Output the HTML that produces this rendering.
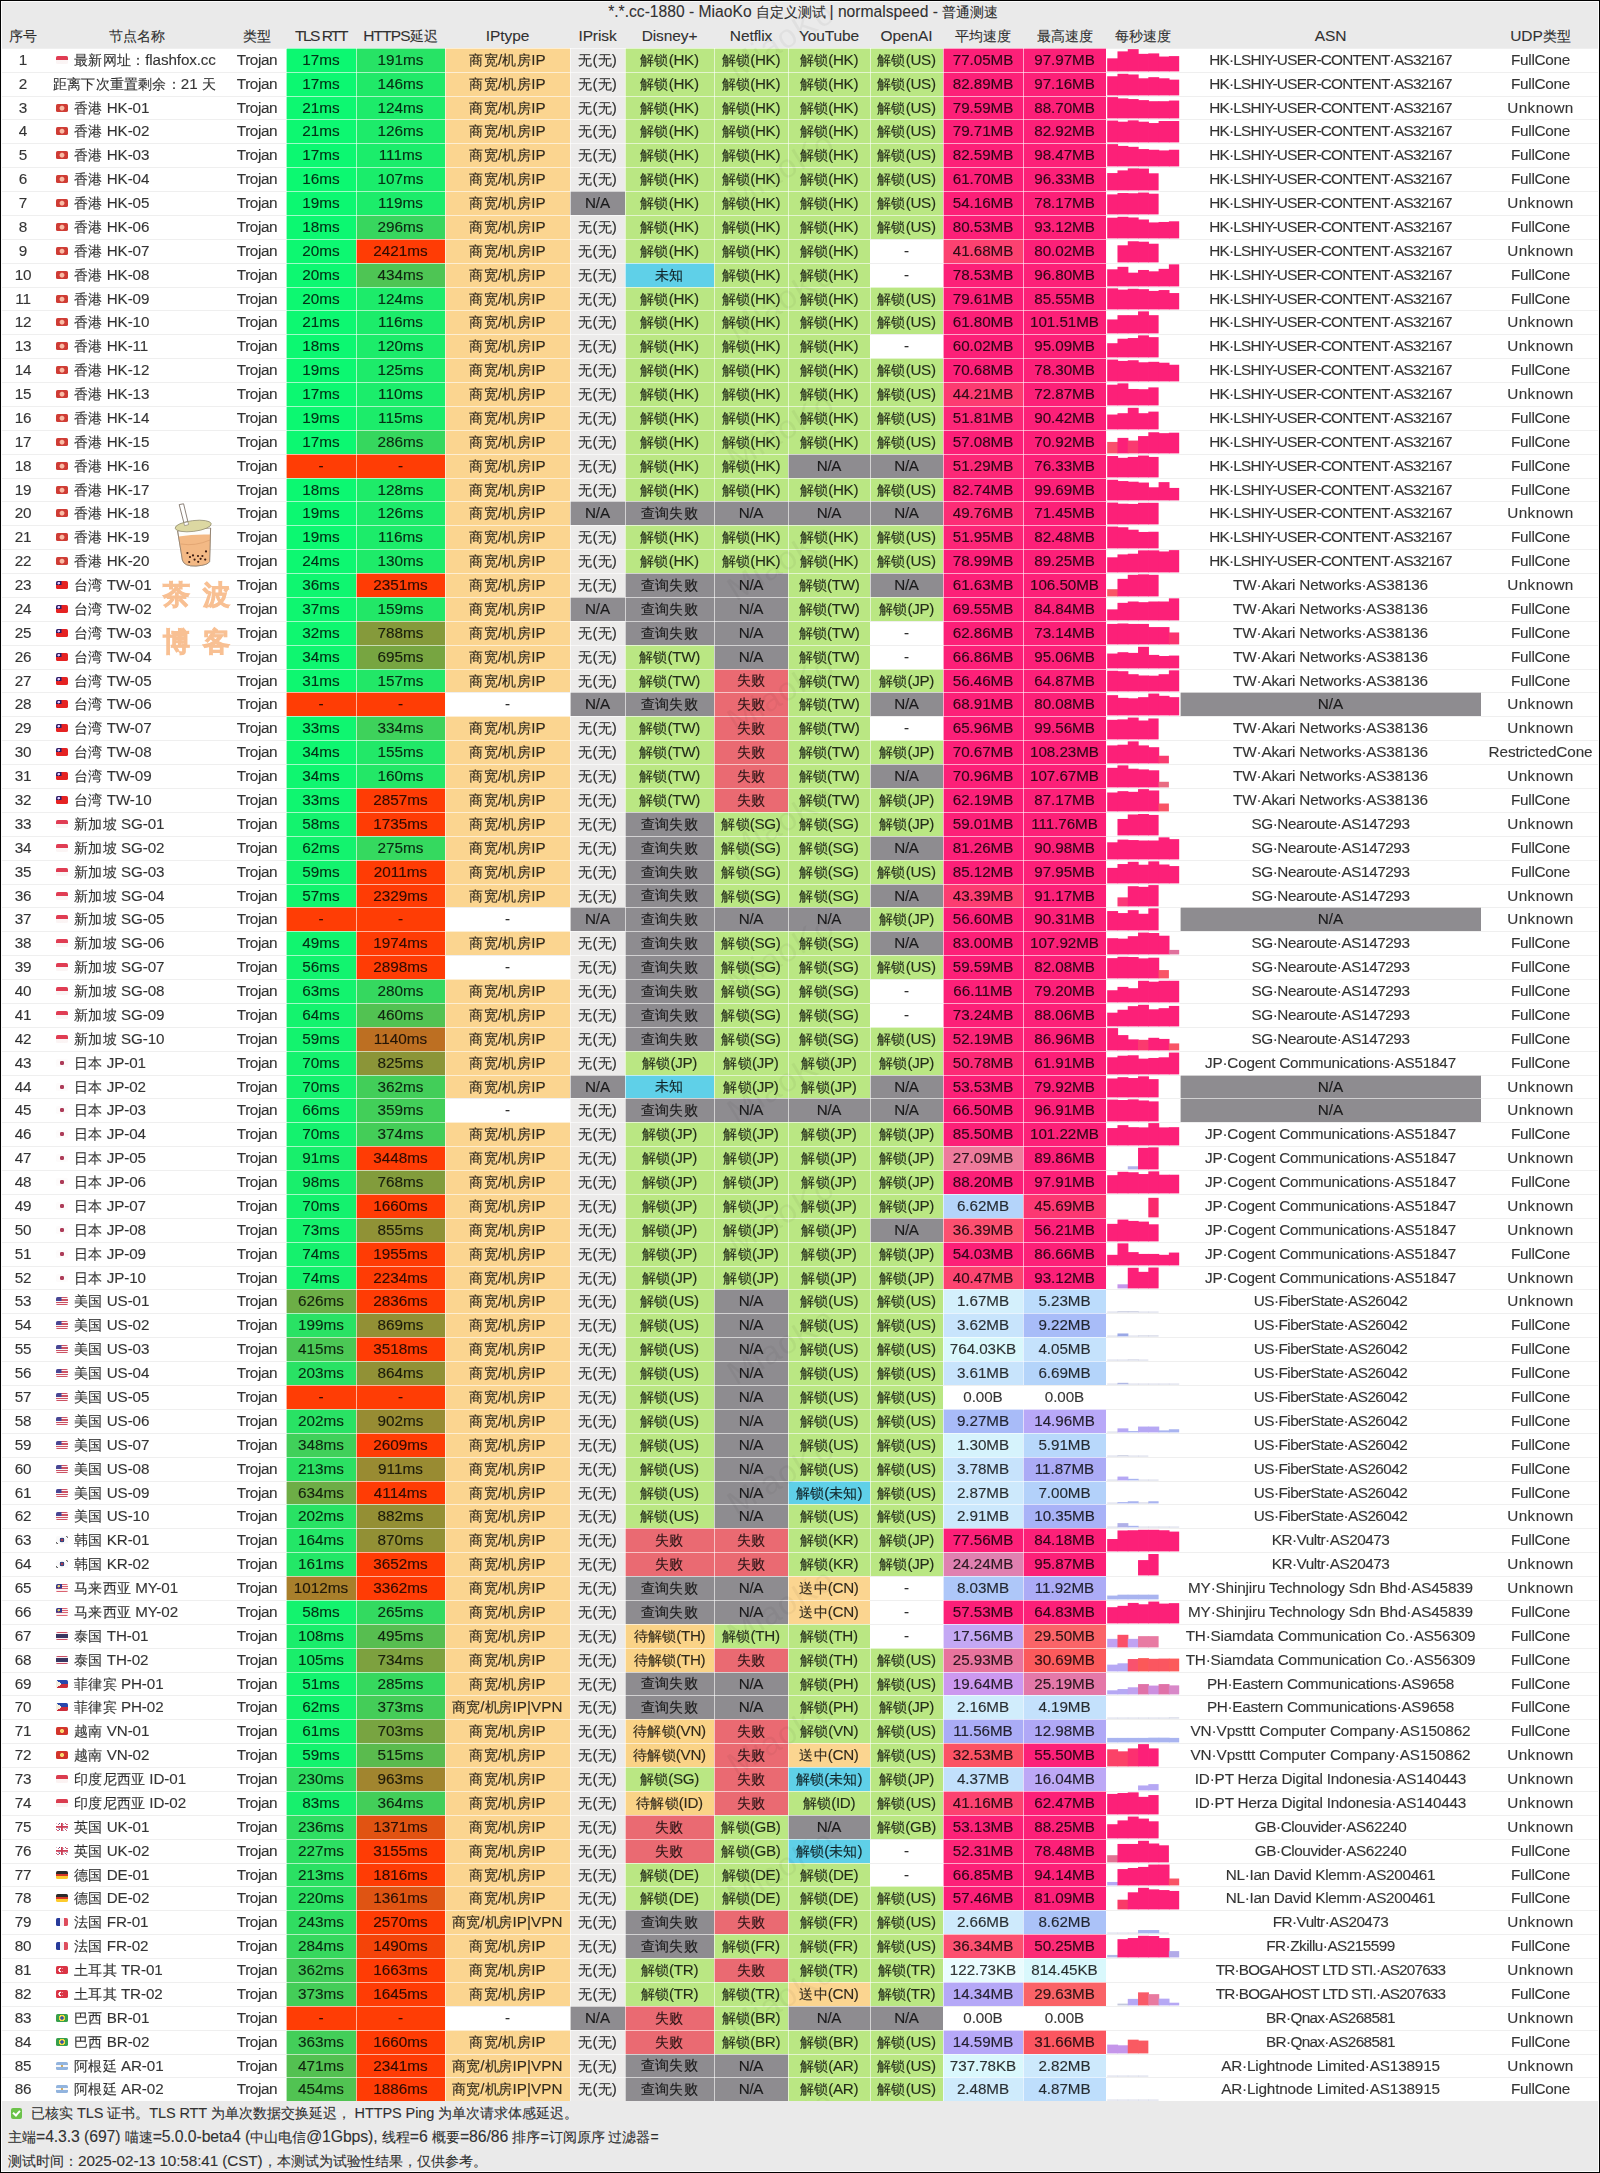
<!DOCTYPE html>
<html><head><meta charset="utf-8"><title>MiaoKo</title>
<style>
html,body{margin:0;padding:0;background:#fff;}
body{width:1600px;height:2173px;position:relative;overflow:hidden;font-family:"Liberation Sans",sans-serif;font-size:14.2px;color:rgba(0,0,0,.8);-webkit-text-stroke:.22px rgba(0,0,0,.5);}
.r{position:absolute;left:0;width:1600px;white-space:nowrap;}
.r.d{box-shadow:inset 0 1px 0 #efefef;}
.c{position:absolute;top:0;bottom:0;text-align:center;overflow:hidden;box-sizing:border-box;}
.c.k{box-shadow:inset 0 1px 0 rgba(255,255,255,.6),inset 1px 0 0 rgba(255,255,255,.6);}
.c span{position:relative;top:-0.5px;}
.hd{background:#eaeaea;}
.nm{text-align:left;padding-left:9px;}
.fl{display:inline-block;width:11.6px;height:8.2px;border-radius:1.6px;vertical-align:.3px;margin-right:6.6px;opacity:.94}
b{font-weight:normal;font-size:15.2px;letter-spacing:-.1px}.f0{font-size:15.3px;letter-spacing:-.2px}.f1{font-size:14.2px}.f2{font-size:15.3px;letter-spacing:-.38px}.f3,.f4{font-size:15.3px}.f5,.f6,.f7,.f8,.f9,.f10{font-size:14.2px}.f5{letter-spacing:.45px}.f5 b{font-size:15.2px;letter-spacing:.1px}.f6{letter-spacing:.3px}.f1{letter-spacing:.2px}.f7,.f8,.f9,.f10{letter-spacing:.2px}.f7 b,.f8 b,.f9 b,.f10 b{font-size:15.2px;letter-spacing:-.3px}.f11,.f12{font-size:15.2px;letter-spacing:-.05px}.f14{font-size:15.3px}.f15{font-size:15.3px}
.hd .c{font-size:14.2px}.hd .c b{font-size:15.5px;letter-spacing:-.1px}
  .tt b{font-size:15.65px !important;letter-spacing:0 !important}
.ft{font-size:14px}.ft b{font-weight:normal;font-size:15.3px}.ft0 b{font-size:14.5px}.ft1 b{font-size:15.8px}
.wrap{position:absolute;left:0;top:0;width:1600px;height:2173px;opacity:.999;overflow:hidden}
.frame{position:absolute;left:0;top:0;width:1598px;height:2171px;border:1px solid #000;box-shadow:inset 0 0 0 1px #fbfbfb;pointer-events:none}
.b{position:absolute;bottom:.4px;width:10.3px;}
.ft{position:absolute;left:8px;}
.wm{-webkit-text-stroke:0;position:absolute;color:rgba(0,0,0,.04);font-size:33px;line-height:36px;transform:rotate(-31deg);letter-spacing:1px;pointer-events:none;}
</style></head><body><div class="wrap">
<div class="r hd" style="top:0px;height:24px;line-height:24px"><div class="c tt" style="left:0;width:1606px"><span><b>*.*.cc-1880 - MiaoKo</b> 自定义测试 <b>| normalspeed -</b> 普通测速</span></div></div><div class="r hd" style="top:24px;height:24px;line-height:24px"><div class="c" style="left:0px;width:46px"><span>序号</span></div><div class="c" style="left:46px;width:182px"><span>节点名称</span></div><div class="c" style="left:228px;width:58px"><span>类型</span></div><div class="c" style="left:286px;width:70px"><span><b style="letter-spacing:-1.5px">TLS RTT</b></span></div><div class="c" style="left:356px;width:89px"><span><b style="letter-spacing:-.85px">HTTPS</b>延迟</span></div><div class="c" style="left:445px;width:125px"><span><b>IPtype</b></span></div><div class="c" style="left:570px;width:55px"><span><b>IPrisk</b></span></div><div class="c" style="left:625px;width:89px"><span><b>Disney+</b></span></div><div class="c" style="left:714px;width:74px"><span><b>Netflix</b></span></div><div class="c" style="left:788px;width:82px"><span><b>YouTube</b></span></div><div class="c" style="left:870px;width:73px"><span><b>OpenAI</b></span></div><div class="c" style="left:943px;width:80px"><span>平均速度</span></div><div class="c" style="left:1023px;width:83px"><span>最高速度</span></div><div class="c" style="left:1106px;width:74px"><span>每秒速度</span></div><div class="c" style="left:1180px;width:301px"><span><b>ASN</b></span></div><div class="c" style="left:1481px;width:119px"><span><b>UDP</b>类型</span></div></div>
<div class="r d" style="top:48px;height:24px;line-height:24px"><div class="c f0" style="left:0px;width:46px;"><span>1</span></div><div class="c nm f1" style="left:46px;width:182px;padding-left:10px"><span><i class="fl" style="background:linear-gradient(#de3048 50%,#fbf4f4 50%)"></i>最新网址：<b>flashfox.cc</b></span></div><div class="c f2" style="left:228px;width:58px;"><span>Trojan</span></div><div class="c f3 k" style="left:286px;width:70px;background:#0cf871;"><span>17ms</span></div><div class="c f4 k" style="left:356px;width:89px;background:#27e365;"><span>191ms</span></div><div class="c f5 k" style="left:445px;width:125px;background:#fbd590;"><span>商宽<b>/</b>机房<b>IP</b></span></div><div class="c f6 k" style="left:570px;width:55px;background:#ecebea;"><span>无<b>(</b>无<b>)</b></span></div><div class="c f7 k" style="left:625px;width:89px;background:#bae783;"><span>解锁<b>(HK)</b></span></div><div class="c f8 k" style="left:714px;width:74px;background:#bae783;"><span>解锁<b>(HK)</b></span></div><div class="c f9 k" style="left:788px;width:82px;background:#bae783;"><span>解锁<b>(HK)</b></span></div><div class="c f10 k" style="left:870px;width:73px;background:#bae783;"><span>解锁<b>(US)</b></span></div><div class="c f11 k" style="left:943px;width:80px;background:#fc2078;"><span>77.05MB</span></div><div class="c f12 k" style="left:1023px;width:83px;background:#fc2078;"><span>97.97MB</span></div><div class="c" style="left:1106px;width:74px"><svg width="74" height="24" style="position:absolute;left:0;top:0"><rect x="1.20" y="10.35" width="10.90" height="13.05" fill="#fc2078"/><rect x="11.48" y="3.38" width="10.90" height="20.02" fill="#fc2078"/><rect x="21.76" y="1.12" width="10.90" height="22.27" fill="#fc2078"/><rect x="32.04" y="5.85" width="10.90" height="17.55" fill="#fc2078"/><rect x="42.32" y="5.40" width="10.90" height="18.00" fill="#fc2078"/><rect x="52.60" y="8.55" width="10.90" height="14.85" fill="#fc2078"/><rect x="62.88" y="8.10" width="10.30" height="15.30" fill="#fc2078"/></svg></div><div class="c f14" style="left:1180px;width:301px;letter-spacing:-0.73px;"><span>HK·LSHIY-USER-CONTENT·AS32167</span></div><div class="c f15" style="left:1481px;width:119px;letter-spacing:-0.25px;"><span>FullCone</span></div></div>
<div class="r d" style="top:72px;height:24px;line-height:24px"><div class="c f0" style="left:0px;width:46px;"><span>2</span></div><div class="c nm f1" style="left:46px;width:182px;padding-left:7px"><span>距离下次重置剩余：<b>21</b> 天</span></div><div class="c f2" style="left:228px;width:58px;"><span>Trojan</span></div><div class="c f3 k" style="left:286px;width:70px;background:#0cf871;"><span>17ms</span></div><div class="c f4 k" style="left:356px;width:89px;background:#20e968;"><span>146ms</span></div><div class="c f5 k" style="left:445px;width:125px;background:#fbd590;"><span>商宽<b>/</b>机房<b>IP</b></span></div><div class="c f6 k" style="left:570px;width:55px;background:#ecebea;"><span>无<b>(</b>无<b>)</b></span></div><div class="c f7 k" style="left:625px;width:89px;background:#bae783;"><span>解锁<b>(HK)</b></span></div><div class="c f8 k" style="left:714px;width:74px;background:#bae783;"><span>解锁<b>(HK)</b></span></div><div class="c f9 k" style="left:788px;width:82px;background:#bae783;"><span>解锁<b>(HK)</b></span></div><div class="c f10 k" style="left:870px;width:73px;background:#bae783;"><span>解锁<b>(US)</b></span></div><div class="c f11 k" style="left:943px;width:80px;background:#fc2078;"><span>82.89MB</span></div><div class="c f12 k" style="left:1023px;width:83px;background:#fc2078;"><span>97.16MB</span></div><div class="c" style="left:1106px;width:74px"><svg width="74" height="24" style="position:absolute;left:0;top:0"><rect x="1.20" y="4.27" width="10.90" height="19.12" fill="#fc2078"/><rect x="11.48" y="1.80" width="10.90" height="21.60" fill="#fc2078"/><rect x="21.76" y="2.47" width="10.90" height="20.93" fill="#fc2078"/><rect x="32.04" y="6.30" width="10.90" height="17.10" fill="#fc2078"/><rect x="42.32" y="5.17" width="10.90" height="18.23" fill="#fc2078"/><rect x="52.60" y="6.30" width="10.90" height="17.10" fill="#fc2078"/><rect x="62.88" y="7.65" width="10.30" height="15.75" fill="#fc2078"/></svg></div><div class="c f14" style="left:1180px;width:301px;letter-spacing:-0.73px;"><span>HK·LSHIY-USER-CONTENT·AS32167</span></div><div class="c f15" style="left:1481px;width:119px;letter-spacing:-0.25px;"><span>FullCone</span></div></div>
<div class="r d" style="top:96px;height:23px;line-height:23px"><div class="c f0" style="left:0px;width:46px;"><span>3</span></div><div class="c nm f1" style="left:46px;width:182px;padding-left:10px"><span><i class="fl" style="background:radial-gradient(circle at 50% 52%,#f9b8a0 0 1.9px,#cc3028 2.9px)"></i>香港 <b>HK-01</b></span></div><div class="c f2" style="left:228px;width:58px;"><span>Trojan</span></div><div class="c f3 k" style="left:286px;width:70px;background:#0df871;"><span>21ms</span></div><div class="c f4 k" style="left:356px;width:89px;background:#1deb6a;"><span>124ms</span></div><div class="c f5 k" style="left:445px;width:125px;background:#fbd590;"><span>商宽<b>/</b>机房<b>IP</b></span></div><div class="c f6 k" style="left:570px;width:55px;background:#ecebea;"><span>无<b>(</b>无<b>)</b></span></div><div class="c f7 k" style="left:625px;width:89px;background:#bae783;"><span>解锁<b>(HK)</b></span></div><div class="c f8 k" style="left:714px;width:74px;background:#bae783;"><span>解锁<b>(HK)</b></span></div><div class="c f9 k" style="left:788px;width:82px;background:#bae783;"><span>解锁<b>(HK)</b></span></div><div class="c f10 k" style="left:870px;width:73px;background:#bae783;"><span>解锁<b>(US)</b></span></div><div class="c f11 k" style="left:943px;width:80px;background:#fc2078;"><span>79.59MB</span></div><div class="c f12 k" style="left:1023px;width:83px;background:#fc2078;"><span>88.70MB</span></div><div class="c" style="left:1106px;width:74px"><svg width="74" height="23" style="position:absolute;left:0;top:0"><rect x="1.20" y="1.11" width="10.90" height="21.29" fill="#fc2078"/><rect x="11.48" y="2.40" width="10.90" height="20.00" fill="#fc2078"/><rect x="21.76" y="3.05" width="10.90" height="19.35" fill="#fc2078"/><rect x="32.04" y="4.12" width="10.90" height="18.27" fill="#fc2078"/><rect x="42.32" y="5.20" width="10.90" height="17.20" fill="#fc2078"/><rect x="52.60" y="5.20" width="10.90" height="17.20" fill="#fc2078"/><rect x="62.88" y="4.55" width="10.30" height="17.84" fill="#fc2078"/></svg></div><div class="c f14" style="left:1180px;width:301px;letter-spacing:-0.73px;"><span>HK·LSHIY-USER-CONTENT·AS32167</span></div><div class="c f15" style="left:1481px;width:119px;letter-spacing:0.37px;"><span>Unknown</span></div></div>
<div class="r d" style="top:119px;height:24px;line-height:24px"><div class="c f0" style="left:0px;width:46px;"><span>4</span></div><div class="c nm f1" style="left:46px;width:182px;padding-left:10px"><span><i class="fl" style="background:radial-gradient(circle at 50% 52%,#f9b8a0 0 1.9px,#cc3028 2.9px)"></i>香港 <b>HK-02</b></span></div><div class="c f2" style="left:228px;width:58px;"><span>Trojan</span></div><div class="c f3 k" style="left:286px;width:70px;background:#0df871;"><span>21ms</span></div><div class="c f4 k" style="left:356px;width:89px;background:#1deb6a;"><span>126ms</span></div><div class="c f5 k" style="left:445px;width:125px;background:#fbd590;"><span>商宽<b>/</b>机房<b>IP</b></span></div><div class="c f6 k" style="left:570px;width:55px;background:#ecebea;"><span>无<b>(</b>无<b>)</b></span></div><div class="c f7 k" style="left:625px;width:89px;background:#bae783;"><span>解锁<b>(HK)</b></span></div><div class="c f8 k" style="left:714px;width:74px;background:#bae783;"><span>解锁<b>(HK)</b></span></div><div class="c f9 k" style="left:788px;width:82px;background:#bae783;"><span>解锁<b>(HK)</b></span></div><div class="c f10 k" style="left:870px;width:73px;background:#bae783;"><span>解锁<b>(US)</b></span></div><div class="c f11 k" style="left:943px;width:80px;background:#fc2078;"><span>79.71MB</span></div><div class="c f12 k" style="left:1023px;width:83px;background:#fc2078;"><span>82.92MB</span></div><div class="c" style="left:1106px;width:74px"><svg width="74" height="24" style="position:absolute;left:0;top:0"><rect x="1.20" y="1.57" width="10.90" height="21.82" fill="#fc2078"/><rect x="11.48" y="2.70" width="10.90" height="20.70" fill="#fc2078"/><rect x="21.76" y="1.35" width="10.90" height="22.05" fill="#fc2078"/><rect x="32.04" y="2.70" width="10.90" height="20.70" fill="#fc2078"/><rect x="42.32" y="4.05" width="10.90" height="19.35" fill="#fc2078"/><rect x="52.60" y="2.02" width="10.90" height="21.38" fill="#fc2078"/><rect x="62.88" y="2.02" width="10.30" height="21.38" fill="#fc2078"/></svg></div><div class="c f14" style="left:1180px;width:301px;letter-spacing:-0.73px;"><span>HK·LSHIY-USER-CONTENT·AS32167</span></div><div class="c f15" style="left:1481px;width:119px;letter-spacing:-0.25px;"><span>FullCone</span></div></div>
<div class="r d" style="top:143px;height:24px;line-height:24px"><div class="c f0" style="left:0px;width:46px;"><span>5</span></div><div class="c nm f1" style="left:46px;width:182px;padding-left:10px"><span><i class="fl" style="background:radial-gradient(circle at 50% 52%,#f9b8a0 0 1.9px,#cc3028 2.9px)"></i>香港 <b>HK-03</b></span></div><div class="c f2" style="left:228px;width:58px;"><span>Trojan</span></div><div class="c f3 k" style="left:286px;width:70px;background:#0cf871;"><span>17ms</span></div><div class="c f4 k" style="left:356px;width:89px;background:#1bed6b;"><span>111ms</span></div><div class="c f5 k" style="left:445px;width:125px;background:#fbd590;"><span>商宽<b>/</b>机房<b>IP</b></span></div><div class="c f6 k" style="left:570px;width:55px;background:#ecebea;"><span>无<b>(</b>无<b>)</b></span></div><div class="c f7 k" style="left:625px;width:89px;background:#bae783;"><span>解锁<b>(HK)</b></span></div><div class="c f8 k" style="left:714px;width:74px;background:#bae783;"><span>解锁<b>(HK)</b></span></div><div class="c f9 k" style="left:788px;width:82px;background:#bae783;"><span>解锁<b>(HK)</b></span></div><div class="c f10 k" style="left:870px;width:73px;background:#bae783;"><span>解锁<b>(US)</b></span></div><div class="c f11 k" style="left:943px;width:80px;background:#fc2078;"><span>82.59MB</span></div><div class="c f12 k" style="left:1023px;width:83px;background:#fc2078;"><span>98.47MB</span></div><div class="c" style="left:1106px;width:74px"><svg width="74" height="24" style="position:absolute;left:0;top:0"><rect x="1.20" y="1.12" width="10.90" height="22.27" fill="#fc2078"/><rect x="11.48" y="2.92" width="10.90" height="20.48" fill="#fc2078"/><rect x="21.76" y="3.82" width="10.90" height="19.57" fill="#fc2078"/><rect x="32.04" y="6.07" width="10.90" height="17.32" fill="#fc2078"/><rect x="42.32" y="6.75" width="10.90" height="16.65" fill="#fc2078"/><rect x="52.60" y="7.42" width="10.90" height="15.97" fill="#fc2078"/><rect x="62.88" y="6.75" width="10.30" height="16.65" fill="#fc2078"/></svg></div><div class="c f14" style="left:1180px;width:301px;letter-spacing:-0.73px;"><span>HK·LSHIY-USER-CONTENT·AS32167</span></div><div class="c f15" style="left:1481px;width:119px;letter-spacing:-0.25px;"><span>FullCone</span></div></div>
<div class="r d" style="top:167px;height:24px;line-height:24px"><div class="c f0" style="left:0px;width:46px;"><span>6</span></div><div class="c nm f1" style="left:46px;width:182px;padding-left:10px"><span><i class="fl" style="background:radial-gradient(circle at 50% 52%,#f9b8a0 0 1.9px,#cc3028 2.9px)"></i>香港 <b>HK-04</b></span></div><div class="c f2" style="left:228px;width:58px;"><span>Trojan</span></div><div class="c f3 k" style="left:286px;width:70px;background:#0cf971;"><span>16ms</span></div><div class="c f4 k" style="left:356px;width:89px;background:#1aed6b;"><span>107ms</span></div><div class="c f5 k" style="left:445px;width:125px;background:#fbd590;"><span>商宽<b>/</b>机房<b>IP</b></span></div><div class="c f6 k" style="left:570px;width:55px;background:#ecebea;"><span>无<b>(</b>无<b>)</b></span></div><div class="c f7 k" style="left:625px;width:89px;background:#bae783;"><span>解锁<b>(HK)</b></span></div><div class="c f8 k" style="left:714px;width:74px;background:#bae783;"><span>解锁<b>(HK)</b></span></div><div class="c f9 k" style="left:788px;width:82px;background:#bae783;"><span>解锁<b>(HK)</b></span></div><div class="c f10 k" style="left:870px;width:73px;background:#bae783;"><span>解锁<b>(US)</b></span></div><div class="c f11 k" style="left:943px;width:80px;background:#fc2078;"><span>61.70MB</span></div><div class="c f12 k" style="left:1023px;width:83px;background:#fc2078;"><span>96.33MB</span></div><div class="c" style="left:1106px;width:74px"><svg width="74" height="24" style="position:absolute;left:0;top:0"><rect x="1.20" y="6.07" width="10.90" height="17.32" fill="#fc2078"/><rect x="11.48" y="3.38" width="10.90" height="20.02" fill="#fc2078"/><rect x="21.76" y="1.35" width="10.90" height="22.05" fill="#fc2078"/><rect x="32.04" y="1.57" width="10.90" height="21.82" fill="#fc2078"/><rect x="42.32" y="6.30" width="10.30" height="17.10" fill="#fc2078"/></svg></div><div class="c f14" style="left:1180px;width:301px;letter-spacing:-0.73px;"><span>HK·LSHIY-USER-CONTENT·AS32167</span></div><div class="c f15" style="left:1481px;width:119px;letter-spacing:-0.25px;"><span>FullCone</span></div></div>
<div class="r d" style="top:191px;height:24px;line-height:24px"><div class="c f0" style="left:0px;width:46px;"><span>7</span></div><div class="c nm f1" style="left:46px;width:182px;padding-left:10px"><span><i class="fl" style="background:radial-gradient(circle at 50% 52%,#f9b8a0 0 1.9px,#cc3028 2.9px)"></i>香港 <b>HK-05</b></span></div><div class="c f2" style="left:228px;width:58px;"><span>Trojan</span></div><div class="c f3 k" style="left:286px;width:70px;background:#0cf871;"><span>19ms</span></div><div class="c f4 k" style="left:356px;width:89px;background:#1cec6a;"><span>119ms</span></div><div class="c f5 k" style="left:445px;width:125px;background:#fbd590;"><span>商宽<b>/</b>机房<b>IP</b></span></div><div class="c f6 k" style="left:570px;width:55px;background:#8e8c90;"><span><b>N/A</b></span></div><div class="c f7 k" style="left:625px;width:89px;background:#bae783;"><span>解锁<b>(HK)</b></span></div><div class="c f8 k" style="left:714px;width:74px;background:#bae783;"><span>解锁<b>(HK)</b></span></div><div class="c f9 k" style="left:788px;width:82px;background:#bae783;"><span>解锁<b>(HK)</b></span></div><div class="c f10 k" style="left:870px;width:73px;background:#bae783;"><span>解锁<b>(US)</b></span></div><div class="c f11 k" style="left:943px;width:80px;background:#fc2078;"><span>54.16MB</span></div><div class="c f12 k" style="left:1023px;width:83px;background:#fc2078;"><span>78.17MB</span></div><div class="c" style="left:1106px;width:74px"><svg width="74" height="24" style="position:absolute;left:0;top:0"><rect x="1.20" y="3.38" width="10.90" height="20.02" fill="#fc2078"/><rect x="11.48" y="2.02" width="10.90" height="21.38" fill="#fc2078"/><rect x="21.76" y="2.25" width="10.90" height="21.15" fill="#fc2078"/><rect x="32.04" y="1.57" width="10.90" height="21.82" fill="#fc2078"/><rect x="42.32" y="2.70" width="10.30" height="20.70" fill="#fc2078"/></svg></div><div class="c f14" style="left:1180px;width:301px;letter-spacing:-0.73px;"><span>HK·LSHIY-USER-CONTENT·AS32167</span></div><div class="c f15" style="left:1481px;width:119px;letter-spacing:0.37px;"><span>Unknown</span></div></div>
<div class="r d" style="top:215px;height:24px;line-height:24px"><div class="c f0" style="left:0px;width:46px;"><span>8</span></div><div class="c nm f1" style="left:46px;width:182px;padding-left:10px"><span><i class="fl" style="background:radial-gradient(circle at 50% 52%,#f9b8a0 0 1.9px,#cc3028 2.9px)"></i>香港 <b>HK-06</b></span></div><div class="c f2" style="left:228px;width:58px;"><span>Trojan</span></div><div class="c f3 k" style="left:286px;width:70px;background:#0cf871;"><span>18ms</span></div><div class="c f4 k" style="left:356px;width:89px;background:#38d65e;"><span>296ms</span></div><div class="c f5 k" style="left:445px;width:125px;background:#fbd590;"><span>商宽<b>/</b>机房<b>IP</b></span></div><div class="c f6 k" style="left:570px;width:55px;background:#ecebea;"><span>无<b>(</b>无<b>)</b></span></div><div class="c f7 k" style="left:625px;width:89px;background:#bae783;"><span>解锁<b>(HK)</b></span></div><div class="c f8 k" style="left:714px;width:74px;background:#bae783;"><span>解锁<b>(HK)</b></span></div><div class="c f9 k" style="left:788px;width:82px;background:#bae783;"><span>解锁<b>(HK)</b></span></div><div class="c f10 k" style="left:870px;width:73px;background:#bae783;"><span>解锁<b>(US)</b></span></div><div class="c f11 k" style="left:943px;width:80px;background:#fc2078;"><span>80.53MB</span></div><div class="c f12 k" style="left:1023px;width:83px;background:#fc2078;"><span>93.12MB</span></div><div class="c" style="left:1106px;width:74px"><svg width="74" height="24" style="position:absolute;left:0;top:0"><rect x="1.20" y="2.70" width="10.90" height="20.70" fill="#fc2078"/><rect x="11.48" y="1.80" width="10.90" height="21.60" fill="#fc2078"/><rect x="21.76" y="2.47" width="10.90" height="20.93" fill="#fc2078"/><rect x="32.04" y="4.50" width="10.90" height="18.90" fill="#fc2078"/><rect x="42.32" y="7.42" width="10.90" height="15.97" fill="#fc2078"/><rect x="52.60" y="6.97" width="10.90" height="16.43" fill="#fc2078"/><rect x="62.88" y="6.30" width="10.30" height="17.10" fill="#fc2078"/></svg></div><div class="c f14" style="left:1180px;width:301px;letter-spacing:-0.73px;"><span>HK·LSHIY-USER-CONTENT·AS32167</span></div><div class="c f15" style="left:1481px;width:119px;letter-spacing:-0.25px;"><span>FullCone</span></div></div>
<div class="r d" style="top:239px;height:24px;line-height:24px"><div class="c f0" style="left:0px;width:46px;"><span>9</span></div><div class="c nm f1" style="left:46px;width:182px;padding-left:10px"><span><i class="fl" style="background:radial-gradient(circle at 50% 52%,#f9b8a0 0 1.9px,#cc3028 2.9px)"></i>香港 <b>HK-07</b></span></div><div class="c f2" style="left:228px;width:58px;"><span>Trojan</span></div><div class="c f3 k" style="left:286px;width:70px;background:#0df871;"><span>20ms</span></div><div class="c f4 k" style="left:356px;width:89px;background:#ff3c05;"><span>2421ms</span></div><div class="c f5 k" style="left:445px;width:125px;background:#fbd590;"><span>商宽<b>/</b>机房<b>IP</b></span></div><div class="c f6 k" style="left:570px;width:55px;background:#ecebea;"><span>无<b>(</b>无<b>)</b></span></div><div class="c f7 k" style="left:625px;width:89px;background:#bae783;"><span>解锁<b>(HK)</b></span></div><div class="c f8 k" style="left:714px;width:74px;background:#bae783;"><span>解锁<b>(HK)</b></span></div><div class="c f9 k" style="left:788px;width:82px;background:#bae783;"><span>解锁<b>(HK)</b></span></div><div class="c f10" style="left:870px;width:73px;"><span><b>-</b></span></div><div class="c f11 k" style="left:943px;width:80px;background:#fc4170;"><span>41.68MB</span></div><div class="c f12 k" style="left:1023px;width:83px;background:#fc2078;"><span>80.02MB</span></div><div class="c" style="left:1106px;width:74px"><svg width="74" height="24" style="position:absolute;left:0;top:0"><rect x="11.48" y="6.30" width="10.90" height="17.10" fill="#fc2078"/><rect x="21.76" y="2.25" width="10.90" height="21.15" fill="#fc2078"/><rect x="32.04" y="2.70" width="10.90" height="20.70" fill="#fc2078"/><rect x="42.32" y="4.72" width="10.30" height="18.68" fill="#fc2078"/></svg></div><div class="c f14" style="left:1180px;width:301px;letter-spacing:-0.73px;"><span>HK·LSHIY-USER-CONTENT·AS32167</span></div><div class="c f15" style="left:1481px;width:119px;letter-spacing:0.37px;"><span>Unknown</span></div></div>
<div class="r d" style="top:263px;height:24px;line-height:24px"><div class="c f0" style="left:0px;width:46px;"><span>10</span></div><div class="c nm f1" style="left:46px;width:182px;padding-left:10px"><span><i class="fl" style="background:radial-gradient(circle at 50% 52%,#f9b8a0 0 1.9px,#cc3028 2.9px)"></i>香港 <b>HK-08</b></span></div><div class="c f2" style="left:228px;width:58px;"><span>Trojan</span></div><div class="c f3 k" style="left:286px;width:70px;background:#0df871;"><span>20ms</span></div><div class="c f4 k" style="left:356px;width:89px;background:#4ec554;"><span>434ms</span></div><div class="c f5 k" style="left:445px;width:125px;background:#fbd590;"><span>商宽<b>/</b>机房<b>IP</b></span></div><div class="c f6 k" style="left:570px;width:55px;background:#ecebea;"><span>无<b>(</b>无<b>)</b></span></div><div class="c f7 k" style="left:625px;width:89px;background:#5fd0e8;"><span>未知</span></div><div class="c f8 k" style="left:714px;width:74px;background:#bae783;"><span>解锁<b>(HK)</b></span></div><div class="c f9 k" style="left:788px;width:82px;background:#bae783;"><span>解锁<b>(HK)</b></span></div><div class="c f10" style="left:870px;width:73px;"><span><b>-</b></span></div><div class="c f11 k" style="left:943px;width:80px;background:#fc2078;"><span>78.53MB</span></div><div class="c f12 k" style="left:1023px;width:83px;background:#fc2078;"><span>96.80MB</span></div><div class="c" style="left:1106px;width:74px"><svg width="74" height="24" style="position:absolute;left:0;top:0"><rect x="1.20" y="6.30" width="10.90" height="17.10" fill="#fc2078"/><rect x="11.48" y="3.82" width="10.90" height="19.57" fill="#fc2078"/><rect x="21.76" y="9.67" width="10.90" height="13.72" fill="#fc2078"/><rect x="32.04" y="6.97" width="10.90" height="16.43" fill="#fc2078"/><rect x="42.32" y="8.32" width="10.90" height="15.08" fill="#fc2078"/><rect x="52.60" y="5.85" width="10.90" height="17.55" fill="#fc2078"/><rect x="62.88" y="1.35" width="10.30" height="22.05" fill="#fc2078"/></svg></div><div class="c f14" style="left:1180px;width:301px;letter-spacing:-0.73px;"><span>HK·LSHIY-USER-CONTENT·AS32167</span></div><div class="c f15" style="left:1481px;width:119px;letter-spacing:-0.25px;"><span>FullCone</span></div></div>
<div class="r d" style="top:287px;height:23px;line-height:23px"><div class="c f0" style="left:0px;width:46px;"><span>11</span></div><div class="c nm f1" style="left:46px;width:182px;padding-left:10px"><span><i class="fl" style="background:radial-gradient(circle at 50% 52%,#f9b8a0 0 1.9px,#cc3028 2.9px)"></i>香港 <b>HK-09</b></span></div><div class="c f2" style="left:228px;width:58px;"><span>Trojan</span></div><div class="c f3 k" style="left:286px;width:70px;background:#0df871;"><span>20ms</span></div><div class="c f4 k" style="left:356px;width:89px;background:#1deb6a;"><span>124ms</span></div><div class="c f5 k" style="left:445px;width:125px;background:#fbd590;"><span>商宽<b>/</b>机房<b>IP</b></span></div><div class="c f6 k" style="left:570px;width:55px;background:#ecebea;"><span>无<b>(</b>无<b>)</b></span></div><div class="c f7 k" style="left:625px;width:89px;background:#bae783;"><span>解锁<b>(HK)</b></span></div><div class="c f8 k" style="left:714px;width:74px;background:#bae783;"><span>解锁<b>(HK)</b></span></div><div class="c f9 k" style="left:788px;width:82px;background:#bae783;"><span>解锁<b>(HK)</b></span></div><div class="c f10 k" style="left:870px;width:73px;background:#bae783;"><span>解锁<b>(US)</b></span></div><div class="c f11 k" style="left:943px;width:80px;background:#fc2078;"><span>79.61MB</span></div><div class="c f12 k" style="left:1023px;width:83px;background:#fc2078;"><span>85.55MB</span></div><div class="c" style="left:1106px;width:74px"><svg width="74" height="23" style="position:absolute;left:0;top:0"><rect x="1.20" y="1.33" width="10.90" height="21.07" fill="#fc2078"/><rect x="11.48" y="2.62" width="10.90" height="19.78" fill="#fc2078"/><rect x="21.76" y="1.76" width="10.90" height="20.64" fill="#fc2078"/><rect x="32.04" y="2.19" width="10.90" height="20.21" fill="#fc2078"/><rect x="42.32" y="3.91" width="10.90" height="18.49" fill="#fc2078"/><rect x="52.60" y="3.05" width="10.90" height="19.35" fill="#fc2078"/><rect x="62.88" y="6.06" width="10.30" height="16.34" fill="#fc2078"/></svg></div><div class="c f14" style="left:1180px;width:301px;letter-spacing:-0.73px;"><span>HK·LSHIY-USER-CONTENT·AS32167</span></div><div class="c f15" style="left:1481px;width:119px;letter-spacing:-0.25px;"><span>FullCone</span></div></div>
<div class="r d" style="top:310px;height:24px;line-height:24px"><div class="c f0" style="left:0px;width:46px;"><span>12</span></div><div class="c nm f1" style="left:46px;width:182px;padding-left:10px"><span><i class="fl" style="background:radial-gradient(circle at 50% 52%,#f9b8a0 0 1.9px,#cc3028 2.9px)"></i>香港 <b>HK-10</b></span></div><div class="c f2" style="left:228px;width:58px;"><span>Trojan</span></div><div class="c f3 k" style="left:286px;width:70px;background:#0df871;"><span>21ms</span></div><div class="c f4 k" style="left:356px;width:89px;background:#1cec6a;"><span>116ms</span></div><div class="c f5 k" style="left:445px;width:125px;background:#fbd590;"><span>商宽<b>/</b>机房<b>IP</b></span></div><div class="c f6 k" style="left:570px;width:55px;background:#ecebea;"><span>无<b>(</b>无<b>)</b></span></div><div class="c f7 k" style="left:625px;width:89px;background:#bae783;"><span>解锁<b>(HK)</b></span></div><div class="c f8 k" style="left:714px;width:74px;background:#bae783;"><span>解锁<b>(HK)</b></span></div><div class="c f9 k" style="left:788px;width:82px;background:#bae783;"><span>解锁<b>(HK)</b></span></div><div class="c f10 k" style="left:870px;width:73px;background:#bae783;"><span>解锁<b>(US)</b></span></div><div class="c f11 k" style="left:943px;width:80px;background:#fc2078;"><span>61.80MB</span></div><div class="c f12 k" style="left:1023px;width:83px;background:#fc2078;"><span>101.51MB</span></div><div class="c" style="left:1106px;width:74px"><svg width="74" height="24" style="position:absolute;left:0;top:0"><rect x="1.20" y="9.45" width="10.90" height="13.95" fill="#fc2078"/><rect x="11.48" y="5.17" width="10.90" height="18.23" fill="#fc2078"/><rect x="21.76" y="5.17" width="10.90" height="18.23" fill="#fc2078"/><rect x="32.04" y="1.35" width="10.90" height="22.05" fill="#fc2078"/><rect x="42.32" y="5.17" width="10.30" height="18.23" fill="#fc2078"/></svg></div><div class="c f14" style="left:1180px;width:301px;letter-spacing:-0.73px;"><span>HK·LSHIY-USER-CONTENT·AS32167</span></div><div class="c f15" style="left:1481px;width:119px;letter-spacing:0.37px;"><span>Unknown</span></div></div>
<div class="r d" style="top:334px;height:24px;line-height:24px"><div class="c f0" style="left:0px;width:46px;"><span>13</span></div><div class="c nm f1" style="left:46px;width:182px;padding-left:10px"><span><i class="fl" style="background:radial-gradient(circle at 50% 52%,#f9b8a0 0 1.9px,#cc3028 2.9px)"></i>香港 <b>HK-11</b></span></div><div class="c f2" style="left:228px;width:58px;"><span>Trojan</span></div><div class="c f3 k" style="left:286px;width:70px;background:#0cf871;"><span>18ms</span></div><div class="c f4 k" style="left:356px;width:89px;background:#1cec6a;"><span>120ms</span></div><div class="c f5 k" style="left:445px;width:125px;background:#fbd590;"><span>商宽<b>/</b>机房<b>IP</b></span></div><div class="c f6 k" style="left:570px;width:55px;background:#ecebea;"><span>无<b>(</b>无<b>)</b></span></div><div class="c f7 k" style="left:625px;width:89px;background:#bae783;"><span>解锁<b>(HK)</b></span></div><div class="c f8 k" style="left:714px;width:74px;background:#bae783;"><span>解锁<b>(HK)</b></span></div><div class="c f9 k" style="left:788px;width:82px;background:#bae783;"><span>解锁<b>(HK)</b></span></div><div class="c f10" style="left:870px;width:73px;"><span><b>-</b></span></div><div class="c f11 k" style="left:943px;width:80px;background:#fc2078;"><span>60.02MB</span></div><div class="c f12 k" style="left:1023px;width:83px;background:#fc2078;"><span>95.09MB</span></div><div class="c" style="left:1106px;width:74px"><svg width="74" height="24" style="position:absolute;left:0;top:0"><rect x="1.20" y="9.22" width="10.90" height="14.18" fill="#fc2078"/><rect x="11.48" y="4.72" width="10.90" height="18.68" fill="#fc2078"/><rect x="21.76" y="4.05" width="10.90" height="19.35" fill="#fc2078"/><rect x="32.04" y="1.35" width="10.90" height="22.05" fill="#fc2078"/><rect x="42.32" y="3.15" width="10.30" height="20.25" fill="#fc2078"/></svg></div><div class="c f14" style="left:1180px;width:301px;letter-spacing:-0.73px;"><span>HK·LSHIY-USER-CONTENT·AS32167</span></div><div class="c f15" style="left:1481px;width:119px;letter-spacing:0.37px;"><span>Unknown</span></div></div>
<div class="r d" style="top:358px;height:24px;line-height:24px"><div class="c f0" style="left:0px;width:46px;"><span>14</span></div><div class="c nm f1" style="left:46px;width:182px;padding-left:10px"><span><i class="fl" style="background:radial-gradient(circle at 50% 52%,#f9b8a0 0 1.9px,#cc3028 2.9px)"></i>香港 <b>HK-12</b></span></div><div class="c f2" style="left:228px;width:58px;"><span>Trojan</span></div><div class="c f3 k" style="left:286px;width:70px;background:#0cf871;"><span>19ms</span></div><div class="c f4 k" style="left:356px;width:89px;background:#1deb6a;"><span>125ms</span></div><div class="c f5 k" style="left:445px;width:125px;background:#fbd590;"><span>商宽<b>/</b>机房<b>IP</b></span></div><div class="c f6 k" style="left:570px;width:55px;background:#ecebea;"><span>无<b>(</b>无<b>)</b></span></div><div class="c f7 k" style="left:625px;width:89px;background:#bae783;"><span>解锁<b>(HK)</b></span></div><div class="c f8 k" style="left:714px;width:74px;background:#bae783;"><span>解锁<b>(HK)</b></span></div><div class="c f9 k" style="left:788px;width:82px;background:#bae783;"><span>解锁<b>(HK)</b></span></div><div class="c f10 k" style="left:870px;width:73px;background:#bae783;"><span>解锁<b>(US)</b></span></div><div class="c f11 k" style="left:943px;width:80px;background:#fc2078;"><span>70.68MB</span></div><div class="c f12 k" style="left:1023px;width:83px;background:#fc2078;"><span>78.30MB</span></div><div class="c" style="left:1106px;width:74px"><svg width="74" height="24" style="position:absolute;left:0;top:0"><rect x="1.20" y="1.57" width="10.90" height="21.82" fill="#fc2078"/><rect x="11.48" y="2.92" width="10.90" height="20.48" fill="#fc2078"/><rect x="21.76" y="2.25" width="10.90" height="21.15" fill="#fc2078"/><rect x="32.04" y="4.27" width="10.90" height="19.12" fill="#fc2078"/><rect x="42.32" y="3.82" width="10.90" height="19.57" fill="#fc2078"/><rect x="52.60" y="4.72" width="10.90" height="18.68" fill="#fc2078"/><rect x="62.88" y="6.75" width="10.30" height="16.65" fill="#fc2078"/></svg></div><div class="c f14" style="left:1180px;width:301px;letter-spacing:-0.73px;"><span>HK·LSHIY-USER-CONTENT·AS32167</span></div><div class="c f15" style="left:1481px;width:119px;letter-spacing:-0.25px;"><span>FullCone</span></div></div>
<div class="r d" style="top:382px;height:24px;line-height:24px"><div class="c f0" style="left:0px;width:46px;"><span>15</span></div><div class="c nm f1" style="left:46px;width:182px;padding-left:10px"><span><i class="fl" style="background:radial-gradient(circle at 50% 52%,#f9b8a0 0 1.9px,#cc3028 2.9px)"></i>香港 <b>HK-13</b></span></div><div class="c f2" style="left:228px;width:58px;"><span>Trojan</span></div><div class="c f3 k" style="left:286px;width:70px;background:#0cf871;"><span>17ms</span></div><div class="c f4 k" style="left:356px;width:89px;background:#1bed6b;"><span>110ms</span></div><div class="c f5 k" style="left:445px;width:125px;background:#fbd590;"><span>商宽<b>/</b>机房<b>IP</b></span></div><div class="c f6 k" style="left:570px;width:55px;background:#ecebea;"><span>无<b>(</b>无<b>)</b></span></div><div class="c f7 k" style="left:625px;width:89px;background:#bae783;"><span>解锁<b>(HK)</b></span></div><div class="c f8 k" style="left:714px;width:74px;background:#bae783;"><span>解锁<b>(HK)</b></span></div><div class="c f9 k" style="left:788px;width:82px;background:#bae783;"><span>解锁<b>(HK)</b></span></div><div class="c f10 k" style="left:870px;width:73px;background:#bae783;"><span>解锁<b>(US)</b></span></div><div class="c f11 k" style="left:943px;width:80px;background:#fc3b71;"><span>44.21MB</span></div><div class="c f12 k" style="left:1023px;width:83px;background:#fc2078;"><span>72.87MB</span></div><div class="c" style="left:1106px;width:74px"><svg width="74" height="24" style="position:absolute;left:0;top:0"><rect x="1.20" y="2.70" width="10.90" height="20.70" fill="#fc2078"/><rect x="11.48" y="1.35" width="10.90" height="22.05" fill="#fc2078"/><rect x="21.76" y="6.97" width="10.90" height="16.43" fill="#fc2078"/><rect x="32.04" y="7.20" width="10.90" height="16.20" fill="#fc2078"/><rect x="42.32" y="5.40" width="10.30" height="18.00" fill="#fc2078"/></svg></div><div class="c f14" style="left:1180px;width:301px;letter-spacing:-0.73px;"><span>HK·LSHIY-USER-CONTENT·AS32167</span></div><div class="c f15" style="left:1481px;width:119px;letter-spacing:0.37px;"><span>Unknown</span></div></div>
<div class="r d" style="top:406px;height:24px;line-height:24px"><div class="c f0" style="left:0px;width:46px;"><span>16</span></div><div class="c nm f1" style="left:46px;width:182px;padding-left:10px"><span><i class="fl" style="background:radial-gradient(circle at 50% 52%,#f9b8a0 0 1.9px,#cc3028 2.9px)"></i>香港 <b>HK-14</b></span></div><div class="c f2" style="left:228px;width:58px;"><span>Trojan</span></div><div class="c f3 k" style="left:286px;width:70px;background:#0cf871;"><span>19ms</span></div><div class="c f4 k" style="left:356px;width:89px;background:#1cec6a;"><span>115ms</span></div><div class="c f5 k" style="left:445px;width:125px;background:#fbd590;"><span>商宽<b>/</b>机房<b>IP</b></span></div><div class="c f6 k" style="left:570px;width:55px;background:#ecebea;"><span>无<b>(</b>无<b>)</b></span></div><div class="c f7 k" style="left:625px;width:89px;background:#bae783;"><span>解锁<b>(HK)</b></span></div><div class="c f8 k" style="left:714px;width:74px;background:#bae783;"><span>解锁<b>(HK)</b></span></div><div class="c f9 k" style="left:788px;width:82px;background:#bae783;"><span>解锁<b>(HK)</b></span></div><div class="c f10 k" style="left:870px;width:73px;background:#bae783;"><span>解锁<b>(US)</b></span></div><div class="c f11 k" style="left:943px;width:80px;background:#fc2777;"><span>51.81MB</span></div><div class="c f12 k" style="left:1023px;width:83px;background:#fc2078;"><span>90.42MB</span></div><div class="c" style="left:1106px;width:74px"><svg width="74" height="24" style="position:absolute;left:0;top:0"><rect x="1.20" y="8.55" width="10.90" height="14.85" fill="#fc2078"/><rect x="11.48" y="7.20" width="10.90" height="16.20" fill="#fc2078"/><rect x="21.76" y="1.80" width="10.90" height="21.60" fill="#fc2078"/><rect x="32.04" y="7.20" width="10.90" height="16.20" fill="#fc2078"/><rect x="42.32" y="5.62" width="10.30" height="17.78" fill="#fc2078"/></svg></div><div class="c f14" style="left:1180px;width:301px;letter-spacing:-0.73px;"><span>HK·LSHIY-USER-CONTENT·AS32167</span></div><div class="c f15" style="left:1481px;width:119px;letter-spacing:-0.25px;"><span>FullCone</span></div></div>
<div class="r d" style="top:430px;height:24px;line-height:24px"><div class="c f0" style="left:0px;width:46px;"><span>17</span></div><div class="c nm f1" style="left:46px;width:182px;padding-left:10px"><span><i class="fl" style="background:radial-gradient(circle at 50% 52%,#f9b8a0 0 1.9px,#cc3028 2.9px)"></i>香港 <b>HK-15</b></span></div><div class="c f2" style="left:228px;width:58px;"><span>Trojan</span></div><div class="c f3 k" style="left:286px;width:70px;background:#0cf871;"><span>17ms</span></div><div class="c f4 k" style="left:356px;width:89px;background:#36d75e;"><span>286ms</span></div><div class="c f5 k" style="left:445px;width:125px;background:#fbd590;"><span>商宽<b>/</b>机房<b>IP</b></span></div><div class="c f6 k" style="left:570px;width:55px;background:#ecebea;"><span>无<b>(</b>无<b>)</b></span></div><div class="c f7 k" style="left:625px;width:89px;background:#bae783;"><span>解锁<b>(HK)</b></span></div><div class="c f8 k" style="left:714px;width:74px;background:#bae783;"><span>解锁<b>(HK)</b></span></div><div class="c f9 k" style="left:788px;width:82px;background:#bae783;"><span>解锁<b>(HK)</b></span></div><div class="c f10 k" style="left:870px;width:73px;background:#bae783;"><span>解锁<b>(US)</b></span></div><div class="c f11 k" style="left:943px;width:80px;background:#fc2078;"><span>57.08MB</span></div><div class="c f12 k" style="left:1023px;width:83px;background:#fc2078;"><span>70.92MB</span></div><div class="c" style="left:1106px;width:74px"><svg width="74" height="24" style="position:absolute;left:0;top:0"><rect x="1.20" y="11.92" width="10.90" height="11.47" fill="#f9506c"/><rect x="11.48" y="7.88" width="10.90" height="15.52" fill="#fc2078"/><rect x="21.76" y="10.57" width="10.90" height="12.82" fill="#fa3a70"/><rect x="32.04" y="6.07" width="10.90" height="17.32" fill="#fc2078"/><rect x="42.32" y="2.25" width="10.90" height="21.15" fill="#fc2078"/><rect x="52.60" y="3.15" width="10.90" height="20.25" fill="#fc2078"/><rect x="62.88" y="2.70" width="10.30" height="20.70" fill="#fc2078"/></svg></div><div class="c f14" style="left:1180px;width:301px;letter-spacing:-0.73px;"><span>HK·LSHIY-USER-CONTENT·AS32167</span></div><div class="c f15" style="left:1481px;width:119px;letter-spacing:-0.25px;"><span>FullCone</span></div></div>
<div class="r d" style="top:454px;height:24px;line-height:24px"><div class="c f0" style="left:0px;width:46px;"><span>18</span></div><div class="c nm f1" style="left:46px;width:182px;padding-left:10px"><span><i class="fl" style="background:radial-gradient(circle at 50% 52%,#f9b8a0 0 1.9px,#cc3028 2.9px)"></i>香港 <b>HK-16</b></span></div><div class="c f2" style="left:228px;width:58px;"><span>Trojan</span></div><div class="c f3 k" style="left:286px;width:70px;background:#ff3d05;"><span>-</span></div><div class="c f4 k" style="left:356px;width:89px;background:#ff3d05;"><span>-</span></div><div class="c f5 k" style="left:445px;width:125px;background:#fbd590;"><span>商宽<b>/</b>机房<b>IP</b></span></div><div class="c f6 k" style="left:570px;width:55px;background:#ecebea;"><span>无<b>(</b>无<b>)</b></span></div><div class="c f7 k" style="left:625px;width:89px;background:#bae783;"><span>解锁<b>(HK)</b></span></div><div class="c f8 k" style="left:714px;width:74px;background:#bae783;"><span>解锁<b>(HK)</b></span></div><div class="c f9 k" style="left:788px;width:82px;background:#8e8c90;"><span><b>N/A</b></span></div><div class="c f10 k" style="left:870px;width:73px;background:#8e8c90;"><span><b>N/A</b></span></div><div class="c f11 k" style="left:943px;width:80px;background:#fc2877;"><span>51.29MB</span></div><div class="c f12 k" style="left:1023px;width:83px;background:#fc2078;"><span>76.33MB</span></div><div class="c" style="left:1106px;width:74px"><svg width="74" height="24" style="position:absolute;left:0;top:0"><rect x="1.20" y="2.02" width="10.90" height="21.38" fill="#fc2078"/><rect x="11.48" y="3.82" width="10.90" height="19.57" fill="#fc2078"/><rect x="21.76" y="2.92" width="10.90" height="20.48" fill="#fc2078"/><rect x="32.04" y="1.57" width="10.90" height="21.82" fill="#fc2078"/><rect x="42.32" y="2.92" width="10.30" height="20.48" fill="#fc2078"/></svg></div><div class="c f14" style="left:1180px;width:301px;letter-spacing:-0.73px;"><span>HK·LSHIY-USER-CONTENT·AS32167</span></div><div class="c f15" style="left:1481px;width:119px;letter-spacing:-0.25px;"><span>FullCone</span></div></div>
<div class="r d" style="top:478px;height:23px;line-height:23px"><div class="c f0" style="left:0px;width:46px;"><span>19</span></div><div class="c nm f1" style="left:46px;width:182px;padding-left:10px"><span><i class="fl" style="background:radial-gradient(circle at 50% 52%,#f9b8a0 0 1.9px,#cc3028 2.9px)"></i>香港 <b>HK-17</b></span></div><div class="c f2" style="left:228px;width:58px;"><span>Trojan</span></div><div class="c f3 k" style="left:286px;width:70px;background:#0cf871;"><span>18ms</span></div><div class="c f4 k" style="left:356px;width:89px;background:#1eeb69;"><span>128ms</span></div><div class="c f5 k" style="left:445px;width:125px;background:#fbd590;"><span>商宽<b>/</b>机房<b>IP</b></span></div><div class="c f6 k" style="left:570px;width:55px;background:#ecebea;"><span>无<b>(</b>无<b>)</b></span></div><div class="c f7 k" style="left:625px;width:89px;background:#bae783;"><span>解锁<b>(HK)</b></span></div><div class="c f8 k" style="left:714px;width:74px;background:#bae783;"><span>解锁<b>(HK)</b></span></div><div class="c f9 k" style="left:788px;width:82px;background:#bae783;"><span>解锁<b>(HK)</b></span></div><div class="c f10 k" style="left:870px;width:73px;background:#bae783;"><span>解锁<b>(US)</b></span></div><div class="c f11 k" style="left:943px;width:80px;background:#fc2078;"><span>82.74MB</span></div><div class="c f12 k" style="left:1023px;width:83px;background:#fc2078;"><span>99.69MB</span></div><div class="c" style="left:1106px;width:74px"><svg width="74" height="23" style="position:absolute;left:0;top:0"><rect x="1.20" y="1.76" width="10.90" height="20.64" fill="#fc2078"/><rect x="11.48" y="3.05" width="10.90" height="19.35" fill="#fc2078"/><rect x="21.76" y="3.70" width="10.90" height="18.70" fill="#fc2078"/><rect x="32.04" y="4.55" width="10.90" height="17.84" fill="#fc2078"/><rect x="42.32" y="9.28" width="10.90" height="13.12" fill="#fc2078"/><rect x="52.60" y="4.12" width="10.90" height="18.27" fill="#fc2078"/><rect x="62.88" y="9.93" width="10.30" height="12.47" fill="#fc2078"/></svg></div><div class="c f14" style="left:1180px;width:301px;letter-spacing:-0.73px;"><span>HK·LSHIY-USER-CONTENT·AS32167</span></div><div class="c f15" style="left:1481px;width:119px;letter-spacing:-0.25px;"><span>FullCone</span></div></div>
<div class="r d" style="top:501px;height:24px;line-height:24px"><div class="c f0" style="left:0px;width:46px;"><span>20</span></div><div class="c nm f1" style="left:46px;width:182px;padding-left:10px"><span><i class="fl" style="background:radial-gradient(circle at 50% 52%,#f9b8a0 0 1.9px,#cc3028 2.9px)"></i>香港 <b>HK-18</b></span></div><div class="c f2" style="left:228px;width:58px;"><span>Trojan</span></div><div class="c f3 k" style="left:286px;width:70px;background:#0cf871;"><span>19ms</span></div><div class="c f4 k" style="left:356px;width:89px;background:#1deb6a;"><span>126ms</span></div><div class="c f5 k" style="left:445px;width:125px;background:#fbd590;"><span>商宽<b>/</b>机房<b>IP</b></span></div><div class="c f6 k" style="left:570px;width:55px;background:#8e8c90;"><span><b>N/A</b></span></div><div class="c f7 k" style="left:625px;width:89px;background:#8e8c90;"><span>查询失败</span></div><div class="c f8 k" style="left:714px;width:74px;background:#8e8c90;"><span><b>N/A</b></span></div><div class="c f9 k" style="left:788px;width:82px;background:#8e8c90;"><span><b>N/A</b></span></div><div class="c f10 k" style="left:870px;width:73px;background:#8e8c90;"><span><b>N/A</b></span></div><div class="c f11 k" style="left:943px;width:80px;background:#fc2d76;"><span>49.76MB</span></div><div class="c f12 k" style="left:1023px;width:83px;background:#fc2078;"><span>71.45MB</span></div><div class="c" style="left:1106px;width:74px"><svg width="74" height="24" style="position:absolute;left:0;top:0"><rect x="1.20" y="1.57" width="10.90" height="21.82" fill="#fc2078"/><rect x="11.48" y="2.70" width="10.90" height="20.70" fill="#fc2078"/><rect x="21.76" y="2.92" width="10.90" height="20.48" fill="#fc2078"/><rect x="32.04" y="1.80" width="10.90" height="21.60" fill="#fc2078"/><rect x="42.32" y="1.80" width="10.30" height="21.60" fill="#fc2078"/></svg></div><div class="c f14" style="left:1180px;width:301px;letter-spacing:-0.73px;"><span>HK·LSHIY-USER-CONTENT·AS32167</span></div><div class="c f15" style="left:1481px;width:119px;letter-spacing:0.37px;"><span>Unknown</span></div></div>
<div class="r d" style="top:525px;height:24px;line-height:24px"><div class="c f0" style="left:0px;width:46px;"><span>21</span></div><div class="c nm f1" style="left:46px;width:182px;padding-left:10px"><span><i class="fl" style="background:radial-gradient(circle at 50% 52%,#f9b8a0 0 1.9px,#cc3028 2.9px)"></i>香港 <b>HK-19</b></span></div><div class="c f2" style="left:228px;width:58px;"><span>Trojan</span></div><div class="c f3 k" style="left:286px;width:70px;background:#0cf871;"><span>19ms</span></div><div class="c f4 k" style="left:356px;width:89px;background:#1cec6a;"><span>116ms</span></div><div class="c f5 k" style="left:445px;width:125px;background:#fbd590;"><span>商宽<b>/</b>机房<b>IP</b></span></div><div class="c f6 k" style="left:570px;width:55px;background:#ecebea;"><span>无<b>(</b>无<b>)</b></span></div><div class="c f7 k" style="left:625px;width:89px;background:#bae783;"><span>解锁<b>(HK)</b></span></div><div class="c f8 k" style="left:714px;width:74px;background:#bae783;"><span>解锁<b>(HK)</b></span></div><div class="c f9 k" style="left:788px;width:82px;background:#bae783;"><span>解锁<b>(HK)</b></span></div><div class="c f10 k" style="left:870px;width:73px;background:#bae783;"><span>解锁<b>(US)</b></span></div><div class="c f11 k" style="left:943px;width:80px;background:#fc2677;"><span>51.95MB</span></div><div class="c f12 k" style="left:1023px;width:83px;background:#fc2078;"><span>82.48MB</span></div><div class="c" style="left:1106px;width:74px"><svg width="74" height="24" style="position:absolute;left:0;top:0"><rect x="1.20" y="1.57" width="10.90" height="21.82" fill="#fc2078"/><rect x="11.48" y="2.25" width="10.90" height="21.15" fill="#fc2078"/><rect x="21.76" y="4.72" width="10.90" height="18.68" fill="#fc2078"/><rect x="32.04" y="6.97" width="10.90" height="16.43" fill="#fc2078"/><rect x="42.32" y="6.75" width="10.30" height="16.65" fill="#fc2078"/></svg></div><div class="c f14" style="left:1180px;width:301px;letter-spacing:-0.73px;"><span>HK·LSHIY-USER-CONTENT·AS32167</span></div><div class="c f15" style="left:1481px;width:119px;letter-spacing:-0.25px;"><span>FullCone</span></div></div>
<div class="r d" style="top:549px;height:24px;line-height:24px"><div class="c f0" style="left:0px;width:46px;"><span>22</span></div><div class="c nm f1" style="left:46px;width:182px;padding-left:10px"><span><i class="fl" style="background:radial-gradient(circle at 50% 52%,#f9b8a0 0 1.9px,#cc3028 2.9px)"></i>香港 <b>HK-20</b></span></div><div class="c f2" style="left:228px;width:58px;"><span>Trojan</span></div><div class="c f3 k" style="left:286px;width:70px;background:#0df871;"><span>24ms</span></div><div class="c f4 k" style="left:356px;width:89px;background:#1eeb69;"><span>130ms</span></div><div class="c f5 k" style="left:445px;width:125px;background:#fbd590;"><span>商宽<b>/</b>机房<b>IP</b></span></div><div class="c f6 k" style="left:570px;width:55px;background:#ecebea;"><span>无<b>(</b>无<b>)</b></span></div><div class="c f7 k" style="left:625px;width:89px;background:#bae783;"><span>解锁<b>(HK)</b></span></div><div class="c f8 k" style="left:714px;width:74px;background:#bae783;"><span>解锁<b>(HK)</b></span></div><div class="c f9 k" style="left:788px;width:82px;background:#bae783;"><span>解锁<b>(HK)</b></span></div><div class="c f10 k" style="left:870px;width:73px;background:#bae783;"><span>解锁<b>(US)</b></span></div><div class="c f11 k" style="left:943px;width:80px;background:#fc2078;"><span>78.99MB</span></div><div class="c f12 k" style="left:1023px;width:83px;background:#fc2078;"><span>89.25MB</span></div><div class="c" style="left:1106px;width:74px"><svg width="74" height="24" style="position:absolute;left:0;top:0"><rect x="1.20" y="8.32" width="10.90" height="15.08" fill="#fc2078"/><rect x="11.48" y="5.40" width="10.90" height="18.00" fill="#fc2078"/><rect x="21.76" y="4.72" width="10.90" height="18.68" fill="#fc2078"/><rect x="32.04" y="1.35" width="10.90" height="22.05" fill="#fc2078"/><rect x="42.32" y="1.35" width="10.90" height="22.05" fill="#fc2078"/><rect x="52.60" y="2.47" width="10.90" height="20.93" fill="#fc2078"/><rect x="62.88" y="1.12" width="10.30" height="22.27" fill="#fc2078"/></svg></div><div class="c f14" style="left:1180px;width:301px;letter-spacing:-0.73px;"><span>HK·LSHIY-USER-CONTENT·AS32167</span></div><div class="c f15" style="left:1481px;width:119px;letter-spacing:-0.25px;"><span>FullCone</span></div></div>
<div class="r d" style="top:573px;height:24px;line-height:24px"><div class="c f0" style="left:0px;width:46px;"><span>23</span></div><div class="c nm f1" style="left:46px;width:182px;padding-left:10px"><span><i class="fl" style="background:radial-gradient(circle at 2.7px 2.2px,#dcc8ff 0 1px,rgba(34,16,94,0) 1.5px),linear-gradient(#22105e,#22105e) 0 0/5.5px 4.4px no-repeat,#e41616"></i>台湾 <b>TW-01</b></span></div><div class="c f2" style="left:228px;width:58px;"><span>Trojan</span></div><div class="c f3 k" style="left:286px;width:70px;background:#0ff670;"><span>36ms</span></div><div class="c f4 k" style="left:356px;width:89px;background:#ff3c05;"><span>2351ms</span></div><div class="c f5 k" style="left:445px;width:125px;background:#fbd590;"><span>商宽<b>/</b>机房<b>IP</b></span></div><div class="c f6 k" style="left:570px;width:55px;background:#ecebea;"><span>无<b>(</b>无<b>)</b></span></div><div class="c f7 k" style="left:625px;width:89px;background:#8e8c90;"><span>查询失败</span></div><div class="c f8 k" style="left:714px;width:74px;background:#8e8c90;"><span><b>N/A</b></span></div><div class="c f9 k" style="left:788px;width:82px;background:#bae783;"><span>解锁<b>(TW)</b></span></div><div class="c f10 k" style="left:870px;width:73px;background:#8e8c90;"><span><b>N/A</b></span></div><div class="c f11 k" style="left:943px;width:80px;background:#fc2078;"><span>61.63MB</span></div><div class="c f12 k" style="left:1023px;width:83px;background:#fc2078;"><span>106.50MB</span></div><div class="c" style="left:1106px;width:74px"><svg width="74" height="24" style="position:absolute;left:0;top:0"><rect x="1.20" y="16.20" width="10.90" height="7.20" fill="#f95466"/><rect x="11.48" y="5.85" width="10.90" height="17.55" fill="#fc2078"/><rect x="21.76" y="1.80" width="10.90" height="21.60" fill="#fc2078"/><rect x="32.04" y="1.35" width="10.90" height="22.05" fill="#fc2078"/><rect x="42.32" y="1.80" width="10.30" height="21.60" fill="#fc2078"/></svg></div><div class="c f14" style="left:1180px;width:301px;letter-spacing:-0.2px;"><span>TW·Akari Networks·AS38136</span></div><div class="c f15" style="left:1481px;width:119px;letter-spacing:0.37px;"><span>Unknown</span></div></div>
<div class="r d" style="top:597px;height:24px;line-height:24px"><div class="c f0" style="left:0px;width:46px;"><span>24</span></div><div class="c nm f1" style="left:46px;width:182px;padding-left:10px"><span><i class="fl" style="background:radial-gradient(circle at 2.7px 2.2px,#dcc8ff 0 1px,rgba(34,16,94,0) 1.5px),linear-gradient(#22105e,#22105e) 0 0/5.5px 4.4px no-repeat,#e41616"></i>台湾 <b>TW-02</b></span></div><div class="c f2" style="left:228px;width:58px;"><span>Trojan</span></div><div class="c f3 k" style="left:286px;width:70px;background:#0ff670;"><span>37ms</span></div><div class="c f4 k" style="left:356px;width:89px;background:#22e767;"><span>159ms</span></div><div class="c f5 k" style="left:445px;width:125px;background:#fbd590;"><span>商宽<b>/</b>机房<b>IP</b></span></div><div class="c f6 k" style="left:570px;width:55px;background:#8e8c90;"><span><b>N/A</b></span></div><div class="c f7 k" style="left:625px;width:89px;background:#8e8c90;"><span>查询失败</span></div><div class="c f8 k" style="left:714px;width:74px;background:#8e8c90;"><span><b>N/A</b></span></div><div class="c f9 k" style="left:788px;width:82px;background:#bae783;"><span>解锁<b>(TW)</b></span></div><div class="c f10 k" style="left:870px;width:73px;background:#bae783;"><span>解锁<b>(JP)</b></span></div><div class="c f11 k" style="left:943px;width:80px;background:#fc2078;"><span>69.55MB</span></div><div class="c f12 k" style="left:1023px;width:83px;background:#fc2078;"><span>84.84MB</span></div><div class="c" style="left:1106px;width:74px"><svg width="74" height="24" style="position:absolute;left:0;top:0"><rect x="1.20" y="12.37" width="10.90" height="11.03" fill="#fc2078"/><rect x="11.48" y="5.85" width="10.90" height="17.55" fill="#fc2078"/><rect x="21.76" y="4.50" width="10.90" height="18.90" fill="#fc2078"/><rect x="32.04" y="5.17" width="10.90" height="18.23" fill="#fc2078"/><rect x="42.32" y="4.50" width="10.90" height="18.90" fill="#fc2078"/><rect x="52.60" y="4.50" width="10.90" height="18.90" fill="#fc2078"/><rect x="62.88" y="1.35" width="10.30" height="22.05" fill="#fc2078"/></svg></div><div class="c f14" style="left:1180px;width:301px;letter-spacing:-0.2px;"><span>TW·Akari Networks·AS38136</span></div><div class="c f15" style="left:1481px;width:119px;letter-spacing:-0.25px;"><span>FullCone</span></div></div>
<div class="r d" style="top:621px;height:24px;line-height:24px"><div class="c f0" style="left:0px;width:46px;"><span>25</span></div><div class="c nm f1" style="left:46px;width:182px;padding-left:10px"><span><i class="fl" style="background:radial-gradient(circle at 2.7px 2.2px,#dcc8ff 0 1px,rgba(34,16,94,0) 1.5px),linear-gradient(#22105e,#22105e) 0 0/5.5px 4.4px no-repeat,#e41616"></i>台湾 <b>TW-03</b></span></div><div class="c f2" style="left:228px;width:58px;"><span>Trojan</span></div><div class="c f3 k" style="left:286px;width:70px;background:#0ff770;"><span>32ms</span></div><div class="c f4 k" style="left:356px;width:89px;background:#859a3b;"><span>788ms</span></div><div class="c f5 k" style="left:445px;width:125px;background:#fbd590;"><span>商宽<b>/</b>机房<b>IP</b></span></div><div class="c f6 k" style="left:570px;width:55px;background:#ecebea;"><span>无<b>(</b>无<b>)</b></span></div><div class="c f7 k" style="left:625px;width:89px;background:#8e8c90;"><span>查询失败</span></div><div class="c f8 k" style="left:714px;width:74px;background:#8e8c90;"><span><b>N/A</b></span></div><div class="c f9 k" style="left:788px;width:82px;background:#bae783;"><span>解锁<b>(TW)</b></span></div><div class="c f10" style="left:870px;width:73px;"><span><b>-</b></span></div><div class="c f11 k" style="left:943px;width:80px;background:#fc2078;"><span>62.86MB</span></div><div class="c f12 k" style="left:1023px;width:83px;background:#fc2078;"><span>73.14MB</span></div><div class="c" style="left:1106px;width:74px"><svg width="74" height="24" style="position:absolute;left:0;top:0"><rect x="1.20" y="2.92" width="10.90" height="20.48" fill="#fc2078"/><rect x="11.48" y="2.47" width="10.90" height="20.93" fill="#fc2078"/><rect x="21.76" y="2.92" width="10.90" height="20.48" fill="#fc2078"/><rect x="32.04" y="2.92" width="10.90" height="20.48" fill="#fc2078"/><rect x="42.32" y="6.07" width="10.90" height="17.32" fill="#fc2078"/><rect x="52.60" y="6.07" width="10.90" height="17.32" fill="#fc2078"/><rect x="62.88" y="11.47" width="10.30" height="11.93" fill="#fb3470"/></svg></div><div class="c f14" style="left:1180px;width:301px;letter-spacing:-0.2px;"><span>TW·Akari Networks·AS38136</span></div><div class="c f15" style="left:1481px;width:119px;letter-spacing:-0.25px;"><span>FullCone</span></div></div>
<div class="r d" style="top:645px;height:24px;line-height:24px"><div class="c f0" style="left:0px;width:46px;"><span>26</span></div><div class="c nm f1" style="left:46px;width:182px;padding-left:10px"><span><i class="fl" style="background:radial-gradient(circle at 2.7px 2.2px,#dcc8ff 0 1px,rgba(34,16,94,0) 1.5px),linear-gradient(#22105e,#22105e) 0 0/5.5px 4.4px no-repeat,#e41616"></i>台湾 <b>TW-04</b></span></div><div class="c f2" style="left:228px;width:58px;"><span>Trojan</span></div><div class="c f3 k" style="left:286px;width:70px;background:#0ff670;"><span>34ms</span></div><div class="c f4 k" style="left:356px;width:89px;background:#77a541;"><span>695ms</span></div><div class="c f5 k" style="left:445px;width:125px;background:#fbd590;"><span>商宽<b>/</b>机房<b>IP</b></span></div><div class="c f6 k" style="left:570px;width:55px;background:#ecebea;"><span>无<b>(</b>无<b>)</b></span></div><div class="c f7 k" style="left:625px;width:89px;background:#bae783;"><span>解锁<b>(TW)</b></span></div><div class="c f8 k" style="left:714px;width:74px;background:#8e8c90;"><span><b>N/A</b></span></div><div class="c f9 k" style="left:788px;width:82px;background:#bae783;"><span>解锁<b>(TW)</b></span></div><div class="c f10" style="left:870px;width:73px;"><span><b>-</b></span></div><div class="c f11 k" style="left:943px;width:80px;background:#fc2078;"><span>66.86MB</span></div><div class="c f12 k" style="left:1023px;width:83px;background:#fc2078;"><span>95.06MB</span></div><div class="c" style="left:1106px;width:74px"><svg width="74" height="24" style="position:absolute;left:0;top:0"><rect x="1.20" y="8.55" width="10.90" height="14.85" fill="#fc2078"/><rect x="11.48" y="7.20" width="10.90" height="16.20" fill="#fc2078"/><rect x="21.76" y="7.88" width="10.90" height="15.52" fill="#fc2078"/><rect x="32.04" y="1.80" width="10.90" height="21.60" fill="#fc2078"/><rect x="42.32" y="9.90" width="10.90" height="13.50" fill="#fc2078"/><rect x="52.60" y="11.02" width="10.90" height="12.38" fill="#fc2078"/><rect x="62.88" y="10.57" width="10.30" height="12.82" fill="#fc2078"/></svg></div><div class="c f14" style="left:1180px;width:301px;letter-spacing:-0.2px;"><span>TW·Akari Networks·AS38136</span></div><div class="c f15" style="left:1481px;width:119px;letter-spacing:-0.25px;"><span>FullCone</span></div></div>
<div class="r d" style="top:669px;height:23px;line-height:23px"><div class="c f0" style="left:0px;width:46px;"><span>27</span></div><div class="c nm f1" style="left:46px;width:182px;padding-left:10px"><span><i class="fl" style="background:radial-gradient(circle at 2.7px 2.2px,#dcc8ff 0 1px,rgba(34,16,94,0) 1.5px),linear-gradient(#22105e,#22105e) 0 0/5.5px 4.4px no-repeat,#e41616"></i>台湾 <b>TW-05</b></span></div><div class="c f2" style="left:228px;width:58px;"><span>Trojan</span></div><div class="c f3 k" style="left:286px;width:70px;background:#0ef770;"><span>31ms</span></div><div class="c f4 k" style="left:356px;width:89px;background:#22e767;"><span>157ms</span></div><div class="c f5 k" style="left:445px;width:125px;background:#fbd590;"><span>商宽<b>/</b>机房<b>IP</b></span></div><div class="c f6 k" style="left:570px;width:55px;background:#ecebea;"><span>无<b>(</b>无<b>)</b></span></div><div class="c f7 k" style="left:625px;width:89px;background:#bae783;"><span>解锁<b>(TW)</b></span></div><div class="c f8 k" style="left:714px;width:74px;background:#ea6a72;"><span>失败</span></div><div class="c f9 k" style="left:788px;width:82px;background:#bae783;"><span>解锁<b>(TW)</b></span></div><div class="c f10 k" style="left:870px;width:73px;background:#bae783;"><span>解锁<b>(JP)</b></span></div><div class="c f11 k" style="left:943px;width:80px;background:#fc2078;"><span>56.46MB</span></div><div class="c f12 k" style="left:1023px;width:83px;background:#fc2078;"><span>64.87MB</span></div><div class="c" style="left:1106px;width:74px"><svg width="74" height="23" style="position:absolute;left:0;top:0"><rect x="1.20" y="1.76" width="10.90" height="20.64" fill="#fc2078"/><rect x="11.48" y="2.19" width="10.90" height="20.21" fill="#fc2078"/><rect x="21.76" y="5.20" width="10.90" height="17.20" fill="#fc2078"/><rect x="32.04" y="6.49" width="10.90" height="15.91" fill="#fc2078"/><rect x="42.32" y="6.70" width="10.90" height="15.70" fill="#fc2078"/><rect x="52.60" y="5.20" width="10.90" height="17.20" fill="#fc2078"/><rect x="62.88" y="1.33" width="10.30" height="21.07" fill="#fc2078"/></svg></div><div class="c f14" style="left:1180px;width:301px;letter-spacing:-0.2px;"><span>TW·Akari Networks·AS38136</span></div><div class="c f15" style="left:1481px;width:119px;letter-spacing:-0.25px;"><span>FullCone</span></div></div>
<div class="r d" style="top:692px;height:24px;line-height:24px"><div class="c f0" style="left:0px;width:46px;"><span>28</span></div><div class="c nm f1" style="left:46px;width:182px;padding-left:10px"><span><i class="fl" style="background:radial-gradient(circle at 2.7px 2.2px,#dcc8ff 0 1px,rgba(34,16,94,0) 1.5px),linear-gradient(#22105e,#22105e) 0 0/5.5px 4.4px no-repeat,#e41616"></i>台湾 <b>TW-06</b></span></div><div class="c f2" style="left:228px;width:58px;"><span>Trojan</span></div><div class="c f3 k" style="left:286px;width:70px;background:#ff3d05;"><span>-</span></div><div class="c f4 k" style="left:356px;width:89px;background:#ff3d05;"><span>-</span></div><div class="c f5" style="left:445px;width:125px;"><span><b>-</b></span></div><div class="c f6 k" style="left:570px;width:55px;background:#8e8c90;"><span><b>N/A</b></span></div><div class="c f7 k" style="left:625px;width:89px;background:#8e8c90;"><span>查询失败</span></div><div class="c f8 k" style="left:714px;width:74px;background:#ea6a72;"><span>失败</span></div><div class="c f9 k" style="left:788px;width:82px;background:#bae783;"><span>解锁<b>(TW)</b></span></div><div class="c f10 k" style="left:870px;width:73px;background:#8e8c90;"><span><b>N/A</b></span></div><div class="c f11 k" style="left:943px;width:80px;background:#fc2078;"><span>68.91MB</span></div><div class="c f12 k" style="left:1023px;width:83px;background:#fc2078;"><span>80.08MB</span></div><div class="c" style="left:1106px;width:74px"><svg width="74" height="24" style="position:absolute;left:0;top:0"><rect x="1.20" y="3.15" width="10.90" height="20.25" fill="#fc2078"/><rect x="11.48" y="5.85" width="10.90" height="17.55" fill="#fc2078"/><rect x="21.76" y="6.30" width="10.90" height="17.10" fill="#fc2078"/><rect x="32.04" y="5.17" width="10.90" height="18.23" fill="#fc2078"/><rect x="42.32" y="1.57" width="10.90" height="21.82" fill="#fc2078"/><rect x="52.60" y="3.82" width="10.90" height="19.57" fill="#fc2078"/><rect x="62.88" y="5.17" width="10.30" height="18.23" fill="#fc2078"/></svg></div><div class="c f14 k" style="left:1180px;width:301px;background:#8e8c90;"><span>N/A</span></div><div class="c f15" style="left:1481px;width:119px;letter-spacing:0.37px;"><span>Unknown</span></div></div>
<div class="r d" style="top:716px;height:24px;line-height:24px"><div class="c f0" style="left:0px;width:46px;"><span>29</span></div><div class="c nm f1" style="left:46px;width:182px;padding-left:10px"><span><i class="fl" style="background:radial-gradient(circle at 2.7px 2.2px,#dcc8ff 0 1px,rgba(34,16,94,0) 1.5px),linear-gradient(#22105e,#22105e) 0 0/5.5px 4.4px no-repeat,#e41616"></i>台湾 <b>TW-07</b></span></div><div class="c f2" style="left:228px;width:58px;"><span>Trojan</span></div><div class="c f3 k" style="left:286px;width:70px;background:#0ff670;"><span>33ms</span></div><div class="c f4 k" style="left:356px;width:89px;background:#3ed25b;"><span>334ms</span></div><div class="c f5 k" style="left:445px;width:125px;background:#fbd590;"><span>商宽<b>/</b>机房<b>IP</b></span></div><div class="c f6 k" style="left:570px;width:55px;background:#ecebea;"><span>无<b>(</b>无<b>)</b></span></div><div class="c f7 k" style="left:625px;width:89px;background:#bae783;"><span>解锁<b>(TW)</b></span></div><div class="c f8 k" style="left:714px;width:74px;background:#ea6a72;"><span>失败</span></div><div class="c f9 k" style="left:788px;width:82px;background:#bae783;"><span>解锁<b>(TW)</b></span></div><div class="c f10" style="left:870px;width:73px;"><span><b>-</b></span></div><div class="c f11 k" style="left:943px;width:80px;background:#fc2078;"><span>65.96MB</span></div><div class="c f12 k" style="left:1023px;width:83px;background:#fc2078;"><span>99.56MB</span></div><div class="c" style="left:1106px;width:74px"><svg width="74" height="24" style="position:absolute;left:0;top:0"><rect x="1.20" y="3.82" width="10.90" height="19.57" fill="#fc2078"/><rect x="11.48" y="3.38" width="10.90" height="20.02" fill="#fc2078"/><rect x="21.76" y="1.57" width="10.90" height="21.82" fill="#fc2078"/><rect x="32.04" y="4.50" width="10.90" height="18.90" fill="#fc2078"/><rect x="42.32" y="2.47" width="10.30" height="20.93" fill="#fc2078"/></svg></div><div class="c f14" style="left:1180px;width:301px;letter-spacing:-0.2px;"><span>TW·Akari Networks·AS38136</span></div><div class="c f15" style="left:1481px;width:119px;letter-spacing:0.37px;"><span>Unknown</span></div></div>
<div class="r d" style="top:740px;height:24px;line-height:24px"><div class="c f0" style="left:0px;width:46px;"><span>30</span></div><div class="c nm f1" style="left:46px;width:182px;padding-left:10px"><span><i class="fl" style="background:radial-gradient(circle at 2.7px 2.2px,#dcc8ff 0 1px,rgba(34,16,94,0) 1.5px),linear-gradient(#22105e,#22105e) 0 0/5.5px 4.4px no-repeat,#e41616"></i>台湾 <b>TW-08</b></span></div><div class="c f2" style="left:228px;width:58px;"><span>Trojan</span></div><div class="c f3 k" style="left:286px;width:70px;background:#0ff670;"><span>34ms</span></div><div class="c f4 k" style="left:356px;width:89px;background:#22e868;"><span>155ms</span></div><div class="c f5 k" style="left:445px;width:125px;background:#fbd590;"><span>商宽<b>/</b>机房<b>IP</b></span></div><div class="c f6 k" style="left:570px;width:55px;background:#ecebea;"><span>无<b>(</b>无<b>)</b></span></div><div class="c f7 k" style="left:625px;width:89px;background:#bae783;"><span>解锁<b>(TW)</b></span></div><div class="c f8 k" style="left:714px;width:74px;background:#ea6a72;"><span>失败</span></div><div class="c f9 k" style="left:788px;width:82px;background:#bae783;"><span>解锁<b>(TW)</b></span></div><div class="c f10 k" style="left:870px;width:73px;background:#bae783;"><span>解锁<b>(JP)</b></span></div><div class="c f11 k" style="left:943px;width:80px;background:#fc2078;"><span>70.67MB</span></div><div class="c f12 k" style="left:1023px;width:83px;background:#fc2078;"><span>108.23MB</span></div><div class="c" style="left:1106px;width:74px"><svg width="74" height="24" style="position:absolute;left:0;top:0"><rect x="1.20" y="5.40" width="10.90" height="18.00" fill="#fc2078"/><rect x="11.48" y="4.72" width="10.90" height="18.68" fill="#fc2078"/><rect x="21.76" y="1.35" width="10.90" height="22.05" fill="#fc2078"/><rect x="32.04" y="5.40" width="10.90" height="18.00" fill="#fc2078"/><rect x="42.32" y="7.20" width="10.90" height="16.20" fill="#fc2078"/><rect x="52.60" y="15.75" width="10.30" height="7.65" fill="#f93c70"/></svg></div><div class="c f14" style="left:1180px;width:301px;letter-spacing:-0.2px;"><span>TW·Akari Networks·AS38136</span></div><div class="c f15" style="left:1481px;width:119px;letter-spacing:-0.11px;"><span>RestrictedCone</span></div></div>
<div class="r d" style="top:764px;height:24px;line-height:24px"><div class="c f0" style="left:0px;width:46px;"><span>31</span></div><div class="c nm f1" style="left:46px;width:182px;padding-left:10px"><span><i class="fl" style="background:radial-gradient(circle at 2.7px 2.2px,#dcc8ff 0 1px,rgba(34,16,94,0) 1.5px),linear-gradient(#22105e,#22105e) 0 0/5.5px 4.4px no-repeat,#e41616"></i>台湾 <b>TW-09</b></span></div><div class="c f2" style="left:228px;width:58px;"><span>Trojan</span></div><div class="c f3 k" style="left:286px;width:70px;background:#0ff670;"><span>34ms</span></div><div class="c f4 k" style="left:356px;width:89px;background:#23e767;"><span>160ms</span></div><div class="c f5 k" style="left:445px;width:125px;background:#fbd590;"><span>商宽<b>/</b>机房<b>IP</b></span></div><div class="c f6 k" style="left:570px;width:55px;background:#ecebea;"><span>无<b>(</b>无<b>)</b></span></div><div class="c f7 k" style="left:625px;width:89px;background:#bae783;"><span>解锁<b>(TW)</b></span></div><div class="c f8 k" style="left:714px;width:74px;background:#ea6a72;"><span>失败</span></div><div class="c f9 k" style="left:788px;width:82px;background:#bae783;"><span>解锁<b>(TW)</b></span></div><div class="c f10 k" style="left:870px;width:73px;background:#8e8c90;"><span><b>N/A</b></span></div><div class="c f11 k" style="left:943px;width:80px;background:#fc2078;"><span>70.96MB</span></div><div class="c f12 k" style="left:1023px;width:83px;background:#fc2078;"><span>107.67MB</span></div><div class="c" style="left:1106px;width:74px"><svg width="74" height="24" style="position:absolute;left:0;top:0"><rect x="1.20" y="3.82" width="10.90" height="19.57" fill="#fc2078"/><rect x="11.48" y="1.35" width="10.90" height="22.05" fill="#fc2078"/><rect x="21.76" y="4.72" width="10.90" height="18.68" fill="#fc2078"/><rect x="32.04" y="5.40" width="10.90" height="18.00" fill="#fc2078"/><rect x="42.32" y="6.30" width="10.90" height="17.10" fill="#fc2078"/><rect x="52.60" y="17.77" width="10.30" height="5.62" fill="#e96c82"/></svg></div><div class="c f14" style="left:1180px;width:301px;letter-spacing:-0.2px;"><span>TW·Akari Networks·AS38136</span></div><div class="c f15" style="left:1481px;width:119px;letter-spacing:0.37px;"><span>Unknown</span></div></div>
<div class="r d" style="top:788px;height:24px;line-height:24px"><div class="c f0" style="left:0px;width:46px;"><span>32</span></div><div class="c nm f1" style="left:46px;width:182px;padding-left:10px"><span><i class="fl" style="background:radial-gradient(circle at 2.7px 2.2px,#dcc8ff 0 1px,rgba(34,16,94,0) 1.5px),linear-gradient(#22105e,#22105e) 0 0/5.5px 4.4px no-repeat,#e41616"></i>台湾 <b>TW-10</b></span></div><div class="c f2" style="left:228px;width:58px;"><span>Trojan</span></div><div class="c f3 k" style="left:286px;width:70px;background:#0ff670;"><span>33ms</span></div><div class="c f4 k" style="left:356px;width:89px;background:#ff3c05;"><span>2857ms</span></div><div class="c f5 k" style="left:445px;width:125px;background:#fbd590;"><span>商宽<b>/</b>机房<b>IP</b></span></div><div class="c f6 k" style="left:570px;width:55px;background:#ecebea;"><span>无<b>(</b>无<b>)</b></span></div><div class="c f7 k" style="left:625px;width:89px;background:#bae783;"><span>解锁<b>(TW)</b></span></div><div class="c f8 k" style="left:714px;width:74px;background:#ea6a72;"><span>失败</span></div><div class="c f9 k" style="left:788px;width:82px;background:#bae783;"><span>解锁<b>(TW)</b></span></div><div class="c f10 k" style="left:870px;width:73px;background:#bae783;"><span>解锁<b>(JP)</b></span></div><div class="c f11 k" style="left:943px;width:80px;background:#fc2078;"><span>62.19MB</span></div><div class="c f12 k" style="left:1023px;width:83px;background:#fc2078;"><span>87.17MB</span></div><div class="c" style="left:1106px;width:74px"><svg width="74" height="24" style="position:absolute;left:0;top:0"><rect x="1.20" y="4.50" width="10.90" height="18.90" fill="#fc2078"/><rect x="11.48" y="3.15" width="10.90" height="20.25" fill="#fc2078"/><rect x="21.76" y="3.82" width="10.90" height="19.57" fill="#fc2078"/><rect x="32.04" y="1.12" width="10.90" height="22.27" fill="#fc2078"/><rect x="42.32" y="2.47" width="10.90" height="20.93" fill="#fc2078"/><rect x="52.60" y="15.52" width="10.30" height="7.87" fill="#f95466"/></svg></div><div class="c f14" style="left:1180px;width:301px;letter-spacing:-0.2px;"><span>TW·Akari Networks·AS38136</span></div><div class="c f15" style="left:1481px;width:119px;letter-spacing:-0.25px;"><span>FullCone</span></div></div>
<div class="r d" style="top:812px;height:24px;line-height:24px"><div class="c f0" style="left:0px;width:46px;"><span>33</span></div><div class="c nm f1" style="left:46px;width:182px;padding-left:10px"><span><i class="fl" style="background:linear-gradient(#de3048 50%,#fbf4f4 50%)"></i>新加坡 <b>SG-01</b></span></div><div class="c f2" style="left:228px;width:58px;"><span>Trojan</span></div><div class="c f3 k" style="left:286px;width:70px;background:#13f36e;"><span>58ms</span></div><div class="c f4 k" style="left:356px;width:89px;background:#ff3c05;"><span>1735ms</span></div><div class="c f5 k" style="left:445px;width:125px;background:#fbd590;"><span>商宽<b>/</b>机房<b>IP</b></span></div><div class="c f6 k" style="left:570px;width:55px;background:#ecebea;"><span>无<b>(</b>无<b>)</b></span></div><div class="c f7 k" style="left:625px;width:89px;background:#8e8c90;"><span>查询失败</span></div><div class="c f8 k" style="left:714px;width:74px;background:#bae783;"><span>解锁<b>(SG)</b></span></div><div class="c f9 k" style="left:788px;width:82px;background:#bae783;"><span>解锁<b>(SG)</b></span></div><div class="c f10 k" style="left:870px;width:73px;background:#bae783;"><span>解锁<b>(JP)</b></span></div><div class="c f11 k" style="left:943px;width:80px;background:#fc2078;"><span>59.01MB</span></div><div class="c f12 k" style="left:1023px;width:83px;background:#fc2078;"><span>111.76MB</span></div><div class="c" style="left:1106px;width:74px"><svg width="74" height="24" style="position:absolute;left:0;top:0"><rect x="11.48" y="6.97" width="10.90" height="16.43" fill="#fc2078"/><rect x="21.76" y="2.47" width="10.90" height="20.93" fill="#fc2078"/><rect x="32.04" y="2.02" width="10.90" height="21.38" fill="#fc2078"/><rect x="42.32" y="2.92" width="10.30" height="20.48" fill="#fc2078"/></svg></div><div class="c f14" style="left:1180px;width:301px;letter-spacing:-0.43px;"><span>SG·Nearoute·AS147293</span></div><div class="c f15" style="left:1481px;width:119px;letter-spacing:0.37px;"><span>Unknown</span></div></div>
<div class="r d" style="top:836px;height:24px;line-height:24px"><div class="c f0" style="left:0px;width:46px;"><span>34</span></div><div class="c nm f1" style="left:46px;width:182px;padding-left:10px"><span><i class="fl" style="background:linear-gradient(#de3048 50%,#fbf4f4 50%)"></i>新加坡 <b>SG-02</b></span></div><div class="c f2" style="left:228px;width:58px;"><span>Trojan</span></div><div class="c f3 k" style="left:286px;width:70px;background:#13f36e;"><span>62ms</span></div><div class="c f4 k" style="left:356px;width:89px;background:#35d95f;"><span>275ms</span></div><div class="c f5 k" style="left:445px;width:125px;background:#fbd590;"><span>商宽<b>/</b>机房<b>IP</b></span></div><div class="c f6 k" style="left:570px;width:55px;background:#ecebea;"><span>无<b>(</b>无<b>)</b></span></div><div class="c f7 k" style="left:625px;width:89px;background:#8e8c90;"><span>查询失败</span></div><div class="c f8 k" style="left:714px;width:74px;background:#bae783;"><span>解锁<b>(SG)</b></span></div><div class="c f9 k" style="left:788px;width:82px;background:#bae783;"><span>解锁<b>(SG)</b></span></div><div class="c f10 k" style="left:870px;width:73px;background:#8e8c90;"><span><b>N/A</b></span></div><div class="c f11 k" style="left:943px;width:80px;background:#fc2078;"><span>81.26MB</span></div><div class="c f12 k" style="left:1023px;width:83px;background:#fc2078;"><span>90.98MB</span></div><div class="c" style="left:1106px;width:74px"><svg width="74" height="24" style="position:absolute;left:0;top:0"><rect x="1.20" y="6.30" width="10.90" height="17.10" fill="#fc2078"/><rect x="11.48" y="3.60" width="10.90" height="19.80" fill="#fc2078"/><rect x="21.76" y="4.05" width="10.90" height="19.35" fill="#fc2078"/><rect x="32.04" y="4.50" width="10.90" height="18.90" fill="#fc2078"/><rect x="42.32" y="4.50" width="10.90" height="18.90" fill="#fc2078"/><rect x="52.60" y="1.35" width="10.90" height="22.05" fill="#fc2078"/><rect x="62.88" y="3.15" width="10.30" height="20.25" fill="#fc2078"/></svg></div><div class="c f14" style="left:1180px;width:301px;letter-spacing:-0.43px;"><span>SG·Nearoute·AS147293</span></div><div class="c f15" style="left:1481px;width:119px;letter-spacing:-0.25px;"><span>FullCone</span></div></div>
<div class="r d" style="top:860px;height:24px;line-height:24px"><div class="c f0" style="left:0px;width:46px;"><span>35</span></div><div class="c nm f1" style="left:46px;width:182px;padding-left:10px"><span><i class="fl" style="background:linear-gradient(#de3048 50%,#fbf4f4 50%)"></i>新加坡 <b>SG-03</b></span></div><div class="c f2" style="left:228px;width:58px;"><span>Trojan</span></div><div class="c f3 k" style="left:286px;width:70px;background:#13f36e;"><span>59ms</span></div><div class="c f4 k" style="left:356px;width:89px;background:#ff3c05;"><span>2011ms</span></div><div class="c f5 k" style="left:445px;width:125px;background:#fbd590;"><span>商宽<b>/</b>机房<b>IP</b></span></div><div class="c f6 k" style="left:570px;width:55px;background:#ecebea;"><span>无<b>(</b>无<b>)</b></span></div><div class="c f7 k" style="left:625px;width:89px;background:#8e8c90;"><span>查询失败</span></div><div class="c f8 k" style="left:714px;width:74px;background:#bae783;"><span>解锁<b>(SG)</b></span></div><div class="c f9 k" style="left:788px;width:82px;background:#bae783;"><span>解锁<b>(SG)</b></span></div><div class="c f10 k" style="left:870px;width:73px;background:#bae783;"><span>解锁<b>(US)</b></span></div><div class="c f11 k" style="left:943px;width:80px;background:#fc2078;"><span>85.12MB</span></div><div class="c f12 k" style="left:1023px;width:83px;background:#fc2078;"><span>97.95MB</span></div><div class="c" style="left:1106px;width:74px"><svg width="74" height="24" style="position:absolute;left:0;top:0"><rect x="1.20" y="7.88" width="10.90" height="15.52" fill="#fc2078"/><rect x="11.48" y="4.05" width="10.90" height="19.35" fill="#fc2078"/><rect x="21.76" y="1.80" width="10.90" height="21.60" fill="#fc2078"/><rect x="32.04" y="4.72" width="10.90" height="18.68" fill="#fc2078"/><rect x="42.32" y="1.35" width="10.90" height="22.05" fill="#fc2078"/><rect x="52.60" y="4.50" width="10.90" height="18.90" fill="#fc2078"/><rect x="62.88" y="6.07" width="10.30" height="17.32" fill="#fc2078"/></svg></div><div class="c f14" style="left:1180px;width:301px;letter-spacing:-0.43px;"><span>SG·Nearoute·AS147293</span></div><div class="c f15" style="left:1481px;width:119px;letter-spacing:-0.25px;"><span>FullCone</span></div></div>
<div class="r d" style="top:884px;height:23px;line-height:23px"><div class="c f0" style="left:0px;width:46px;"><span>36</span></div><div class="c nm f1" style="left:46px;width:182px;padding-left:10px"><span><i class="fl" style="background:linear-gradient(#de3048 50%,#fbf4f4 50%)"></i>新加坡 <b>SG-04</b></span></div><div class="c f2" style="left:228px;width:58px;"><span>Trojan</span></div><div class="c f3 k" style="left:286px;width:70px;background:#12f46e;"><span>57ms</span></div><div class="c f4 k" style="left:356px;width:89px;background:#ff3c05;"><span>2329ms</span></div><div class="c f5 k" style="left:445px;width:125px;background:#fbd590;"><span>商宽<b>/</b>机房<b>IP</b></span></div><div class="c f6 k" style="left:570px;width:55px;background:#ecebea;"><span>无<b>(</b>无<b>)</b></span></div><div class="c f7 k" style="left:625px;width:89px;background:#8e8c90;"><span>查询失败</span></div><div class="c f8 k" style="left:714px;width:74px;background:#bae783;"><span>解锁<b>(SG)</b></span></div><div class="c f9 k" style="left:788px;width:82px;background:#bae783;"><span>解锁<b>(SG)</b></span></div><div class="c f10 k" style="left:870px;width:73px;background:#8e8c90;"><span><b>N/A</b></span></div><div class="c f11 k" style="left:943px;width:80px;background:#fc3d71;"><span>43.39MB</span></div><div class="c f12 k" style="left:1023px;width:83px;background:#fc2078;"><span>91.17MB</span></div><div class="c" style="left:1106px;width:74px"><svg width="74" height="23" style="position:absolute;left:0;top:0"><rect x="11.48" y="13.37" width="10.90" height="9.03" fill="#fb3a78"/><rect x="21.76" y="2.19" width="10.90" height="20.21" fill="#fc2078"/><rect x="32.04" y="2.83" width="10.90" height="19.57" fill="#fc2078"/><rect x="42.32" y="1.11" width="10.30" height="21.29" fill="#fc2078"/></svg></div><div class="c f14" style="left:1180px;width:301px;letter-spacing:-0.43px;"><span>SG·Nearoute·AS147293</span></div><div class="c f15" style="left:1481px;width:119px;letter-spacing:0.37px;"><span>Unknown</span></div></div>
<div class="r d" style="top:907px;height:24px;line-height:24px"><div class="c f0" style="left:0px;width:46px;"><span>37</span></div><div class="c nm f1" style="left:46px;width:182px;padding-left:10px"><span><i class="fl" style="background:linear-gradient(#de3048 50%,#fbf4f4 50%)"></i>新加坡 <b>SG-05</b></span></div><div class="c f2" style="left:228px;width:58px;"><span>Trojan</span></div><div class="c f3 k" style="left:286px;width:70px;background:#ff3d05;"><span>-</span></div><div class="c f4 k" style="left:356px;width:89px;background:#ff3d05;"><span>-</span></div><div class="c f5" style="left:445px;width:125px;"><span><b>-</b></span></div><div class="c f6 k" style="left:570px;width:55px;background:#8e8c90;"><span><b>N/A</b></span></div><div class="c f7 k" style="left:625px;width:89px;background:#8e8c90;"><span>查询失败</span></div><div class="c f8 k" style="left:714px;width:74px;background:#8e8c90;"><span><b>N/A</b></span></div><div class="c f9 k" style="left:788px;width:82px;background:#8e8c90;"><span><b>N/A</b></span></div><div class="c f10 k" style="left:870px;width:73px;background:#bae783;"><span>解锁<b>(JP)</b></span></div><div class="c f11 k" style="left:943px;width:80px;background:#fc2078;"><span>56.60MB</span></div><div class="c f12 k" style="left:1023px;width:83px;background:#fc2078;"><span>90.31MB</span></div><div class="c" style="left:1106px;width:74px"><svg width="74" height="24" style="position:absolute;left:0;top:0"><rect x="1.20" y="4.05" width="10.90" height="19.35" fill="#fc2078"/><rect x="11.48" y="6.07" width="10.90" height="17.32" fill="#fc2078"/><rect x="21.76" y="3.15" width="10.90" height="20.25" fill="#fc2078"/><rect x="32.04" y="6.75" width="10.90" height="16.65" fill="#fc2078"/><rect x="42.32" y="1.35" width="10.30" height="22.05" fill="#fc2078"/></svg></div><div class="c f14 k" style="left:1180px;width:301px;background:#8e8c90;"><span>N/A</span></div><div class="c f15" style="left:1481px;width:119px;letter-spacing:0.37px;"><span>Unknown</span></div></div>
<div class="r d" style="top:931px;height:24px;line-height:24px"><div class="c f0" style="left:0px;width:46px;"><span>38</span></div><div class="c nm f1" style="left:46px;width:182px;padding-left:10px"><span><i class="fl" style="background:linear-gradient(#de3048 50%,#fbf4f4 50%)"></i>新加坡 <b>SG-06</b></span></div><div class="c f2" style="left:228px;width:58px;"><span>Trojan</span></div><div class="c f3 k" style="left:286px;width:70px;background:#11f56f;"><span>49ms</span></div><div class="c f4 k" style="left:356px;width:89px;background:#ff3c05;"><span>1974ms</span></div><div class="c f5 k" style="left:445px;width:125px;background:#fbd590;"><span>商宽<b>/</b>机房<b>IP</b></span></div><div class="c f6 k" style="left:570px;width:55px;background:#ecebea;"><span>无<b>(</b>无<b>)</b></span></div><div class="c f7 k" style="left:625px;width:89px;background:#8e8c90;"><span>查询失败</span></div><div class="c f8 k" style="left:714px;width:74px;background:#bae783;"><span>解锁<b>(SG)</b></span></div><div class="c f9 k" style="left:788px;width:82px;background:#bae783;"><span>解锁<b>(SG)</b></span></div><div class="c f10 k" style="left:870px;width:73px;background:#8e8c90;"><span><b>N/A</b></span></div><div class="c f11 k" style="left:943px;width:80px;background:#fc2078;"><span>83.00MB</span></div><div class="c f12 k" style="left:1023px;width:83px;background:#fc2078;"><span>107.92MB</span></div><div class="c" style="left:1106px;width:74px"><svg width="74" height="24" style="position:absolute;left:0;top:0"><rect x="1.20" y="7.20" width="10.90" height="16.20" fill="#fc2078"/><rect x="11.48" y="7.65" width="10.90" height="15.75" fill="#fc2078"/><rect x="21.76" y="5.17" width="10.90" height="18.23" fill="#fc2078"/><rect x="32.04" y="1.57" width="10.90" height="21.82" fill="#fc2078"/><rect x="42.32" y="2.02" width="10.90" height="21.38" fill="#fc2078"/><rect x="52.60" y="4.72" width="10.90" height="18.68" fill="#fc2078"/><rect x="62.88" y="18.90" width="10.30" height="4.50" fill="#e0709c"/></svg></div><div class="c f14" style="left:1180px;width:301px;letter-spacing:-0.43px;"><span>SG·Nearoute·AS147293</span></div><div class="c f15" style="left:1481px;width:119px;letter-spacing:-0.25px;"><span>FullCone</span></div></div>
<div class="r d" style="top:955px;height:24px;line-height:24px"><div class="c f0" style="left:0px;width:46px;"><span>39</span></div><div class="c nm f1" style="left:46px;width:182px;padding-left:10px"><span><i class="fl" style="background:linear-gradient(#de3048 50%,#fbf4f4 50%)"></i>新加坡 <b>SG-07</b></span></div><div class="c f2" style="left:228px;width:58px;"><span>Trojan</span></div><div class="c f3 k" style="left:286px;width:70px;background:#12f46f;"><span>56ms</span></div><div class="c f4 k" style="left:356px;width:89px;background:#ff3c05;"><span>2898ms</span></div><div class="c f5" style="left:445px;width:125px;"><span><b>-</b></span></div><div class="c f6 k" style="left:570px;width:55px;background:#ecebea;"><span>无<b>(</b>无<b>)</b></span></div><div class="c f7 k" style="left:625px;width:89px;background:#8e8c90;"><span>查询失败</span></div><div class="c f8 k" style="left:714px;width:74px;background:#bae783;"><span>解锁<b>(SG)</b></span></div><div class="c f9 k" style="left:788px;width:82px;background:#bae783;"><span>解锁<b>(SG)</b></span></div><div class="c f10 k" style="left:870px;width:73px;background:#bae783;"><span>解锁<b>(US)</b></span></div><div class="c f11 k" style="left:943px;width:80px;background:#fc2078;"><span>59.59MB</span></div><div class="c f12 k" style="left:1023px;width:83px;background:#fc2078;"><span>82.08MB</span></div><div class="c" style="left:1106px;width:74px"><svg width="74" height="24" style="position:absolute;left:0;top:0"><rect x="1.20" y="3.15" width="10.90" height="20.25" fill="#fc2078"/><rect x="11.48" y="1.80" width="10.90" height="21.60" fill="#fc2078"/><rect x="21.76" y="2.02" width="10.90" height="21.38" fill="#fc2078"/><rect x="32.04" y="3.38" width="10.90" height="20.02" fill="#fc2078"/><rect x="42.32" y="2.70" width="10.90" height="20.70" fill="#fc2078"/><rect x="52.60" y="15.07" width="10.30" height="8.32" fill="#f95466"/></svg></div><div class="c f14" style="left:1180px;width:301px;letter-spacing:-0.43px;"><span>SG·Nearoute·AS147293</span></div><div class="c f15" style="left:1481px;width:119px;letter-spacing:-0.25px;"><span>FullCone</span></div></div>
<div class="r d" style="top:979px;height:24px;line-height:24px"><div class="c f0" style="left:0px;width:46px;"><span>40</span></div><div class="c nm f1" style="left:46px;width:182px;padding-left:10px"><span><i class="fl" style="background:linear-gradient(#de3048 50%,#fbf4f4 50%)"></i>新加坡 <b>SG-08</b></span></div><div class="c f2" style="left:228px;width:58px;"><span>Trojan</span></div><div class="c f3 k" style="left:286px;width:70px;background:#13f36e;"><span>63ms</span></div><div class="c f4 k" style="left:356px;width:89px;background:#35d85f;"><span>280ms</span></div><div class="c f5 k" style="left:445px;width:125px;background:#fbd590;"><span>商宽<b>/</b>机房<b>IP</b></span></div><div class="c f6 k" style="left:570px;width:55px;background:#ecebea;"><span>无<b>(</b>无<b>)</b></span></div><div class="c f7 k" style="left:625px;width:89px;background:#8e8c90;"><span>查询失败</span></div><div class="c f8 k" style="left:714px;width:74px;background:#bae783;"><span>解锁<b>(SG)</b></span></div><div class="c f9 k" style="left:788px;width:82px;background:#bae783;"><span>解锁<b>(SG)</b></span></div><div class="c f10" style="left:870px;width:73px;"><span><b>-</b></span></div><div class="c f11 k" style="left:943px;width:80px;background:#fc2078;"><span>66.11MB</span></div><div class="c f12 k" style="left:1023px;width:83px;background:#fc2078;"><span>79.20MB</span></div><div class="c" style="left:1106px;width:74px"><svg width="74" height="24" style="position:absolute;left:0;top:0"><rect x="1.20" y="11.25" width="10.90" height="12.15" fill="#fc2078"/><rect x="11.48" y="7.88" width="10.90" height="15.52" fill="#fc2078"/><rect x="21.76" y="9.22" width="10.90" height="14.18" fill="#fc2078"/><rect x="32.04" y="1.80" width="10.90" height="21.60" fill="#fc2078"/><rect x="42.32" y="2.70" width="10.90" height="20.70" fill="#fc2078"/><rect x="52.60" y="1.80" width="10.90" height="21.60" fill="#fc2078"/><rect x="62.88" y="1.80" width="10.30" height="21.60" fill="#fc2078"/></svg></div><div class="c f14" style="left:1180px;width:301px;letter-spacing:-0.43px;"><span>SG·Nearoute·AS147293</span></div><div class="c f15" style="left:1481px;width:119px;letter-spacing:-0.25px;"><span>FullCone</span></div></div>
<div class="r d" style="top:1003px;height:24px;line-height:24px"><div class="c f0" style="left:0px;width:46px;"><span>41</span></div><div class="c nm f1" style="left:46px;width:182px;padding-left:10px"><span><i class="fl" style="background:linear-gradient(#de3048 50%,#fbf4f4 50%)"></i>新加坡 <b>SG-09</b></span></div><div class="c f2" style="left:228px;width:58px;"><span>Trojan</span></div><div class="c f3 k" style="left:286px;width:70px;background:#14f36e;"><span>64ms</span></div><div class="c f4 k" style="left:356px;width:89px;background:#52c252;"><span>460ms</span></div><div class="c f5 k" style="left:445px;width:125px;background:#fbd590;"><span>商宽<b>/</b>机房<b>IP</b></span></div><div class="c f6 k" style="left:570px;width:55px;background:#ecebea;"><span>无<b>(</b>无<b>)</b></span></div><div class="c f7 k" style="left:625px;width:89px;background:#8e8c90;"><span>查询失败</span></div><div class="c f8 k" style="left:714px;width:74px;background:#bae783;"><span>解锁<b>(SG)</b></span></div><div class="c f9 k" style="left:788px;width:82px;background:#bae783;"><span>解锁<b>(SG)</b></span></div><div class="c f10" style="left:870px;width:73px;"><span><b>-</b></span></div><div class="c f11 k" style="left:943px;width:80px;background:#fc2078;"><span>73.24MB</span></div><div class="c f12 k" style="left:1023px;width:83px;background:#fc2078;"><span>88.06MB</span></div><div class="c" style="left:1106px;width:74px"><svg width="74" height="24" style="position:absolute;left:0;top:0"><rect x="1.20" y="9.67" width="10.90" height="13.72" fill="#fc2078"/><rect x="11.48" y="6.75" width="10.90" height="16.65" fill="#fc2078"/><rect x="21.76" y="3.15" width="10.90" height="20.25" fill="#fc2078"/><rect x="32.04" y="1.80" width="10.90" height="21.60" fill="#fc2078"/><rect x="42.32" y="6.30" width="10.90" height="17.10" fill="#fc2078"/><rect x="52.60" y="5.17" width="10.90" height="18.23" fill="#fc2078"/><rect x="62.88" y="2.92" width="10.30" height="20.48" fill="#fc2078"/></svg></div><div class="c f14" style="left:1180px;width:301px;letter-spacing:-0.43px;"><span>SG·Nearoute·AS147293</span></div><div class="c f15" style="left:1481px;width:119px;letter-spacing:-0.25px;"><span>FullCone</span></div></div>
<div class="r d" style="top:1027px;height:24px;line-height:24px"><div class="c f0" style="left:0px;width:46px;"><span>42</span></div><div class="c nm f1" style="left:46px;width:182px;padding-left:10px"><span><i class="fl" style="background:linear-gradient(#de3048 50%,#fbf4f4 50%)"></i>新加坡 <b>SG-10</b></span></div><div class="c f2" style="left:228px;width:58px;"><span>Trojan</span></div><div class="c f3 k" style="left:286px;width:70px;background:#13f36e;"><span>59ms</span></div><div class="c f4 k" style="left:356px;width:89px;background:#bd6f22;"><span>1140ms</span></div><div class="c f5 k" style="left:445px;width:125px;background:#fbd590;"><span>商宽<b>/</b>机房<b>IP</b></span></div><div class="c f6 k" style="left:570px;width:55px;background:#ecebea;"><span>无<b>(</b>无<b>)</b></span></div><div class="c f7 k" style="left:625px;width:89px;background:#8e8c90;"><span>查询失败</span></div><div class="c f8 k" style="left:714px;width:74px;background:#bae783;"><span>解锁<b>(SG)</b></span></div><div class="c f9 k" style="left:788px;width:82px;background:#bae783;"><span>解锁<b>(SG)</b></span></div><div class="c f10 k" style="left:870px;width:73px;background:#bae783;"><span>解锁<b>(US)</b></span></div><div class="c f11 k" style="left:943px;width:80px;background:#fc2577;"><span>52.19MB</span></div><div class="c f12 k" style="left:1023px;width:83px;background:#fc2078;"><span>86.96MB</span></div><div class="c" style="left:1106px;width:74px"><svg width="74" height="24" style="position:absolute;left:0;top:0"><rect x="1.20" y="1.12" width="10.90" height="22.27" fill="#fc2078"/><rect x="11.48" y="8.10" width="10.90" height="15.30" fill="#fc2078"/><rect x="21.76" y="12.37" width="10.90" height="11.03" fill="#fc2078"/><rect x="32.04" y="12.82" width="10.90" height="10.57" fill="#fb3a6e"/><rect x="42.32" y="10.80" width="10.90" height="12.60" fill="#fc2078"/><rect x="52.60" y="11.92" width="10.90" height="11.47" fill="#fc2078"/><rect x="62.88" y="16.42" width="10.30" height="6.97" fill="#f95466"/></svg></div><div class="c f14" style="left:1180px;width:301px;letter-spacing:-0.43px;"><span>SG·Nearoute·AS147293</span></div><div class="c f15" style="left:1481px;width:119px;letter-spacing:-0.25px;"><span>FullCone</span></div></div>
<div class="r d" style="top:1051px;height:24px;line-height:24px"><div class="c f0" style="left:0px;width:46px;"><span>43</span></div><div class="c nm f1" style="left:46px;width:182px;padding-left:10px"><span><i class="fl" style="background:radial-gradient(circle at 50% 50%,#a8304e 0 1.9px,#fdfbfb 2.5px)"></i>日本 <b>JP-01</b></span></div><div class="c f2" style="left:228px;width:58px;"><span>Trojan</span></div><div class="c f3 k" style="left:286px;width:70px;background:#14f26e;"><span>70ms</span></div><div class="c f4 k" style="left:356px;width:89px;background:#8b9538;"><span>825ms</span></div><div class="c f5 k" style="left:445px;width:125px;background:#fbd590;"><span>商宽<b>/</b>机房<b>IP</b></span></div><div class="c f6 k" style="left:570px;width:55px;background:#ecebea;"><span>无<b>(</b>无<b>)</b></span></div><div class="c f7 k" style="left:625px;width:89px;background:#bae783;"><span>解锁<b>(JP)</b></span></div><div class="c f8 k" style="left:714px;width:74px;background:#bae783;"><span>解锁<b>(JP)</b></span></div><div class="c f9 k" style="left:788px;width:82px;background:#bae783;"><span>解锁<b>(JP)</b></span></div><div class="c f10 k" style="left:870px;width:73px;background:#bae783;"><span>解锁<b>(JP)</b></span></div><div class="c f11 k" style="left:943px;width:80px;background:#fc2a76;"><span>50.78MB</span></div><div class="c f12 k" style="left:1023px;width:83px;background:#fc2078;"><span>61.91MB</span></div><div class="c" style="left:1106px;width:74px"><svg width="74" height="24" style="position:absolute;left:0;top:0"><rect x="1.20" y="6.30" width="10.90" height="17.10" fill="#fc2078"/><rect x="11.48" y="4.72" width="10.90" height="18.68" fill="#fc2078"/><rect x="21.76" y="4.27" width="10.90" height="19.12" fill="#fc2078"/><rect x="32.04" y="7.65" width="10.90" height="15.75" fill="#fc2078"/><rect x="42.32" y="6.97" width="10.90" height="16.43" fill="#fc2078"/><rect x="52.60" y="6.30" width="10.90" height="17.10" fill="#fc2078"/><rect x="62.88" y="1.57" width="10.30" height="21.82" fill="#fc2078"/></svg></div><div class="c f14" style="left:1180px;width:301px;letter-spacing:-0.24px;"><span>JP·Cogent Communications·AS51847</span></div><div class="c f15" style="left:1481px;width:119px;letter-spacing:-0.25px;"><span>FullCone</span></div></div>
<div class="r d" style="top:1075px;height:23px;line-height:23px"><div class="c f0" style="left:0px;width:46px;"><span>44</span></div><div class="c nm f1" style="left:46px;width:182px;padding-left:10px"><span><i class="fl" style="background:radial-gradient(circle at 50% 50%,#a8304e 0 1.9px,#fdfbfb 2.5px)"></i>日本 <b>JP-02</b></span></div><div class="c f2" style="left:228px;width:58px;"><span>Trojan</span></div><div class="c f3 k" style="left:286px;width:70px;background:#14f26e;"><span>70ms</span></div><div class="c f4 k" style="left:356px;width:89px;background:#42ce59;"><span>362ms</span></div><div class="c f5 k" style="left:445px;width:125px;background:#fbd590;"><span>商宽<b>/</b>机房<b>IP</b></span></div><div class="c f6 k" style="left:570px;width:55px;background:#8e8c90;"><span><b>N/A</b></span></div><div class="c f7 k" style="left:625px;width:89px;background:#5fd0e8;"><span>未知</span></div><div class="c f8 k" style="left:714px;width:74px;background:#bae783;"><span>解锁<b>(JP)</b></span></div><div class="c f9 k" style="left:788px;width:82px;background:#bae783;"><span>解锁<b>(JP)</b></span></div><div class="c f10 k" style="left:870px;width:73px;background:#8e8c90;"><span><b>N/A</b></span></div><div class="c f11 k" style="left:943px;width:80px;background:#fc2178;"><span>53.53MB</span></div><div class="c f12 k" style="left:1023px;width:83px;background:#fc2078;"><span>79.92MB</span></div><div class="c" style="left:1106px;width:74px"><svg width="74" height="23" style="position:absolute;left:0;top:0"><rect x="1.20" y="3.48" width="10.90" height="18.92" fill="#fc2078"/><rect x="11.48" y="2.19" width="10.90" height="20.21" fill="#fc2078"/><rect x="21.76" y="3.05" width="10.90" height="19.35" fill="#fc2078"/><rect x="32.04" y="1.33" width="10.90" height="21.07" fill="#fc2078"/><rect x="42.32" y="4.12" width="10.30" height="18.27" fill="#fc2078"/></svg></div><div class="c f14 k" style="left:1180px;width:301px;background:#8e8c90;"><span>N/A</span></div><div class="c f15" style="left:1481px;width:119px;letter-spacing:0.37px;"><span>Unknown</span></div></div>
<div class="r d" style="top:1098px;height:24px;line-height:24px"><div class="c f0" style="left:0px;width:46px;"><span>45</span></div><div class="c nm f1" style="left:46px;width:182px;padding-left:10px"><span><i class="fl" style="background:radial-gradient(circle at 50% 50%,#a8304e 0 1.9px,#fdfbfb 2.5px)"></i>日本 <b>JP-03</b></span></div><div class="c f2" style="left:228px;width:58px;"><span>Trojan</span></div><div class="c f3 k" style="left:286px;width:70px;background:#14f26e;"><span>66ms</span></div><div class="c f4 k" style="left:356px;width:89px;background:#42cf59;"><span>359ms</span></div><div class="c f5" style="left:445px;width:125px;"><span><b>-</b></span></div><div class="c f6 k" style="left:570px;width:55px;background:#ecebea;"><span>无<b>(</b>无<b>)</b></span></div><div class="c f7 k" style="left:625px;width:89px;background:#8e8c90;"><span>查询失败</span></div><div class="c f8 k" style="left:714px;width:74px;background:#8e8c90;"><span><b>N/A</b></span></div><div class="c f9 k" style="left:788px;width:82px;background:#8e8c90;"><span><b>N/A</b></span></div><div class="c f10 k" style="left:870px;width:73px;background:#8e8c90;"><span><b>N/A</b></span></div><div class="c f11 k" style="left:943px;width:80px;background:#fc2078;"><span>66.50MB</span></div><div class="c f12 k" style="left:1023px;width:83px;background:#fc2078;"><span>96.91MB</span></div><div class="c" style="left:1106px;width:74px"><svg width="74" height="24" style="position:absolute;left:0;top:0"><rect x="1.20" y="1.57" width="10.90" height="21.82" fill="#fc2078"/><rect x="11.48" y="2.02" width="10.90" height="21.38" fill="#fc2078"/><rect x="21.76" y="1.35" width="10.90" height="22.05" fill="#fc2078"/><rect x="32.04" y="2.47" width="10.90" height="20.93" fill="#fc2078"/><rect x="42.32" y="3.38" width="10.30" height="20.02" fill="#fc2078"/></svg></div><div class="c f14 k" style="left:1180px;width:301px;background:#8e8c90;"><span>N/A</span></div><div class="c f15" style="left:1481px;width:119px;letter-spacing:0.37px;"><span>Unknown</span></div></div>
<div class="r d" style="top:1122px;height:24px;line-height:24px"><div class="c f0" style="left:0px;width:46px;"><span>46</span></div><div class="c nm f1" style="left:46px;width:182px;padding-left:10px"><span><i class="fl" style="background:radial-gradient(circle at 50% 50%,#a8304e 0 1.9px,#fdfbfb 2.5px)"></i>日本 <b>JP-04</b></span></div><div class="c f2" style="left:228px;width:58px;"><span>Trojan</span></div><div class="c f3 k" style="left:286px;width:70px;background:#14f26e;"><span>70ms</span></div><div class="c f4 k" style="left:356px;width:89px;background:#44cd58;"><span>374ms</span></div><div class="c f5 k" style="left:445px;width:125px;background:#fbd590;"><span>商宽<b>/</b>机房<b>IP</b></span></div><div class="c f6 k" style="left:570px;width:55px;background:#ecebea;"><span>无<b>(</b>无<b>)</b></span></div><div class="c f7 k" style="left:625px;width:89px;background:#bae783;"><span>解锁<b>(JP)</b></span></div><div class="c f8 k" style="left:714px;width:74px;background:#bae783;"><span>解锁<b>(JP)</b></span></div><div class="c f9 k" style="left:788px;width:82px;background:#bae783;"><span>解锁<b>(JP)</b></span></div><div class="c f10 k" style="left:870px;width:73px;background:#bae783;"><span>解锁<b>(JP)</b></span></div><div class="c f11 k" style="left:943px;width:80px;background:#fc2078;"><span>85.50MB</span></div><div class="c f12 k" style="left:1023px;width:83px;background:#fc2078;"><span>101.22MB</span></div><div class="c" style="left:1106px;width:74px"><svg width="74" height="24" style="position:absolute;left:0;top:0"><rect x="1.20" y="6.07" width="10.90" height="17.32" fill="#fc2078"/><rect x="11.48" y="3.15" width="10.90" height="20.25" fill="#fc2078"/><rect x="21.76" y="5.17" width="10.90" height="18.23" fill="#fc2078"/><rect x="32.04" y="5.40" width="10.90" height="18.00" fill="#fc2078"/><rect x="42.32" y="1.12" width="10.90" height="22.27" fill="#fc2078"/><rect x="52.60" y="5.40" width="10.90" height="18.00" fill="#fc2078"/><rect x="62.88" y="5.17" width="10.30" height="18.23" fill="#fc2078"/></svg></div><div class="c f14" style="left:1180px;width:301px;letter-spacing:-0.24px;"><span>JP·Cogent Communications·AS51847</span></div><div class="c f15" style="left:1481px;width:119px;letter-spacing:-0.25px;"><span>FullCone</span></div></div>
<div class="r d" style="top:1146px;height:24px;line-height:24px"><div class="c f0" style="left:0px;width:46px;"><span>47</span></div><div class="c nm f1" style="left:46px;width:182px;padding-left:10px"><span><i class="fl" style="background:radial-gradient(circle at 50% 50%,#a8304e 0 1.9px,#fdfbfb 2.5px)"></i>日本 <b>JP-05</b></span></div><div class="c f2" style="left:228px;width:58px;"><span>Trojan</span></div><div class="c f3 k" style="left:286px;width:70px;background:#18ef6c;"><span>91ms</span></div><div class="c f4 k" style="left:356px;width:89px;background:#ff3c05;"><span>3448ms</span></div><div class="c f5 k" style="left:445px;width:125px;background:#fbd590;"><span>商宽<b>/</b>机房<b>IP</b></span></div><div class="c f6 k" style="left:570px;width:55px;background:#ecebea;"><span>无<b>(</b>无<b>)</b></span></div><div class="c f7 k" style="left:625px;width:89px;background:#bae783;"><span>解锁<b>(JP)</b></span></div><div class="c f8 k" style="left:714px;width:74px;background:#bae783;"><span>解锁<b>(JP)</b></span></div><div class="c f9 k" style="left:788px;width:82px;background:#bae783;"><span>解锁<b>(JP)</b></span></div><div class="c f10 k" style="left:870px;width:73px;background:#bae783;"><span>解锁<b>(JP)</b></span></div><div class="c f11 k" style="left:943px;width:80px;background:#ee7b9c;"><span>27.09MB</span></div><div class="c f12 k" style="left:1023px;width:83px;background:#fc2078;"><span>89.86MB</span></div><div class="c" style="left:1106px;width:74px"><svg width="74" height="24" style="position:absolute;left:0;top:0"><rect x="21.76" y="20.25" width="10.90" height="3.15" fill="#b2b2ea"/><rect x="32.04" y="1.80" width="10.90" height="21.60" fill="#fc2078"/><rect x="42.32" y="1.35" width="10.30" height="22.05" fill="#fc2078"/></svg></div><div class="c f14" style="left:1180px;width:301px;letter-spacing:-0.24px;"><span>JP·Cogent Communications·AS51847</span></div><div class="c f15" style="left:1481px;width:119px;letter-spacing:0.37px;"><span>Unknown</span></div></div>
<div class="r d" style="top:1170px;height:24px;line-height:24px"><div class="c f0" style="left:0px;width:46px;"><span>48</span></div><div class="c nm f1" style="left:46px;width:182px;padding-left:10px"><span><i class="fl" style="background:radial-gradient(circle at 50% 50%,#a8304e 0 1.9px,#fdfbfb 2.5px)"></i>日本 <b>JP-06</b></span></div><div class="c f2" style="left:228px;width:58px;"><span>Trojan</span></div><div class="c f3 k" style="left:286px;width:70px;background:#19ef6c;"><span>98ms</span></div><div class="c f4 k" style="left:356px;width:89px;background:#829c3c;"><span>768ms</span></div><div class="c f5 k" style="left:445px;width:125px;background:#fbd590;"><span>商宽<b>/</b>机房<b>IP</b></span></div><div class="c f6 k" style="left:570px;width:55px;background:#ecebea;"><span>无<b>(</b>无<b>)</b></span></div><div class="c f7 k" style="left:625px;width:89px;background:#bae783;"><span>解锁<b>(JP)</b></span></div><div class="c f8 k" style="left:714px;width:74px;background:#bae783;"><span>解锁<b>(JP)</b></span></div><div class="c f9 k" style="left:788px;width:82px;background:#bae783;"><span>解锁<b>(JP)</b></span></div><div class="c f10 k" style="left:870px;width:73px;background:#bae783;"><span>解锁<b>(JP)</b></span></div><div class="c f11 k" style="left:943px;width:80px;background:#fc2078;"><span>88.20MB</span></div><div class="c f12 k" style="left:1023px;width:83px;background:#fc2078;"><span>97.91MB</span></div><div class="c" style="left:1106px;width:74px"><svg width="74" height="24" style="position:absolute;left:0;top:0"><rect x="1.20" y="5.17" width="10.90" height="18.23" fill="#fc2078"/><rect x="11.48" y="1.80" width="10.90" height="21.60" fill="#fc2078"/><rect x="21.76" y="2.25" width="10.90" height="21.15" fill="#fc2078"/><rect x="32.04" y="4.05" width="10.90" height="19.35" fill="#fc2078"/><rect x="42.32" y="1.35" width="10.90" height="22.05" fill="#fc2078"/><rect x="52.60" y="4.72" width="10.90" height="18.68" fill="#fc2078"/><rect x="62.88" y="4.72" width="10.30" height="18.68" fill="#fc2078"/></svg></div><div class="c f14" style="left:1180px;width:301px;letter-spacing:-0.24px;"><span>JP·Cogent Communications·AS51847</span></div><div class="c f15" style="left:1481px;width:119px;letter-spacing:-0.25px;"><span>FullCone</span></div></div>
<div class="r d" style="top:1194px;height:24px;line-height:24px"><div class="c f0" style="left:0px;width:46px;"><span>49</span></div><div class="c nm f1" style="left:46px;width:182px;padding-left:10px"><span><i class="fl" style="background:radial-gradient(circle at 50% 50%,#a8304e 0 1.9px,#fdfbfb 2.5px)"></i>日本 <b>JP-07</b></span></div><div class="c f2" style="left:228px;width:58px;"><span>Trojan</span></div><div class="c f3 k" style="left:286px;width:70px;background:#14f26e;"><span>70ms</span></div><div class="c f4 k" style="left:356px;width:89px;background:#ff3c05;"><span>1660ms</span></div><div class="c f5 k" style="left:445px;width:125px;background:#fbd590;"><span>商宽<b>/</b>机房<b>IP</b></span></div><div class="c f6 k" style="left:570px;width:55px;background:#ecebea;"><span>无<b>(</b>无<b>)</b></span></div><div class="c f7 k" style="left:625px;width:89px;background:#bae783;"><span>解锁<b>(JP)</b></span></div><div class="c f8 k" style="left:714px;width:74px;background:#bae783;"><span>解锁<b>(JP)</b></span></div><div class="c f9 k" style="left:788px;width:82px;background:#bae783;"><span>解锁<b>(JP)</b></span></div><div class="c f10 k" style="left:870px;width:73px;background:#bae783;"><span>解锁<b>(JP)</b></span></div><div class="c f11 k" style="left:943px;width:80px;background:#b4d4fa;"><span>6.62MB</span></div><div class="c f12 k" style="left:1023px;width:83px;background:#fc3872;"><span>45.69MB</span></div><div class="c" style="left:1106px;width:74px"><svg width="74" height="24" style="position:absolute;left:0;top:0"><rect x="42.32" y="3.82" width="10.30" height="19.57" fill="#fa2a6c"/></svg></div><div class="c f14" style="left:1180px;width:301px;letter-spacing:-0.24px;"><span>JP·Cogent Communications·AS51847</span></div><div class="c f15" style="left:1481px;width:119px;letter-spacing:0.37px;"><span>Unknown</span></div></div>
<div class="r d" style="top:1218px;height:24px;line-height:24px"><div class="c f0" style="left:0px;width:46px;"><span>50</span></div><div class="c nm f1" style="left:46px;width:182px;padding-left:10px"><span><i class="fl" style="background:radial-gradient(circle at 50% 50%,#a8304e 0 1.9px,#fdfbfb 2.5px)"></i>日本 <b>JP-08</b></span></div><div class="c f2" style="left:228px;width:58px;"><span>Trojan</span></div><div class="c f3 k" style="left:286px;width:70px;background:#15f26d;"><span>73ms</span></div><div class="c f4 k" style="left:356px;width:89px;background:#909236;"><span>855ms</span></div><div class="c f5 k" style="left:445px;width:125px;background:#fbd590;"><span>商宽<b>/</b>机房<b>IP</b></span></div><div class="c f6 k" style="left:570px;width:55px;background:#ecebea;"><span>无<b>(</b>无<b>)</b></span></div><div class="c f7 k" style="left:625px;width:89px;background:#bae783;"><span>解锁<b>(JP)</b></span></div><div class="c f8 k" style="left:714px;width:74px;background:#bae783;"><span>解锁<b>(JP)</b></span></div><div class="c f9 k" style="left:788px;width:82px;background:#bae783;"><span>解锁<b>(JP)</b></span></div><div class="c f10 k" style="left:870px;width:73px;background:#8e8c90;"><span><b>N/A</b></span></div><div class="c f11 k" style="left:943px;width:80px;background:#fc5070;"><span>36.39MB</span></div><div class="c f12 k" style="left:1023px;width:83px;background:#fc2078;"><span>56.21MB</span></div><div class="c" style="left:1106px;width:74px"><svg width="74" height="24" style="position:absolute;left:0;top:0"><rect x="1.20" y="5.85" width="10.90" height="17.55" fill="#fc2078"/><rect x="11.48" y="1.57" width="10.90" height="21.82" fill="#fc2078"/><rect x="21.76" y="2.92" width="10.90" height="20.48" fill="#fc2078"/><rect x="32.04" y="3.60" width="10.90" height="19.80" fill="#fc2078"/><rect x="42.32" y="6.30" width="10.30" height="17.10" fill="#fc2078"/></svg></div><div class="c f14" style="left:1180px;width:301px;letter-spacing:-0.24px;"><span>JP·Cogent Communications·AS51847</span></div><div class="c f15" style="left:1481px;width:119px;letter-spacing:0.37px;"><span>Unknown</span></div></div>
<div class="r d" style="top:1242px;height:24px;line-height:24px"><div class="c f0" style="left:0px;width:46px;"><span>51</span></div><div class="c nm f1" style="left:46px;width:182px;padding-left:10px"><span><i class="fl" style="background:radial-gradient(circle at 50% 50%,#a8304e 0 1.9px,#fdfbfb 2.5px)"></i>日本 <b>JP-09</b></span></div><div class="c f2" style="left:228px;width:58px;"><span>Trojan</span></div><div class="c f3 k" style="left:286px;width:70px;background:#15f16d;"><span>74ms</span></div><div class="c f4 k" style="left:356px;width:89px;background:#ff3c05;"><span>1955ms</span></div><div class="c f5 k" style="left:445px;width:125px;background:#fbd590;"><span>商宽<b>/</b>机房<b>IP</b></span></div><div class="c f6 k" style="left:570px;width:55px;background:#ecebea;"><span>无<b>(</b>无<b>)</b></span></div><div class="c f7 k" style="left:625px;width:89px;background:#bae783;"><span>解锁<b>(JP)</b></span></div><div class="c f8 k" style="left:714px;width:74px;background:#bae783;"><span>解锁<b>(JP)</b></span></div><div class="c f9 k" style="left:788px;width:82px;background:#bae783;"><span>解锁<b>(JP)</b></span></div><div class="c f10 k" style="left:870px;width:73px;background:#bae783;"><span>解锁<b>(JP)</b></span></div><div class="c f11 k" style="left:943px;width:80px;background:#fc2078;"><span>54.03MB</span></div><div class="c f12 k" style="left:1023px;width:83px;background:#fc2078;"><span>86.66MB</span></div><div class="c" style="left:1106px;width:74px"><svg width="74" height="24" style="position:absolute;left:0;top:0"><rect x="1.20" y="12.82" width="10.90" height="10.57" fill="#fc2078"/><rect x="11.48" y="1.35" width="10.90" height="22.05" fill="#fc2078"/><rect x="21.76" y="10.12" width="10.90" height="13.27" fill="#fc2078"/><rect x="32.04" y="11.92" width="10.90" height="11.47" fill="#fc2078"/><rect x="42.32" y="11.92" width="10.90" height="11.47" fill="#fc2078"/><rect x="52.60" y="12.82" width="10.90" height="10.57" fill="#fc2078"/><rect x="62.88" y="10.57" width="10.30" height="12.82" fill="#fc2078"/></svg></div><div class="c f14" style="left:1180px;width:301px;letter-spacing:-0.24px;"><span>JP·Cogent Communications·AS51847</span></div><div class="c f15" style="left:1481px;width:119px;letter-spacing:-0.25px;"><span>FullCone</span></div></div>
<div class="r d" style="top:1266px;height:23px;line-height:23px"><div class="c f0" style="left:0px;width:46px;"><span>52</span></div><div class="c nm f1" style="left:46px;width:182px;padding-left:10px"><span><i class="fl" style="background:radial-gradient(circle at 50% 50%,#a8304e 0 1.9px,#fdfbfb 2.5px)"></i>日本 <b>JP-10</b></span></div><div class="c f2" style="left:228px;width:58px;"><span>Trojan</span></div><div class="c f3 k" style="left:286px;width:70px;background:#15f16d;"><span>74ms</span></div><div class="c f4 k" style="left:356px;width:89px;background:#ff3c05;"><span>2234ms</span></div><div class="c f5 k" style="left:445px;width:125px;background:#fbd590;"><span>商宽<b>/</b>机房<b>IP</b></span></div><div class="c f6 k" style="left:570px;width:55px;background:#ecebea;"><span>无<b>(</b>无<b>)</b></span></div><div class="c f7 k" style="left:625px;width:89px;background:#bae783;"><span>解锁<b>(JP)</b></span></div><div class="c f8 k" style="left:714px;width:74px;background:#bae783;"><span>解锁<b>(JP)</b></span></div><div class="c f9 k" style="left:788px;width:82px;background:#bae783;"><span>解锁<b>(JP)</b></span></div><div class="c f10 k" style="left:870px;width:73px;background:#bae783;"><span>解锁<b>(JP)</b></span></div><div class="c f11 k" style="left:943px;width:80px;background:#fc4470;"><span>40.47MB</span></div><div class="c f12 k" style="left:1023px;width:83px;background:#fc2078;"><span>93.12MB</span></div><div class="c" style="left:1106px;width:74px"><svg width="74" height="23" style="position:absolute;left:0;top:0"><rect x="11.48" y="18.31" width="10.90" height="4.08" fill="#c596ea"/><rect x="21.76" y="1.76" width="10.90" height="20.64" fill="#fc2078"/><rect x="32.04" y="5.84" width="10.90" height="16.55" fill="#fc2078"/><rect x="42.32" y="1.54" width="10.30" height="20.86" fill="#fc2078"/></svg></div><div class="c f14" style="left:1180px;width:301px;letter-spacing:-0.24px;"><span>JP·Cogent Communications·AS51847</span></div><div class="c f15" style="left:1481px;width:119px;letter-spacing:0.37px;"><span>Unknown</span></div></div>
<div class="r d" style="top:1289px;height:24px;line-height:24px"><div class="c f0" style="left:0px;width:46px;"><span>53</span></div><div class="c nm f1" style="left:46px;width:182px;padding-left:10px"><span><i class="fl" style="background:linear-gradient(#3c3b8e,#3c3b8e) 0 0/5.5px 4.4px no-repeat,repeating-linear-gradient(#c9475a 0 1.2px,#fbf6f6 1.2px 2.4px)"></i>美国 <b>US-01</b></span></div><div class="c f2" style="left:228px;width:58px;"><span>Trojan</span></div><div class="c f3 k" style="left:286px;width:70px;background:#6cae46;"><span>626ms</span></div><div class="c f4 k" style="left:356px;width:89px;background:#ff3c05;"><span>2836ms</span></div><div class="c f5 k" style="left:445px;width:125px;background:#fbd590;"><span>商宽<b>/</b>机房<b>IP</b></span></div><div class="c f6 k" style="left:570px;width:55px;background:#ecebea;"><span>无<b>(</b>无<b>)</b></span></div><div class="c f7 k" style="left:625px;width:89px;background:#bae783;"><span>解锁<b>(US)</b></span></div><div class="c f8 k" style="left:714px;width:74px;background:#8e8c90;"><span><b>N/A</b></span></div><div class="c f9 k" style="left:788px;width:82px;background:#bae783;"><span>解锁<b>(US)</b></span></div><div class="c f10 k" style="left:870px;width:73px;background:#bae783;"><span>解锁<b>(US)</b></span></div><div class="c f11 k" style="left:943px;width:80px;background:#d4f0fc;"><span>1.67MB</span></div><div class="c f12 k" style="left:1023px;width:83px;background:#bcdcfc;"><span>5.23MB</span></div><div class="c" style="left:1106px;width:74px"><svg width="74" height="24" style="position:absolute;left:0;top:0"><rect x="1.20" y="22.70" width="10.90" height="0.70" fill="#c4c8dc"/><rect x="11.48" y="22.27" width="10.90" height="1.12" fill="#c4c8dc"/><rect x="21.76" y="22.27" width="10.90" height="1.12" fill="#c4c8dc"/><rect x="32.04" y="22.70" width="10.90" height="0.70" fill="#c4c8dc"/><rect x="42.32" y="22.70" width="10.30" height="0.70" fill="#c4c8dc"/></svg></div><div class="c f14" style="left:1180px;width:301px;letter-spacing:-0.55px;"><span>US·FiberState·AS26042</span></div><div class="c f15" style="left:1481px;width:119px;letter-spacing:0.37px;"><span>Unknown</span></div></div>
<div class="r d" style="top:1313px;height:24px;line-height:24px"><div class="c f0" style="left:0px;width:46px;"><span>54</span></div><div class="c nm f1" style="left:46px;width:182px;padding-left:10px"><span><i class="fl" style="background:linear-gradient(#3c3b8e,#3c3b8e) 0 0/5.5px 4.4px no-repeat,repeating-linear-gradient(#c9475a 0 1.2px,#fbf6f6 1.2px 2.4px)"></i>美国 <b>US-02</b></span></div><div class="c f2" style="left:228px;width:58px;"><span>Trojan</span></div><div class="c f3 k" style="left:286px;width:70px;background:#29e264;"><span>199ms</span></div><div class="c f4 k" style="left:356px;width:89px;background:#929035;"><span>869ms</span></div><div class="c f5 k" style="left:445px;width:125px;background:#fbd590;"><span>商宽<b>/</b>机房<b>IP</b></span></div><div class="c f6 k" style="left:570px;width:55px;background:#ecebea;"><span>无<b>(</b>无<b>)</b></span></div><div class="c f7 k" style="left:625px;width:89px;background:#bae783;"><span>解锁<b>(US)</b></span></div><div class="c f8 k" style="left:714px;width:74px;background:#8e8c90;"><span><b>N/A</b></span></div><div class="c f9 k" style="left:788px;width:82px;background:#bae783;"><span>解锁<b>(US)</b></span></div><div class="c f10 k" style="left:870px;width:73px;background:#bae783;"><span>解锁<b>(US)</b></span></div><div class="c f11 k" style="left:943px;width:80px;background:#c8e4fc;"><span>3.62MB</span></div><div class="c f12 k" style="left:1023px;width:83px;background:#a8bcf8;"><span>9.22MB</span></div><div class="c" style="left:1106px;width:74px"><svg width="74" height="24" style="position:absolute;left:0;top:0"><rect x="1.20" y="22.70" width="10.90" height="0.70" fill="#c4c8dc"/><rect x="11.48" y="20.47" width="10.90" height="2.93" fill="#9aa8e6"/><rect x="21.76" y="22.70" width="10.90" height="0.70" fill="#c4c8dc"/><rect x="32.04" y="22.50" width="10.90" height="0.90" fill="#c4c8dc"/><rect x="42.32" y="22.50" width="10.30" height="0.90" fill="#c4c8dc"/></svg></div><div class="c f14" style="left:1180px;width:301px;letter-spacing:-0.55px;"><span>US·FiberState·AS26042</span></div><div class="c f15" style="left:1481px;width:119px;letter-spacing:-0.25px;"><span>FullCone</span></div></div>
<div class="r d" style="top:1337px;height:24px;line-height:24px"><div class="c f0" style="left:0px;width:46px;"><span>55</span></div><div class="c nm f1" style="left:46px;width:182px;padding-left:10px"><span><i class="fl" style="background:linear-gradient(#3c3b8e,#3c3b8e) 0 0/5.5px 4.4px no-repeat,repeating-linear-gradient(#c9475a 0 1.2px,#fbf6f6 1.2px 2.4px)"></i>美国 <b>US-03</b></span></div><div class="c f2" style="left:228px;width:58px;"><span>Trojan</span></div><div class="c f3 k" style="left:286px;width:70px;background:#4bc855;"><span>415ms</span></div><div class="c f4 k" style="left:356px;width:89px;background:#ff3c05;"><span>3518ms</span></div><div class="c f5 k" style="left:445px;width:125px;background:#fbd590;"><span>商宽<b>/</b>机房<b>IP</b></span></div><div class="c f6 k" style="left:570px;width:55px;background:#ecebea;"><span>无<b>(</b>无<b>)</b></span></div><div class="c f7 k" style="left:625px;width:89px;background:#bae783;"><span>解锁<b>(US)</b></span></div><div class="c f8 k" style="left:714px;width:74px;background:#8e8c90;"><span><b>N/A</b></span></div><div class="c f9 k" style="left:788px;width:82px;background:#bae783;"><span>解锁<b>(US)</b></span></div><div class="c f10 k" style="left:870px;width:73px;background:#bae783;"><span>解锁<b>(US)</b></span></div><div class="c f11 k" style="left:943px;width:80px;background:#d9f8fc;"><span>764.03KB</span></div><div class="c f12 k" style="left:1023px;width:83px;background:#c5e2fc;"><span>4.05MB</span></div><div class="c" style="left:1106px;width:74px"><svg width="74" height="24" style="position:absolute;left:0;top:0"><rect x="1.20" y="22.70" width="10.90" height="0.70" fill="#c4c8dc"/><rect x="11.48" y="22.70" width="10.90" height="0.70" fill="#c4c8dc"/><rect x="21.76" y="22.50" width="10.90" height="0.90" fill="#c4c8dc"/><rect x="32.04" y="22.70" width="10.30" height="0.70" fill="#c4c8dc"/></svg></div><div class="c f14" style="left:1180px;width:301px;letter-spacing:-0.55px;"><span>US·FiberState·AS26042</span></div><div class="c f15" style="left:1481px;width:119px;letter-spacing:-0.25px;"><span>FullCone</span></div></div>
<div class="r d" style="top:1361px;height:24px;line-height:24px"><div class="c f0" style="left:0px;width:46px;"><span>56</span></div><div class="c nm f1" style="left:46px;width:182px;padding-left:10px"><span><i class="fl" style="background:linear-gradient(#3c3b8e,#3c3b8e) 0 0/5.5px 4.4px no-repeat,repeating-linear-gradient(#c9475a 0 1.2px,#fbf6f6 1.2px 2.4px)"></i>美国 <b>US-04</b></span></div><div class="c f2" style="left:228px;width:58px;"><span>Trojan</span></div><div class="c f3 k" style="left:286px;width:70px;background:#29e264;"><span>203ms</span></div><div class="c f4 k" style="left:356px;width:89px;background:#919136;"><span>864ms</span></div><div class="c f5 k" style="left:445px;width:125px;background:#fbd590;"><span>商宽<b>/</b>机房<b>IP</b></span></div><div class="c f6 k" style="left:570px;width:55px;background:#ecebea;"><span>无<b>(</b>无<b>)</b></span></div><div class="c f7 k" style="left:625px;width:89px;background:#bae783;"><span>解锁<b>(US)</b></span></div><div class="c f8 k" style="left:714px;width:74px;background:#8e8c90;"><span><b>N/A</b></span></div><div class="c f9 k" style="left:788px;width:82px;background:#bae783;"><span>解锁<b>(US)</b></span></div><div class="c f10 k" style="left:870px;width:73px;background:#bae783;"><span>解锁<b>(US)</b></span></div><div class="c f11 k" style="left:943px;width:80px;background:#c8e4fc;"><span>3.61MB</span></div><div class="c f12 k" style="left:1023px;width:83px;background:#b4d4fa;"><span>6.69MB</span></div><div class="c" style="left:1106px;width:74px"><svg width="74" height="24" style="position:absolute;left:0;top:0"><rect x="1.20" y="22.70" width="10.90" height="0.70" fill="#c4c8dc"/><rect x="11.48" y="21.82" width="10.90" height="1.58" fill="#b0b8e4"/><rect x="21.76" y="22.70" width="10.90" height="0.70" fill="#c4c8dc"/><rect x="32.04" y="22.70" width="10.90" height="0.70" fill="#c4c8dc"/><rect x="42.32" y="22.70" width="10.90" height="0.70" fill="#c4c8dc"/><rect x="52.60" y="22.70" width="10.90" height="0.70" fill="#c4c8dc"/><rect x="62.88" y="22.70" width="10.30" height="0.70" fill="#c4c8dc"/></svg></div><div class="c f14" style="left:1180px;width:301px;letter-spacing:-0.55px;"><span>US·FiberState·AS26042</span></div><div class="c f15" style="left:1481px;width:119px;letter-spacing:-0.25px;"><span>FullCone</span></div></div>
<div class="r d" style="top:1385px;height:24px;line-height:24px"><div class="c f0" style="left:0px;width:46px;"><span>57</span></div><div class="c nm f1" style="left:46px;width:182px;padding-left:10px"><span><i class="fl" style="background:linear-gradient(#3c3b8e,#3c3b8e) 0 0/5.5px 4.4px no-repeat,repeating-linear-gradient(#c9475a 0 1.2px,#fbf6f6 1.2px 2.4px)"></i>美国 <b>US-05</b></span></div><div class="c f2" style="left:228px;width:58px;"><span>Trojan</span></div><div class="c f3 k" style="left:286px;width:70px;background:#ff3d05;"><span>-</span></div><div class="c f4 k" style="left:356px;width:89px;background:#ff3d05;"><span>-</span></div><div class="c f5 k" style="left:445px;width:125px;background:#fbd590;"><span>商宽<b>/</b>机房<b>IP</b></span></div><div class="c f6 k" style="left:570px;width:55px;background:#ecebea;"><span>无<b>(</b>无<b>)</b></span></div><div class="c f7 k" style="left:625px;width:89px;background:#bae783;"><span>解锁<b>(US)</b></span></div><div class="c f8 k" style="left:714px;width:74px;background:#8e8c90;"><span><b>N/A</b></span></div><div class="c f9 k" style="left:788px;width:82px;background:#bae783;"><span>解锁<b>(US)</b></span></div><div class="c f10 k" style="left:870px;width:73px;background:#bae783;"><span>解锁<b>(US)</b></span></div><div class="c f11" style="left:943px;width:80px;"><span>0.00B</span></div><div class="c f12" style="left:1023px;width:83px;"><span>0.00B</span></div><div class="c" style="left:1106px;width:74px"></div><div class="c f14" style="left:1180px;width:301px;letter-spacing:-0.55px;"><span>US·FiberState·AS26042</span></div><div class="c f15" style="left:1481px;width:119px;letter-spacing:-0.25px;"><span>FullCone</span></div></div>
<div class="r d" style="top:1409px;height:24px;line-height:24px"><div class="c f0" style="left:0px;width:46px;"><span>58</span></div><div class="c nm f1" style="left:46px;width:182px;padding-left:10px"><span><i class="fl" style="background:linear-gradient(#3c3b8e,#3c3b8e) 0 0/5.5px 4.4px no-repeat,repeating-linear-gradient(#c9475a 0 1.2px,#fbf6f6 1.2px 2.4px)"></i>美国 <b>US-06</b></span></div><div class="c f2" style="left:228px;width:58px;"><span>Trojan</span></div><div class="c f3 k" style="left:286px;width:70px;background:#29e264;"><span>202ms</span></div><div class="c f4 k" style="left:356px;width:89px;background:#978c33;"><span>902ms</span></div><div class="c f5 k" style="left:445px;width:125px;background:#fbd590;"><span>商宽<b>/</b>机房<b>IP</b></span></div><div class="c f6 k" style="left:570px;width:55px;background:#ecebea;"><span>无<b>(</b>无<b>)</b></span></div><div class="c f7 k" style="left:625px;width:89px;background:#bae783;"><span>解锁<b>(US)</b></span></div><div class="c f8 k" style="left:714px;width:74px;background:#8e8c90;"><span><b>N/A</b></span></div><div class="c f9 k" style="left:788px;width:82px;background:#bae783;"><span>解锁<b>(US)</b></span></div><div class="c f10 k" style="left:870px;width:73px;background:#bae783;"><span>解锁<b>(US)</b></span></div><div class="c f11 k" style="left:943px;width:80px;background:#a8bbf8;"><span>9.27MB</span></div><div class="c f12 k" style="left:1023px;width:83px;background:#b8a8f8;"><span>14.96MB</span></div><div class="c" style="left:1106px;width:74px"><svg width="74" height="24" style="position:absolute;left:0;top:0"><rect x="1.20" y="22.70" width="10.90" height="0.70" fill="#c4c8dc"/><rect x="11.48" y="19.35" width="10.90" height="4.05" fill="#b6a8f4"/><rect x="21.76" y="22.05" width="10.90" height="1.35" fill="#a9b4f0"/><rect x="32.04" y="17.55" width="10.90" height="5.85" fill="#b6a8f4"/><rect x="42.32" y="17.55" width="10.90" height="5.85" fill="#b6a8f4"/><rect x="52.60" y="21.38" width="10.90" height="2.02" fill="#a9b4f0"/><rect x="62.88" y="20.25" width="10.30" height="3.15" fill="#a9b4f0"/></svg></div><div class="c f14" style="left:1180px;width:301px;letter-spacing:-0.55px;"><span>US·FiberState·AS26042</span></div><div class="c f15" style="left:1481px;width:119px;letter-spacing:-0.25px;"><span>FullCone</span></div></div>
<div class="r d" style="top:1433px;height:24px;line-height:24px"><div class="c f0" style="left:0px;width:46px;"><span>59</span></div><div class="c nm f1" style="left:46px;width:182px;padding-left:10px"><span><i class="fl" style="background:linear-gradient(#3c3b8e,#3c3b8e) 0 0/5.5px 4.4px no-repeat,repeating-linear-gradient(#c9475a 0 1.2px,#fbf6f6 1.2px 2.4px)"></i>美国 <b>US-07</b></span></div><div class="c f2" style="left:228px;width:58px;"><span>Trojan</span></div><div class="c f3 k" style="left:286px;width:70px;background:#40d05a;"><span>348ms</span></div><div class="c f4 k" style="left:356px;width:89px;background:#ff3c05;"><span>2609ms</span></div><div class="c f5 k" style="left:445px;width:125px;background:#fbd590;"><span>商宽<b>/</b>机房<b>IP</b></span></div><div class="c f6 k" style="left:570px;width:55px;background:#ecebea;"><span>无<b>(</b>无<b>)</b></span></div><div class="c f7 k" style="left:625px;width:89px;background:#bae783;"><span>解锁<b>(US)</b></span></div><div class="c f8 k" style="left:714px;width:74px;background:#8e8c90;"><span><b>N/A</b></span></div><div class="c f9 k" style="left:788px;width:82px;background:#bae783;"><span>解锁<b>(US)</b></span></div><div class="c f10 k" style="left:870px;width:73px;background:#bae783;"><span>解锁<b>(US)</b></span></div><div class="c f11 k" style="left:943px;width:80px;background:#d6f3fc;"><span>1.30MB</span></div><div class="c f12 k" style="left:1023px;width:83px;background:#b8d8fb;"><span>5.91MB</span></div><div class="c" style="left:1106px;width:74px"><svg width="74" height="24" style="position:absolute;left:0;top:0"><rect x="1.20" y="22.70" width="10.90" height="0.70" fill="#c4c8dc"/><rect x="11.48" y="22.27" width="10.90" height="1.12" fill="#c4c8dc"/><rect x="21.76" y="22.70" width="10.90" height="0.70" fill="#c4c8dc"/><rect x="32.04" y="22.70" width="10.30" height="0.70" fill="#c4c8dc"/></svg></div><div class="c f14" style="left:1180px;width:301px;letter-spacing:-0.55px;"><span>US·FiberState·AS26042</span></div><div class="c f15" style="left:1481px;width:119px;letter-spacing:-0.25px;"><span>FullCone</span></div></div>
<div class="r d" style="top:1457px;height:24px;line-height:24px"><div class="c f0" style="left:0px;width:46px;"><span>60</span></div><div class="c nm f1" style="left:46px;width:182px;padding-left:10px"><span><i class="fl" style="background:linear-gradient(#3c3b8e,#3c3b8e) 0 0/5.5px 4.4px no-repeat,repeating-linear-gradient(#c9475a 0 1.2px,#fbf6f6 1.2px 2.4px)"></i>美国 <b>US-08</b></span></div><div class="c f2" style="left:228px;width:58px;"><span>Trojan</span></div><div class="c f3 k" style="left:286px;width:70px;background:#2be063;"><span>213ms</span></div><div class="c f4 k" style="left:356px;width:89px;background:#998b32;"><span>911ms</span></div><div class="c f5 k" style="left:445px;width:125px;background:#fbd590;"><span>商宽<b>/</b>机房<b>IP</b></span></div><div class="c f6 k" style="left:570px;width:55px;background:#ecebea;"><span>无<b>(</b>无<b>)</b></span></div><div class="c f7 k" style="left:625px;width:89px;background:#bae783;"><span>解锁<b>(US)</b></span></div><div class="c f8 k" style="left:714px;width:74px;background:#8e8c90;"><span><b>N/A</b></span></div><div class="c f9 k" style="left:788px;width:82px;background:#bae783;"><span>解锁<b>(US)</b></span></div><div class="c f10 k" style="left:870px;width:73px;background:#bae783;"><span>解锁<b>(US)</b></span></div><div class="c f11 k" style="left:943px;width:80px;background:#c7e3fc;"><span>3.78MB</span></div><div class="c f12 k" style="left:1023px;width:83px;background:#ababf6;"><span>11.87MB</span></div><div class="c" style="left:1106px;width:74px"><svg width="74" height="24" style="position:absolute;left:0;top:0"><rect x="1.20" y="22.70" width="10.90" height="0.70" fill="#c4c8dc"/><rect x="11.48" y="19.57" width="10.90" height="3.83" fill="#b6a8f4"/><rect x="21.76" y="21.82" width="10.90" height="1.58" fill="#a9b4f0"/><rect x="32.04" y="22.70" width="10.90" height="0.70" fill="#c4c8dc"/><rect x="42.32" y="22.70" width="10.30" height="0.70" fill="#c4c8dc"/></svg></div><div class="c f14" style="left:1180px;width:301px;letter-spacing:-0.55px;"><span>US·FiberState·AS26042</span></div><div class="c f15" style="left:1481px;width:119px;letter-spacing:-0.25px;"><span>FullCone</span></div></div>
<div class="r d" style="top:1481px;height:23px;line-height:23px"><div class="c f0" style="left:0px;width:46px;"><span>61</span></div><div class="c nm f1" style="left:46px;width:182px;padding-left:10px"><span><i class="fl" style="background:linear-gradient(#3c3b8e,#3c3b8e) 0 0/5.5px 4.4px no-repeat,repeating-linear-gradient(#c9475a 0 1.2px,#fbf6f6 1.2px 2.4px)"></i>美国 <b>US-09</b></span></div><div class="c f2" style="left:228px;width:58px;"><span>Trojan</span></div><div class="c f3 k" style="left:286px;width:70px;background:#6dad46;"><span>634ms</span></div><div class="c f4 k" style="left:356px;width:89px;background:#ff3c05;"><span>4114ms</span></div><div class="c f5 k" style="left:445px;width:125px;background:#fbd590;"><span>商宽<b>/</b>机房<b>IP</b></span></div><div class="c f6 k" style="left:570px;width:55px;background:#ecebea;"><span>无<b>(</b>无<b>)</b></span></div><div class="c f7 k" style="left:625px;width:89px;background:#bae783;"><span>解锁<b>(US)</b></span></div><div class="c f8 k" style="left:714px;width:74px;background:#8e8c90;"><span><b>N/A</b></span></div><div class="c f9 k" style="left:788px;width:82px;background:#5fd0e8;"><span>解锁<b>(</b>未知<b>)</b></span></div><div class="c f10 k" style="left:870px;width:73px;background:#bae783;"><span>解锁<b>(US)</b></span></div><div class="c f11 k" style="left:943px;width:80px;background:#cde9fc;"><span>2.87MB</span></div><div class="c f12 k" style="left:1023px;width:83px;background:#b3d1fa;"><span>7.00MB</span></div><div class="c" style="left:1106px;width:74px"><svg width="74" height="23" style="position:absolute;left:0;top:0"><rect x="1.20" y="21.70" width="10.90" height="0.70" fill="#c4c8dc"/><rect x="11.48" y="21.11" width="10.90" height="1.29" fill="#a9b4f0"/><rect x="21.76" y="20.25" width="10.90" height="2.15" fill="#a9b4f0"/><rect x="32.04" y="21.54" width="10.90" height="0.86" fill="#c4c8dc"/><rect x="42.32" y="20.25" width="10.30" height="2.15" fill="#a9b4f0"/></svg></div><div class="c f14" style="left:1180px;width:301px;letter-spacing:-0.55px;"><span>US·FiberState·AS26042</span></div><div class="c f15" style="left:1481px;width:119px;letter-spacing:-0.25px;"><span>FullCone</span></div></div>
<div class="r d" style="top:1504px;height:24px;line-height:24px"><div class="c f0" style="left:0px;width:46px;"><span>62</span></div><div class="c nm f1" style="left:46px;width:182px;padding-left:10px"><span><i class="fl" style="background:linear-gradient(#3c3b8e,#3c3b8e) 0 0/5.5px 4.4px no-repeat,repeating-linear-gradient(#c9475a 0 1.2px,#fbf6f6 1.2px 2.4px)"></i>美国 <b>US-10</b></span></div><div class="c f2" style="left:228px;width:58px;"><span>Trojan</span></div><div class="c f3 k" style="left:286px;width:70px;background:#29e264;"><span>202ms</span></div><div class="c f4 k" style="left:356px;width:89px;background:#948f34;"><span>882ms</span></div><div class="c f5 k" style="left:445px;width:125px;background:#fbd590;"><span>商宽<b>/</b>机房<b>IP</b></span></div><div class="c f6 k" style="left:570px;width:55px;background:#ecebea;"><span>无<b>(</b>无<b>)</b></span></div><div class="c f7 k" style="left:625px;width:89px;background:#bae783;"><span>解锁<b>(US)</b></span></div><div class="c f8 k" style="left:714px;width:74px;background:#8e8c90;"><span><b>N/A</b></span></div><div class="c f9 k" style="left:788px;width:82px;background:#bae783;"><span>解锁<b>(US)</b></span></div><div class="c f10 k" style="left:870px;width:73px;background:#bae783;"><span>解锁<b>(US)</b></span></div><div class="c f11 k" style="left:943px;width:80px;background:#cce8fc;"><span>2.91MB</span></div><div class="c f12 k" style="left:1023px;width:83px;background:#a8b2f7;"><span>10.35MB</span></div><div class="c" style="left:1106px;width:74px"><svg width="74" height="24" style="position:absolute;left:0;top:0"><rect x="1.20" y="22.70" width="10.90" height="0.70" fill="#c4c8dc"/><rect x="11.48" y="19.12" width="10.90" height="4.28" fill="#b0b0e8"/><rect x="21.76" y="21.82" width="10.90" height="1.58" fill="#a9b4f0"/><rect x="32.04" y="22.70" width="10.90" height="0.70" fill="#c4c8dc"/><rect x="42.32" y="22.70" width="10.90" height="0.70" fill="#c4c8dc"/><rect x="52.60" y="22.70" width="10.90" height="0.70" fill="#c4c8dc"/><rect x="62.88" y="22.70" width="10.30" height="0.70" fill="#c4c8dc"/></svg></div><div class="c f14" style="left:1180px;width:301px;letter-spacing:-0.55px;"><span>US·FiberState·AS26042</span></div><div class="c f15" style="left:1481px;width:119px;letter-spacing:0.37px;"><span>Unknown</span></div></div>
<div class="r d" style="top:1528px;height:24px;line-height:24px"><div class="c f0" style="left:0px;width:46px;"><span>63</span></div><div class="c nm f1" style="left:46px;width:182px;padding-left:10px"><span><i class="fl" style="background:radial-gradient(circle at 50% 50%,#a83048 0 1.3px,#2a3a78 1.5px 2.2px,rgba(250,250,250,0) 2.6px),linear-gradient(45deg,#555 0 12%,#fafafa 12% 88%,#555 88%)"></i>韩国 <b>KR-01</b></span></div><div class="c f2" style="left:228px;width:58px;"><span>Trojan</span></div><div class="c f3 k" style="left:286px;width:70px;background:#23e667;"><span>164ms</span></div><div class="c f4 k" style="left:356px;width:89px;background:#929035;"><span>870ms</span></div><div class="c f5 k" style="left:445px;width:125px;background:#fbd590;"><span>商宽<b>/</b>机房<b>IP</b></span></div><div class="c f6 k" style="left:570px;width:55px;background:#ecebea;"><span>无<b>(</b>无<b>)</b></span></div><div class="c f7 k" style="left:625px;width:89px;background:#ea6a72;"><span>失败</span></div><div class="c f8 k" style="left:714px;width:74px;background:#ea6a72;"><span>失败</span></div><div class="c f9 k" style="left:788px;width:82px;background:#bae783;"><span>解锁<b>(KR)</b></span></div><div class="c f10 k" style="left:870px;width:73px;background:#bae783;"><span>解锁<b>(JP)</b></span></div><div class="c f11 k" style="left:943px;width:80px;background:#fc2078;"><span>77.56MB</span></div><div class="c f12 k" style="left:1023px;width:83px;background:#fc2078;"><span>84.18MB</span></div><div class="c" style="left:1106px;width:74px"><svg width="74" height="24" style="position:absolute;left:0;top:0"><rect x="1.20" y="11.02" width="10.90" height="12.38" fill="#fc2078"/><rect x="11.48" y="2.47" width="10.90" height="20.93" fill="#fc2078"/><rect x="21.76" y="2.25" width="10.90" height="21.15" fill="#fc2078"/><rect x="32.04" y="1.80" width="10.90" height="21.60" fill="#fc2078"/><rect x="42.32" y="1.80" width="10.90" height="21.60" fill="#fc2078"/><rect x="52.60" y="2.25" width="10.90" height="21.15" fill="#fc2078"/><rect x="62.88" y="3.60" width="10.30" height="19.80" fill="#fc2078"/></svg></div><div class="c f14" style="left:1180px;width:301px;letter-spacing:-0.48px;"><span>KR·Vultr·AS20473</span></div><div class="c f15" style="left:1481px;width:119px;letter-spacing:-0.25px;"><span>FullCone</span></div></div>
<div class="r d" style="top:1552px;height:24px;line-height:24px"><div class="c f0" style="left:0px;width:46px;"><span>64</span></div><div class="c nm f1" style="left:46px;width:182px;padding-left:10px"><span><i class="fl" style="background:radial-gradient(circle at 50% 50%,#a83048 0 1.3px,#2a3a78 1.5px 2.2px,rgba(250,250,250,0) 2.6px),linear-gradient(45deg,#555 0 12%,#fafafa 12% 88%,#555 88%)"></i>韩国 <b>KR-02</b></span></div><div class="c f2" style="left:228px;width:58px;"><span>Trojan</span></div><div class="c f3 k" style="left:286px;width:70px;background:#23e767;"><span>161ms</span></div><div class="c f4 k" style="left:356px;width:89px;background:#ff3c05;"><span>3652ms</span></div><div class="c f5 k" style="left:445px;width:125px;background:#fbd590;"><span>商宽<b>/</b>机房<b>IP</b></span></div><div class="c f6 k" style="left:570px;width:55px;background:#ecebea;"><span>无<b>(</b>无<b>)</b></span></div><div class="c f7 k" style="left:625px;width:89px;background:#ea6a72;"><span>失败</span></div><div class="c f8 k" style="left:714px;width:74px;background:#ea6a72;"><span>失败</span></div><div class="c f9 k" style="left:788px;width:82px;background:#bae783;"><span>解锁<b>(KR)</b></span></div><div class="c f10 k" style="left:870px;width:73px;background:#bae783;"><span>解锁<b>(JP)</b></span></div><div class="c f11 k" style="left:943px;width:80px;background:#e080b0;"><span>24.24MB</span></div><div class="c f12 k" style="left:1023px;width:83px;background:#fc2078;"><span>95.87MB</span></div><div class="c" style="left:1106px;width:74px"><svg width="74" height="24" style="position:absolute;left:0;top:0"><rect x="32.04" y="8.10" width="10.90" height="15.30" fill="#fc2078"/><rect x="42.32" y="2.02" width="10.30" height="21.38" fill="#fc2078"/></svg></div><div class="c f14" style="left:1180px;width:301px;letter-spacing:-0.48px;"><span>KR·Vultr·AS20473</span></div><div class="c f15" style="left:1481px;width:119px;letter-spacing:0.37px;"><span>Unknown</span></div></div>
<div class="r d" style="top:1576px;height:24px;line-height:24px"><div class="c f0" style="left:0px;width:46px;"><span>65</span></div><div class="c nm f1" style="left:46px;width:182px;padding-left:10px"><span><i class="fl" style="background:radial-gradient(circle at 2.7px 2.2px,#e8d060 0 1px,rgba(34,16,94,0) 1.5px),linear-gradient(#2a2a84,#2a2a84) 0 0/6px 4.6px no-repeat,repeating-linear-gradient(#d85868 0 1.1px,#fbf0f0 1.1px 2.2px)"></i>马来西亚 <b>MY-01</b></span></div><div class="c f2" style="left:228px;width:58px;"><span>Trojan</span></div><div class="c f3 k" style="left:286px;width:70px;background:#a87f2b;"><span>1012ms</span></div><div class="c f4 k" style="left:356px;width:89px;background:#ff3c05;"><span>3362ms</span></div><div class="c f5 k" style="left:445px;width:125px;background:#fbd590;"><span>商宽<b>/</b>机房<b>IP</b></span></div><div class="c f6 k" style="left:570px;width:55px;background:#ecebea;"><span>无<b>(</b>无<b>)</b></span></div><div class="c f7 k" style="left:625px;width:89px;background:#8e8c90;"><span>查询失败</span></div><div class="c f8 k" style="left:714px;width:74px;background:#8e8c90;"><span><b>N/A</b></span></div><div class="c f9 k" style="left:788px;width:82px;background:#fbd590;"><span>送中<b>(CN)</b></span></div><div class="c f10" style="left:870px;width:73px;"><span><b>-</b></span></div><div class="c f11 k" style="left:943px;width:80px;background:#aec7f9;"><span>8.03MB</span></div><div class="c f12 k" style="left:1023px;width:83px;background:#acabf6;"><span>11.92MB</span></div><div class="c" style="left:1106px;width:74px"><svg width="74" height="24" style="position:absolute;left:0;top:0"><rect x="1.20" y="19.57" width="10.90" height="3.83" fill="#a9b4f0"/><rect x="11.48" y="18.67" width="10.90" height="4.72" fill="#a9b4f0"/><rect x="21.76" y="18.67" width="10.90" height="4.72" fill="#a9b4f0"/><rect x="32.04" y="18.67" width="10.90" height="4.72" fill="#a9b4f0"/><rect x="42.32" y="18.67" width="10.30" height="4.72" fill="#a9b4f0"/></svg></div><div class="c f14" style="left:1180px;width:301px;letter-spacing:-0.17px;"><span>MY·Shinjiru Technology Sdn Bhd·AS45839</span></div><div class="c f15" style="left:1481px;width:119px;letter-spacing:0.37px;"><span>Unknown</span></div></div>
<div class="r d" style="top:1600px;height:24px;line-height:24px"><div class="c f0" style="left:0px;width:46px;"><span>66</span></div><div class="c nm f1" style="left:46px;width:182px;padding-left:10px"><span><i class="fl" style="background:radial-gradient(circle at 2.7px 2.2px,#e8d060 0 1px,rgba(34,16,94,0) 1.5px),linear-gradient(#2a2a84,#2a2a84) 0 0/6px 4.6px no-repeat,repeating-linear-gradient(#d85868 0 1.1px,#fbf0f0 1.1px 2.2px)"></i>马来西亚 <b>MY-02</b></span></div><div class="c f2" style="left:228px;width:58px;"><span>Trojan</span></div><div class="c f3 k" style="left:286px;width:70px;background:#13f36e;"><span>58ms</span></div><div class="c f4 k" style="left:356px;width:89px;background:#33da60;"><span>265ms</span></div><div class="c f5 k" style="left:445px;width:125px;background:#fbd590;"><span>商宽<b>/</b>机房<b>IP</b></span></div><div class="c f6 k" style="left:570px;width:55px;background:#ecebea;"><span>无<b>(</b>无<b>)</b></span></div><div class="c f7 k" style="left:625px;width:89px;background:#8e8c90;"><span>查询失败</span></div><div class="c f8 k" style="left:714px;width:74px;background:#8e8c90;"><span><b>N/A</b></span></div><div class="c f9 k" style="left:788px;width:82px;background:#fbd590;"><span>送中<b>(CN)</b></span></div><div class="c f10" style="left:870px;width:73px;"><span><b>-</b></span></div><div class="c f11 k" style="left:943px;width:80px;background:#fc2078;"><span>57.53MB</span></div><div class="c f12 k" style="left:1023px;width:83px;background:#fc2078;"><span>64.83MB</span></div><div class="c" style="left:1106px;width:74px"><svg width="74" height="24" style="position:absolute;left:0;top:0"><rect x="1.20" y="7.20" width="10.90" height="16.20" fill="#fc2078"/><rect x="11.48" y="5.85" width="10.90" height="17.55" fill="#fc2078"/><rect x="21.76" y="2.92" width="10.90" height="20.48" fill="#fc2078"/><rect x="32.04" y="4.27" width="10.90" height="19.12" fill="#fc2078"/><rect x="42.32" y="1.57" width="10.90" height="21.82" fill="#fc2078"/><rect x="52.60" y="3.60" width="10.90" height="19.80" fill="#fc2078"/><rect x="62.88" y="3.15" width="10.30" height="20.25" fill="#fc2078"/></svg></div><div class="c f14" style="left:1180px;width:301px;letter-spacing:-0.17px;"><span>MY·Shinjiru Technology Sdn Bhd·AS45839</span></div><div class="c f15" style="left:1481px;width:119px;letter-spacing:-0.25px;"><span>FullCone</span></div></div>
<div class="r d" style="top:1624px;height:24px;line-height:24px"><div class="c f0" style="left:0px;width:46px;"><span>67</span></div><div class="c nm f1" style="left:46px;width:182px;padding-left:10px"><span><i class="fl" style="background:linear-gradient(#c84058 0 17%,#f8f0f2 17% 31%,#2d2a58 31% 69%,#f8f0f2 69% 83%,#c84058 83%)"></i>泰国 <b>TH-01</b></span></div><div class="c f2" style="left:228px;width:58px;"><span>Trojan</span></div><div class="c f3 k" style="left:286px;width:70px;background:#1aed6b;"><span>108ms</span></div><div class="c f4 k" style="left:356px;width:89px;background:#57be50;"><span>495ms</span></div><div class="c f5 k" style="left:445px;width:125px;background:#fbd590;"><span>商宽<b>/</b>机房<b>IP</b></span></div><div class="c f6 k" style="left:570px;width:55px;background:#ecebea;"><span>无<b>(</b>无<b>)</b></span></div><div class="c f7 k" style="left:625px;width:89px;background:#fad387;"><span>待解锁<b>(TH)</b></span></div><div class="c f8 k" style="left:714px;width:74px;background:#bae783;"><span>解锁<b>(TH)</b></span></div><div class="c f9 k" style="left:788px;width:82px;background:#bae783;"><span>解锁<b>(TH)</b></span></div><div class="c f10" style="left:870px;width:73px;"><span><b>-</b></span></div><div class="c f11 k" style="left:943px;width:80px;background:#c4a8f4;"><span>17.56MB</span></div><div class="c f12 k" style="left:1023px;width:83px;background:#fa6468;"><span>29.50MB</span></div><div class="c" style="left:1106px;width:74px"><svg width="74" height="24" style="position:absolute;left:0;top:0"><rect x="1.20" y="14.85" width="10.90" height="8.55" fill="#c0a2f2"/><rect x="11.48" y="10.80" width="10.90" height="12.60" fill="#fb5068"/><rect x="21.76" y="14.85" width="10.90" height="8.55" fill="#c0a2f2"/><rect x="32.04" y="12.15" width="10.90" height="11.25" fill="#e87aa2"/><rect x="42.32" y="12.15" width="10.30" height="11.25" fill="#e87aa2"/></svg></div><div class="c f14" style="left:1180px;width:301px;letter-spacing:-0.19px;"><span>TH·Siamdata Communication Co.·AS56309</span></div><div class="c f15" style="left:1481px;width:119px;letter-spacing:-0.25px;"><span>FullCone</span></div></div>
<div class="r d" style="top:1648px;height:24px;line-height:24px"><div class="c f0" style="left:0px;width:46px;"><span>68</span></div><div class="c nm f1" style="left:46px;width:182px;padding-left:10px"><span><i class="fl" style="background:linear-gradient(#c84058 0 17%,#f8f0f2 17% 31%,#2d2a58 31% 69%,#f8f0f2 69% 83%,#c84058 83%)"></i>泰国 <b>TH-02</b></span></div><div class="c f2" style="left:228px;width:58px;"><span>Trojan</span></div><div class="c f3 k" style="left:286px;width:70px;background:#1aee6b;"><span>105ms</span></div><div class="c f4 k" style="left:356px;width:89px;background:#7da13f;"><span>734ms</span></div><div class="c f5 k" style="left:445px;width:125px;background:#fbd590;"><span>商宽<b>/</b>机房<b>IP</b></span></div><div class="c f6 k" style="left:570px;width:55px;background:#ecebea;"><span>无<b>(</b>无<b>)</b></span></div><div class="c f7 k" style="left:625px;width:89px;background:#fad387;"><span>待解锁<b>(TH)</b></span></div><div class="c f8 k" style="left:714px;width:74px;background:#ea6a72;"><span>失败</span></div><div class="c f9 k" style="left:788px;width:82px;background:#bae783;"><span>解锁<b>(TH)</b></span></div><div class="c f10 k" style="left:870px;width:73px;background:#bae783;"><span>解锁<b>(US)</b></span></div><div class="c f11 k" style="left:943px;width:80px;background:#e8749d;"><span>25.93MB</span></div><div class="c f12 k" style="left:1023px;width:83px;background:#fb5a5c;"><span>30.69MB</span></div><div class="c" style="left:1106px;width:74px"><svg width="74" height="24" style="position:absolute;left:0;top:0"><rect x="1.20" y="16.65" width="10.90" height="6.75" fill="#b6a8f4"/><rect x="11.48" y="15.30" width="10.90" height="8.10" fill="#b6a8f4"/><rect x="21.76" y="11.02" width="10.90" height="12.38" fill="#f9526e"/><rect x="32.04" y="10.12" width="10.90" height="13.27" fill="#fc5858"/><rect x="42.32" y="10.80" width="10.90" height="12.60" fill="#fb5660"/><rect x="52.60" y="10.57" width="10.90" height="12.82" fill="#fb5660"/><rect x="62.88" y="10.57" width="10.30" height="12.82" fill="#fc5a5a"/></svg></div><div class="c f14" style="left:1180px;width:301px;letter-spacing:-0.19px;"><span>TH·Siamdata Communication Co.·AS56309</span></div><div class="c f15" style="left:1481px;width:119px;letter-spacing:-0.25px;"><span>FullCone</span></div></div>
<div class="r d" style="top:1672px;height:23px;line-height:23px"><div class="c f0" style="left:0px;width:46px;"><span>69</span></div><div class="c nm f1" style="left:46px;width:182px;padding-left:10px"><span><i class="fl" style="background:linear-gradient(to top right,rgba(0,0,0,0) 50%,#1a3ca8 50.5%) 0 0/6px 50% no-repeat,linear-gradient(#1a3ca8,#1a3ca8) 6px 0/100% 50% no-repeat,linear-gradient(to bottom right,rgba(0,0,0,0) 50%,#c8202f 50.5%) 0 100%/6px 50% no-repeat,linear-gradient(#c8202f,#c8202f) 6px 100%/100% 50% no-repeat,#f4f0e0"></i>菲律宾 <b>PH-01</b></span></div><div class="c f2" style="left:228px;width:58px;"><span>Trojan</span></div><div class="c f3 k" style="left:286px;width:70px;background:#12f46f;"><span>51ms</span></div><div class="c f4 k" style="left:356px;width:89px;background:#36d85e;"><span>285ms</span></div><div class="c f5 k" style="left:445px;width:125px;background:#fbd590;"><span>商宽<b>/</b>机房<b>IP</b></span></div><div class="c f6 k" style="left:570px;width:55px;background:#ecebea;"><span>无<b>(</b>无<b>)</b></span></div><div class="c f7 k" style="left:625px;width:89px;background:#8e8c90;"><span>查询失败</span></div><div class="c f8 k" style="left:714px;width:74px;background:#8e8c90;"><span><b>N/A</b></span></div><div class="c f9 k" style="left:788px;width:82px;background:#bae783;"><span>解锁<b>(PH)</b></span></div><div class="c f10 k" style="left:870px;width:73px;background:#bae783;"><span>解锁<b>(US)</b></span></div><div class="c f11 k" style="left:943px;width:80px;background:#cc98ef;"><span>19.64MB</span></div><div class="c f12 k" style="left:1023px;width:83px;background:#e478a8;"><span>25.19MB</span></div><div class="c" style="left:1106px;width:74px"><svg width="74" height="23" style="position:absolute;left:0;top:0"><rect x="1.20" y="18.31" width="10.90" height="4.08" fill="#b6a8f4"/><rect x="11.48" y="17.02" width="10.90" height="5.38" fill="#b6a8f4"/><rect x="21.76" y="15.30" width="10.90" height="7.10" fill="#c0a2f0"/><rect x="32.04" y="12.08" width="10.90" height="10.32" fill="#e072a8"/><rect x="42.32" y="13.58" width="10.90" height="8.81" fill="#cc90e0"/><rect x="52.60" y="12.08" width="10.90" height="10.32" fill="#e072a8"/><rect x="62.88" y="13.37" width="10.30" height="9.03" fill="#d888c8"/></svg></div><div class="c f14" style="left:1180px;width:301px;letter-spacing:-0.3px;"><span>PH·Eastern Communications·AS9658</span></div><div class="c f15" style="left:1481px;width:119px;letter-spacing:-0.25px;"><span>FullCone</span></div></div>
<div class="r d" style="top:1695px;height:24px;line-height:24px"><div class="c f0" style="left:0px;width:46px;"><span>70</span></div><div class="c nm f1" style="left:46px;width:182px;padding-left:10px"><span><i class="fl" style="background:linear-gradient(to top right,rgba(0,0,0,0) 50%,#1a3ca8 50.5%) 0 0/6px 50% no-repeat,linear-gradient(#1a3ca8,#1a3ca8) 6px 0/100% 50% no-repeat,linear-gradient(to bottom right,rgba(0,0,0,0) 50%,#c8202f 50.5%) 0 100%/6px 50% no-repeat,linear-gradient(#c8202f,#c8202f) 6px 100%/100% 50% no-repeat,#f4f0e0"></i>菲律宾 <b>PH-02</b></span></div><div class="c f2" style="left:228px;width:58px;"><span>Trojan</span></div><div class="c f3 k" style="left:286px;width:70px;background:#13f36e;"><span>62ms</span></div><div class="c f4 k" style="left:356px;width:89px;background:#44cd58;"><span>373ms</span></div><div class="c f5 k" style="left:445px;width:125px;background:#fbd590;letter-spacing:-.1px;"><span>商宽<b>/</b>机房<b>IP|VPN</b></span></div><div class="c f6 k" style="left:570px;width:55px;background:#ecebea;"><span>无<b>(</b>无<b>)</b></span></div><div class="c f7 k" style="left:625px;width:89px;background:#8e8c90;"><span>查询失败</span></div><div class="c f8 k" style="left:714px;width:74px;background:#8e8c90;"><span><b>N/A</b></span></div><div class="c f9 k" style="left:788px;width:82px;background:#bae783;"><span>解锁<b>(PH)</b></span></div><div class="c f10 k" style="left:870px;width:73px;background:#bae783;"><span>解锁<b>(JP)</b></span></div><div class="c f11 k" style="left:943px;width:80px;background:#d1edfc;"><span>2.16MB</span></div><div class="c f12 k" style="left:1023px;width:83px;background:#c4e1fc;"><span>4.19MB</span></div><div class="c" style="left:1106px;width:74px"><svg width="74" height="24" style="position:absolute;left:0;top:0"><rect x="1.20" y="22.70" width="10.90" height="0.70" fill="#c4c8dc"/><rect x="11.48" y="22.70" width="10.90" height="0.70" fill="#c4c8dc"/><rect x="21.76" y="22.70" width="10.90" height="0.70" fill="#c4c8dc"/><rect x="32.04" y="22.70" width="10.90" height="0.70" fill="#c4c8dc"/><rect x="42.32" y="22.70" width="10.90" height="0.70" fill="#c4c8dc"/><rect x="52.60" y="22.70" width="10.90" height="0.70" fill="#c4c8dc"/><rect x="62.88" y="22.50" width="10.30" height="0.90" fill="#c4c8dc"/></svg></div><div class="c f14" style="left:1180px;width:301px;letter-spacing:-0.3px;"><span>PH·Eastern Communications·AS9658</span></div><div class="c f15" style="left:1481px;width:119px;letter-spacing:-0.25px;"><span>FullCone</span></div></div>
<div class="r d" style="top:1719px;height:24px;line-height:24px"><div class="c f0" style="left:0px;width:46px;"><span>71</span></div><div class="c nm f1" style="left:46px;width:182px;padding-left:10px"><span><i class="fl" style="background:radial-gradient(circle at 50% 50%,#f8d868 0 1.6px,#d0281e 2.4px)"></i>越南 <b>VN-01</b></span></div><div class="c f2" style="left:228px;width:58px;"><span>Trojan</span></div><div class="c f3 k" style="left:286px;width:70px;background:#13f36e;"><span>61ms</span></div><div class="c f4 k" style="left:356px;width:89px;background:#78a441;"><span>703ms</span></div><div class="c f5 k" style="left:445px;width:125px;background:#fbd590;"><span>商宽<b>/</b>机房<b>IP</b></span></div><div class="c f6 k" style="left:570px;width:55px;background:#ecebea;"><span>无<b>(</b>无<b>)</b></span></div><div class="c f7 k" style="left:625px;width:89px;background:#fad387;"><span>待解锁<b>(VN)</b></span></div><div class="c f8 k" style="left:714px;width:74px;background:#ea6a72;"><span>失败</span></div><div class="c f9 k" style="left:788px;width:82px;background:#bae783;"><span>解锁<b>(VN)</b></span></div><div class="c f10 k" style="left:870px;width:73px;background:#bae783;"><span>解锁<b>(US)</b></span></div><div class="c f11 k" style="left:943px;width:80px;background:#aaacf6;"><span>11.56MB</span></div><div class="c f12 k" style="left:1023px;width:83px;background:#b0a8f6;"><span>12.98MB</span></div><div class="c" style="left:1106px;width:74px"><svg width="74" height="24" style="position:absolute;left:0;top:0"><rect x="1.20" y="18.90" width="10.90" height="4.50" fill="#a9b4f0"/><rect x="11.48" y="18.90" width="10.90" height="4.50" fill="#a9b4f0"/><rect x="21.76" y="18.90" width="10.90" height="4.50" fill="#a9b4f0"/><rect x="32.04" y="18.90" width="10.90" height="4.50" fill="#a9b4f0"/><rect x="42.32" y="18.67" width="10.90" height="4.72" fill="#a9b4f0"/><rect x="52.60" y="18.67" width="10.90" height="4.72" fill="#a9b4f0"/><rect x="62.88" y="18.90" width="10.30" height="4.50" fill="#a9b4f0"/></svg></div><div class="c f14" style="left:1180px;width:301px;letter-spacing:-0.09px;"><span>VN·Vpsttt Computer Company·AS150862</span></div><div class="c f15" style="left:1481px;width:119px;letter-spacing:-0.25px;"><span>FullCone</span></div></div>
<div class="r d" style="top:1743px;height:24px;line-height:24px"><div class="c f0" style="left:0px;width:46px;"><span>72</span></div><div class="c nm f1" style="left:46px;width:182px;padding-left:10px"><span><i class="fl" style="background:radial-gradient(circle at 50% 50%,#f8d868 0 1.6px,#d0281e 2.4px)"></i>越南 <b>VN-02</b></span></div><div class="c f2" style="left:228px;width:58px;"><span>Trojan</span></div><div class="c f3 k" style="left:286px;width:70px;background:#13f36e;"><span>59ms</span></div><div class="c f4 k" style="left:356px;width:89px;background:#5abb4e;"><span>515ms</span></div><div class="c f5 k" style="left:445px;width:125px;background:#fbd590;"><span>商宽<b>/</b>机房<b>IP</b></span></div><div class="c f6 k" style="left:570px;width:55px;background:#ecebea;"><span>无<b>(</b>无<b>)</b></span></div><div class="c f7 k" style="left:625px;width:89px;background:#fad387;"><span>待解锁<b>(VN)</b></span></div><div class="c f8 k" style="left:714px;width:74px;background:#ea6a72;"><span>失败</span></div><div class="c f9 k" style="left:788px;width:82px;background:#fbd590;"><span>送中<b>(CN)</b></span></div><div class="c f10 k" style="left:870px;width:73px;background:#bae783;"><span>解锁<b>(US)</b></span></div><div class="c f11 k" style="left:943px;width:80px;background:#fb5264;"><span>32.53MB</span></div><div class="c f12 k" style="left:1023px;width:83px;background:#fc2078;"><span>55.50MB</span></div><div class="c" style="left:1106px;width:74px"><svg width="74" height="24" style="position:absolute;left:0;top:0"><rect x="1.20" y="6.30" width="10.90" height="17.10" fill="#fb4268"/><rect x="11.48" y="8.32" width="10.90" height="15.08" fill="#fb4268"/><rect x="21.76" y="5.40" width="10.90" height="18.00" fill="#fc3070"/><rect x="32.04" y="1.12" width="10.90" height="22.27" fill="#fc2078"/><rect x="42.32" y="5.40" width="10.30" height="18.00" fill="#fc2078"/></svg></div><div class="c f14" style="left:1180px;width:301px;letter-spacing:-0.09px;"><span>VN·Vpsttt Computer Company·AS150862</span></div><div class="c f15" style="left:1481px;width:119px;letter-spacing:0.37px;"><span>Unknown</span></div></div>
<div class="r d" style="top:1767px;height:24px;line-height:24px"><div class="c f0" style="left:0px;width:46px;"><span>73</span></div><div class="c nm f1" style="left:46px;width:182px;padding-left:10px"><span><i class="fl" style="background:linear-gradient(#d83044 50%,#fbf2f2 50%)"></i>印度尼西亚 <b>ID-01</b></span></div><div class="c f2" style="left:228px;width:58px;"><span>Trojan</span></div><div class="c f3 k" style="left:286px;width:70px;background:#2ede62;"><span>230ms</span></div><div class="c f4 k" style="left:356px;width:89px;background:#a1852f;"><span>963ms</span></div><div class="c f5 k" style="left:445px;width:125px;background:#fbd590;"><span>商宽<b>/</b>机房<b>IP</b></span></div><div class="c f6 k" style="left:570px;width:55px;background:#ecebea;"><span>无<b>(</b>无<b>)</b></span></div><div class="c f7 k" style="left:625px;width:89px;background:#bae783;"><span>解锁<b>(SG)</b></span></div><div class="c f8 k" style="left:714px;width:74px;background:#ea6a72;"><span>失败</span></div><div class="c f9 k" style="left:788px;width:82px;background:#5fd0e8;"><span>解锁<b>(</b>未知<b>)</b></span></div><div class="c f10 k" style="left:870px;width:73px;background:#bae783;"><span>解锁<b>(JP)</b></span></div><div class="c f11 k" style="left:943px;width:80px;background:#c2e0fc;"><span>4.37MB</span></div><div class="c f12 k" style="left:1023px;width:83px;background:#bda8f6;"><span>16.04MB</span></div><div class="c" style="left:1106px;width:74px"><svg width="74" height="24" style="position:absolute;left:0;top:0"><rect x="32.04" y="18.45" width="10.90" height="4.95" fill="#b6a8f4"/><rect x="42.32" y="17.10" width="10.30" height="6.30" fill="#b6a8f4"/></svg></div><div class="c f14" style="left:1180px;width:301px;letter-spacing:-0.19px;"><span>ID·PT Herza Digital Indonesia·AS140443</span></div><div class="c f15" style="left:1481px;width:119px;letter-spacing:0.37px;"><span>Unknown</span></div></div>
<div class="r d" style="top:1791px;height:24px;line-height:24px"><div class="c f0" style="left:0px;width:46px;"><span>74</span></div><div class="c nm f1" style="left:46px;width:182px;padding-left:10px"><span><i class="fl" style="background:linear-gradient(#d83044 50%,#fbf2f2 50%)"></i>印度尼西亚 <b>ID-02</b></span></div><div class="c f2" style="left:228px;width:58px;"><span>Trojan</span></div><div class="c f3 k" style="left:286px;width:70px;background:#17f06d;"><span>83ms</span></div><div class="c f4 k" style="left:356px;width:89px;background:#43ce59;"><span>364ms</span></div><div class="c f5 k" style="left:445px;width:125px;background:#fbd590;"><span>商宽<b>/</b>机房<b>IP</b></span></div><div class="c f6 k" style="left:570px;width:55px;background:#ecebea;"><span>无<b>(</b>无<b>)</b></span></div><div class="c f7 k" style="left:625px;width:89px;background:#fad387;"><span>待解锁<b>(ID)</b></span></div><div class="c f8 k" style="left:714px;width:74px;background:#ea6a72;"><span>失败</span></div><div class="c f9 k" style="left:788px;width:82px;background:#bae783;"><span>解锁<b>(ID)</b></span></div><div class="c f10 k" style="left:870px;width:73px;background:#bae783;"><span>解锁<b>(US)</b></span></div><div class="c f11 k" style="left:943px;width:80px;background:#fc4270;"><span>41.16MB</span></div><div class="c f12 k" style="left:1023px;width:83px;background:#fc2078;"><span>62.47MB</span></div><div class="c" style="left:1106px;width:74px"><svg width="74" height="24" style="position:absolute;left:0;top:0"><rect x="1.20" y="2.92" width="10.90" height="20.48" fill="#fc2078"/><rect x="11.48" y="2.02" width="10.90" height="21.38" fill="#fc2078"/><rect x="21.76" y="1.35" width="10.90" height="22.05" fill="#fc2078"/><rect x="32.04" y="5.85" width="10.90" height="17.55" fill="#fc2078"/><rect x="42.32" y="4.05" width="10.30" height="19.35" fill="#fc2078"/></svg></div><div class="c f14" style="left:1180px;width:301px;letter-spacing:-0.19px;"><span>ID·PT Herza Digital Indonesia·AS140443</span></div><div class="c f15" style="left:1481px;width:119px;letter-spacing:0.37px;"><span>Unknown</span></div></div>
<div class="r d" style="top:1815px;height:24px;line-height:24px"><div class="c f0" style="left:0px;width:46px;"><span>75</span></div><div class="c nm f1" style="left:46px;width:182px;padding-left:10px"><span><i class="fl" style="background:linear-gradient(#c8304a,#c8304a) 50% 0/1.8px 100% no-repeat,linear-gradient(#c8304a,#c8304a) 0 50%/100% 1.8px no-repeat,linear-gradient(#fff,#fff) 50% 0/3.6px 100% no-repeat,linear-gradient(#fff,#fff) 0 50%/100% 3.6px no-repeat,repeating-linear-gradient(35deg,#fff 0 1.2px,#c8506a 1.2px 2px,#fff 2px 3px,#39407c 3px 5px)"></i>英国 <b>UK-01</b></span></div><div class="c f2" style="left:228px;width:58px;"><span>Trojan</span></div><div class="c f3 k" style="left:286px;width:70px;background:#2fde62;"><span>236ms</span></div><div class="c f4 k" style="left:356px;width:89px;background:#e15312;"><span>1371ms</span></div><div class="c f5 k" style="left:445px;width:125px;background:#fbd590;"><span>商宽<b>/</b>机房<b>IP</b></span></div><div class="c f6 k" style="left:570px;width:55px;background:#ecebea;"><span>无<b>(</b>无<b>)</b></span></div><div class="c f7 k" style="left:625px;width:89px;background:#ea6a72;"><span>失败</span></div><div class="c f8 k" style="left:714px;width:74px;background:#bae783;"><span>解锁<b>(GB)</b></span></div><div class="c f9 k" style="left:788px;width:82px;background:#8e8c90;"><span><b>N/A</b></span></div><div class="c f10 k" style="left:870px;width:73px;background:#bae783;"><span>解锁<b>(GB)</b></span></div><div class="c f11 k" style="left:943px;width:80px;background:#fc2378;"><span>53.13MB</span></div><div class="c f12 k" style="left:1023px;width:83px;background:#fc2078;"><span>88.25MB</span></div><div class="c" style="left:1106px;width:74px"><svg width="74" height="24" style="position:absolute;left:0;top:0"><rect x="1.20" y="9.22" width="10.90" height="14.18" fill="#fc2078"/><rect x="11.48" y="5.40" width="10.90" height="18.00" fill="#fc2078"/><rect x="21.76" y="1.57" width="10.90" height="21.82" fill="#fc2078"/><rect x="32.04" y="3.60" width="10.90" height="19.80" fill="#fc2078"/><rect x="42.32" y="6.30" width="10.30" height="17.10" fill="#fc2078"/></svg></div><div class="c f14" style="left:1180px;width:301px;letter-spacing:-0.41px;"><span>GB·Clouvider·AS62240</span></div><div class="c f15" style="left:1481px;width:119px;letter-spacing:0.37px;"><span>Unknown</span></div></div>
<div class="r d" style="top:1839px;height:24px;line-height:24px"><div class="c f0" style="left:0px;width:46px;"><span>76</span></div><div class="c nm f1" style="left:46px;width:182px;padding-left:10px"><span><i class="fl" style="background:linear-gradient(#c8304a,#c8304a) 50% 0/1.8px 100% no-repeat,linear-gradient(#c8304a,#c8304a) 0 50%/100% 1.8px no-repeat,linear-gradient(#fff,#fff) 50% 0/3.6px 100% no-repeat,linear-gradient(#fff,#fff) 0 50%/100% 3.6px no-repeat,repeating-linear-gradient(35deg,#fff 0 1.2px,#c8506a 1.2px 2px,#fff 2px 3px,#39407c 3px 5px)"></i>英国 <b>UK-02</b></span></div><div class="c f2" style="left:228px;width:58px;"><span>Trojan</span></div><div class="c f3 k" style="left:286px;width:70px;background:#2ddf62;"><span>227ms</span></div><div class="c f4 k" style="left:356px;width:89px;background:#ff3c05;"><span>3155ms</span></div><div class="c f5 k" style="left:445px;width:125px;background:#fbd590;"><span>商宽<b>/</b>机房<b>IP</b></span></div><div class="c f6 k" style="left:570px;width:55px;background:#ecebea;"><span>无<b>(</b>无<b>)</b></span></div><div class="c f7 k" style="left:625px;width:89px;background:#ea6a72;"><span>失败</span></div><div class="c f8 k" style="left:714px;width:74px;background:#bae783;"><span>解锁<b>(GB)</b></span></div><div class="c f9 k" style="left:788px;width:82px;background:#5fd0e8;"><span>解锁<b>(</b>未知<b>)</b></span></div><div class="c f10" style="left:870px;width:73px;"><span><b>-</b></span></div><div class="c f11 k" style="left:943px;width:80px;background:#fc2577;"><span>52.31MB</span></div><div class="c f12 k" style="left:1023px;width:83px;background:#fc2078;"><span>78.48MB</span></div><div class="c" style="left:1106px;width:74px"><svg width="74" height="24" style="position:absolute;left:0;top:0"><rect x="1.20" y="16.20" width="10.90" height="7.20" fill="#e07292"/><rect x="11.48" y="4.95" width="10.90" height="18.45" fill="#fc2078"/><rect x="21.76" y="4.95" width="10.90" height="18.45" fill="#fc2078"/><rect x="32.04" y="1.80" width="10.90" height="21.60" fill="#fc2078"/><rect x="42.32" y="4.50" width="10.90" height="18.90" fill="#fc2078"/><rect x="52.60" y="6.30" width="10.30" height="17.10" fill="#fc2078"/></svg></div><div class="c f14" style="left:1180px;width:301px;letter-spacing:-0.41px;"><span>GB·Clouvider·AS62240</span></div><div class="c f15" style="left:1481px;width:119px;letter-spacing:-0.25px;"><span>FullCone</span></div></div>
<div class="r d" style="top:1863px;height:23px;line-height:23px"><div class="c f0" style="left:0px;width:46px;"><span>77</span></div><div class="c nm f1" style="left:46px;width:182px;padding-left:10px"><span><i class="fl" style="background:linear-gradient(#1c1c1c 35%,#d42a1a 35% 66%,#fcc820 66%)"></i>德国 <b>DE-01</b></span></div><div class="c f2" style="left:228px;width:58px;"><span>Trojan</span></div><div class="c f3 k" style="left:286px;width:70px;background:#2be063;"><span>213ms</span></div><div class="c f4 k" style="left:356px;width:89px;background:#ff3c05;"><span>1816ms</span></div><div class="c f5 k" style="left:445px;width:125px;background:#fbd590;"><span>商宽<b>/</b>机房<b>IP</b></span></div><div class="c f6 k" style="left:570px;width:55px;background:#ecebea;"><span>无<b>(</b>无<b>)</b></span></div><div class="c f7 k" style="left:625px;width:89px;background:#bae783;"><span>解锁<b>(DE)</b></span></div><div class="c f8 k" style="left:714px;width:74px;background:#bae783;"><span>解锁<b>(DE)</b></span></div><div class="c f9 k" style="left:788px;width:82px;background:#bae783;"><span>解锁<b>(DE)</b></span></div><div class="c f10" style="left:870px;width:73px;"><span><b>-</b></span></div><div class="c f11 k" style="left:943px;width:80px;background:#fc2078;"><span>66.85MB</span></div><div class="c f12 k" style="left:1023px;width:83px;background:#fc2078;"><span>94.14MB</span></div><div class="c" style="left:1106px;width:74px"><svg width="74" height="23" style="position:absolute;left:0;top:0"><rect x="1.20" y="18.96" width="10.90" height="3.44" fill="#b6a8f4"/><rect x="11.48" y="6.06" width="10.90" height="16.34" fill="#fc2078"/><rect x="21.76" y="4.98" width="10.90" height="17.42" fill="#fc2078"/><rect x="32.04" y="3.91" width="10.90" height="18.49" fill="#fc2078"/><rect x="42.32" y="1.54" width="10.90" height="20.86" fill="#fc2078"/><rect x="52.60" y="1.54" width="10.90" height="20.86" fill="#fc2078"/><rect x="62.88" y="15.52" width="10.30" height="6.88" fill="#f95466"/></svg></div><div class="c f14" style="left:1180px;width:301px;letter-spacing:-0.3px;"><span>NL·Ian David Klemm·AS200461</span></div><div class="c f15" style="left:1481px;width:119px;letter-spacing:-0.25px;"><span>FullCone</span></div></div>
<div class="r d" style="top:1886px;height:24px;line-height:24px"><div class="c f0" style="left:0px;width:46px;"><span>78</span></div><div class="c nm f1" style="left:46px;width:182px;padding-left:10px"><span><i class="fl" style="background:linear-gradient(#1c1c1c 35%,#d42a1a 35% 66%,#fcc820 66%)"></i>德国 <b>DE-02</b></span></div><div class="c f2" style="left:228px;width:58px;"><span>Trojan</span></div><div class="c f3 k" style="left:286px;width:70px;background:#2ce063;"><span>220ms</span></div><div class="c f4 k" style="left:356px;width:89px;background:#df5413;"><span>1361ms</span></div><div class="c f5 k" style="left:445px;width:125px;background:#fbd590;"><span>商宽<b>/</b>机房<b>IP</b></span></div><div class="c f6 k" style="left:570px;width:55px;background:#ecebea;"><span>无<b>(</b>无<b>)</b></span></div><div class="c f7 k" style="left:625px;width:89px;background:#bae783;"><span>解锁<b>(DE)</b></span></div><div class="c f8 k" style="left:714px;width:74px;background:#bae783;"><span>解锁<b>(DE)</b></span></div><div class="c f9 k" style="left:788px;width:82px;background:#bae783;"><span>解锁<b>(DE)</b></span></div><div class="c f10 k" style="left:870px;width:73px;background:#bae783;"><span>解锁<b>(US)</b></span></div><div class="c f11 k" style="left:943px;width:80px;background:#fc2078;"><span>57.46MB</span></div><div class="c f12 k" style="left:1023px;width:83px;background:#fc2078;"><span>81.09MB</span></div><div class="c" style="left:1106px;width:74px"><svg width="74" height="24" style="position:absolute;left:0;top:0"><rect x="11.48" y="13.72" width="10.90" height="9.68" fill="#f93a68"/><rect x="21.76" y="6.30" width="10.90" height="17.10" fill="#fc2078"/><rect x="32.04" y="1.80" width="10.90" height="21.60" fill="#fc2078"/><rect x="42.32" y="3.38" width="10.90" height="20.02" fill="#fc2078"/><rect x="52.60" y="4.05" width="10.90" height="19.35" fill="#fc2078"/><rect x="62.88" y="4.95" width="10.30" height="18.45" fill="#fc2078"/></svg></div><div class="c f14" style="left:1180px;width:301px;letter-spacing:-0.3px;"><span>NL·Ian David Klemm·AS200461</span></div><div class="c f15" style="left:1481px;width:119px;letter-spacing:-0.25px;"><span>FullCone</span></div></div>
<div class="r d" style="top:1910px;height:24px;line-height:24px"><div class="c f0" style="left:0px;width:46px;"><span>79</span></div><div class="c nm f1" style="left:46px;width:182px;padding-left:10px"><span><i class="fl" style="background:linear-gradient(90deg,#1a2e94 34%,#f6f2f4 34% 64%,#dc4052 64%)"></i>法国 <b>FR-01</b></span></div><div class="c f2" style="left:228px;width:58px;"><span>Trojan</span></div><div class="c f3 k" style="left:286px;width:70px;background:#30dd61;"><span>243ms</span></div><div class="c f4 k" style="left:356px;width:89px;background:#ff3c05;"><span>2570ms</span></div><div class="c f5 k" style="left:445px;width:125px;background:#fbd590;letter-spacing:-.1px;"><span>商宽<b>/</b>机房<b>IP|VPN</b></span></div><div class="c f6 k" style="left:570px;width:55px;background:#ecebea;"><span>无<b>(</b>无<b>)</b></span></div><div class="c f7 k" style="left:625px;width:89px;background:#8e8c90;"><span>查询失败</span></div><div class="c f8 k" style="left:714px;width:74px;background:#ea6a72;"><span>失败</span></div><div class="c f9 k" style="left:788px;width:82px;background:#bae783;"><span>解锁<b>(FR)</b></span></div><div class="c f10 k" style="left:870px;width:73px;background:#bae783;"><span>解锁<b>(US)</b></span></div><div class="c f11 k" style="left:943px;width:80px;background:#ceeafc;"><span>2.66MB</span></div><div class="c f12 k" style="left:1023px;width:83px;background:#abc2f8;"><span>8.62MB</span></div><div class="c" style="left:1106px;width:74px"><svg width="74" height="24" style="position:absolute;left:0;top:0"><rect x="1.20" y="22.70" width="10.90" height="0.70" fill="#c4c8dc"/><rect x="11.48" y="22.70" width="10.90" height="0.70" fill="#c4c8dc"/><rect x="21.76" y="22.70" width="10.90" height="0.70" fill="#c4c8dc"/><rect x="32.04" y="20.02" width="10.90" height="3.38" fill="#a9b4f0"/><rect x="42.32" y="20.02" width="10.90" height="3.38" fill="#a9b4f0"/><rect x="52.60" y="22.70" width="10.30" height="0.70" fill="#c4c8dc"/></svg></div><div class="c f14" style="left:1180px;width:301px;letter-spacing:-0.56px;"><span>FR·Vultr·AS20473</span></div><div class="c f15" style="left:1481px;width:119px;letter-spacing:0.37px;"><span>Unknown</span></div></div>
<div class="r d" style="top:1934px;height:24px;line-height:24px"><div class="c f0" style="left:0px;width:46px;"><span>80</span></div><div class="c nm f1" style="left:46px;width:182px;padding-left:10px"><span><i class="fl" style="background:linear-gradient(90deg,#1a2e94 34%,#f6f2f4 34% 64%,#dc4052 64%)"></i>法国 <b>FR-02</b></span></div><div class="c f2" style="left:228px;width:58px;"><span>Trojan</span></div><div class="c f3 k" style="left:286px;width:70px;background:#36d85e;"><span>284ms</span></div><div class="c f4 k" style="left:356px;width:89px;background:#f44409;"><span>1490ms</span></div><div class="c f5 k" style="left:445px;width:125px;background:#fbd590;"><span>商宽<b>/</b>机房<b>IP</b></span></div><div class="c f6 k" style="left:570px;width:55px;background:#ecebea;"><span>无<b>(</b>无<b>)</b></span></div><div class="c f7 k" style="left:625px;width:89px;background:#8e8c90;"><span>查询失败</span></div><div class="c f8 k" style="left:714px;width:74px;background:#bae783;"><span>解锁<b>(FR)</b></span></div><div class="c f9 k" style="left:788px;width:82px;background:#bae783;"><span>解锁<b>(FR)</b></span></div><div class="c f10 k" style="left:870px;width:73px;background:#bae783;"><span>解锁<b>(US)</b></span></div><div class="c f11 k" style="left:943px;width:80px;background:#fc5070;"><span>36.34MB</span></div><div class="c f12 k" style="left:1023px;width:83px;background:#fc2b76;"><span>50.25MB</span></div><div class="c" style="left:1106px;width:74px"><svg width="74" height="24" style="position:absolute;left:0;top:0"><rect x="1.20" y="20.92" width="10.90" height="2.48" fill="#b2b8e8"/><rect x="11.48" y="5.17" width="10.90" height="18.23" fill="#fc2078"/><rect x="21.76" y="4.05" width="10.90" height="19.35" fill="#fc2078"/><rect x="32.04" y="1.80" width="10.90" height="21.60" fill="#fc2078"/><rect x="42.32" y="2.02" width="10.90" height="21.38" fill="#fc2078"/><rect x="52.60" y="4.05" width="10.90" height="19.35" fill="#fc2078"/><rect x="62.88" y="17.10" width="10.30" height="6.30" fill="#b2aae8"/></svg></div><div class="c f14" style="left:1180px;width:301px;letter-spacing:-0.51px;"><span>FR·Zkillu·AS215599</span></div><div class="c f15" style="left:1481px;width:119px;letter-spacing:-0.25px;"><span>FullCone</span></div></div>
<div class="r d" style="top:1958px;height:24px;line-height:24px"><div class="c f0" style="left:0px;width:46px;"><span>81</span></div><div class="c nm f1" style="left:46px;width:182px;padding-left:10px"><span><i class="fl" style="background:radial-gradient(circle at 48% 50%,#d8283a 0 1.5px,rgba(0,0,0,0) 1.8px),radial-gradient(circle at 40% 50%,#fff 0 2.2px,#d8283a 2.6px)"></i>土耳其 <b>TR-01</b></span></div><div class="c f2" style="left:228px;width:58px;"><span>Trojan</span></div><div class="c f3 k" style="left:286px;width:70px;background:#42ce59;"><span>362ms</span></div><div class="c f4 k" style="left:356px;width:89px;background:#ff3c05;"><span>1663ms</span></div><div class="c f5 k" style="left:445px;width:125px;background:#fbd590;"><span>商宽<b>/</b>机房<b>IP</b></span></div><div class="c f6 k" style="left:570px;width:55px;background:#ecebea;"><span>无<b>(</b>无<b>)</b></span></div><div class="c f7 k" style="left:625px;width:89px;background:#bae783;"><span>解锁<b>(TR)</b></span></div><div class="c f8 k" style="left:714px;width:74px;background:#ea6a72;"><span>失败</span></div><div class="c f9 k" style="left:788px;width:82px;background:#bae783;"><span>解锁<b>(TR)</b></span></div><div class="c f10 k" style="left:870px;width:73px;background:#bae783;"><span>解锁<b>(TR)</b></span></div><div class="c f11 k" style="left:943px;width:80px;background:#eafcfe;"><span>122.73KB</span></div><div class="c f12 k" style="left:1023px;width:83px;background:#d9f8fc;"><span>814.45KB</span></div><div class="c" style="left:1106px;width:74px"></div><div class="c f14" style="left:1180px;width:301px;letter-spacing:-0.8px;"><span>TR·BOGAHOST LTD STI.·AS207633</span></div><div class="c f15" style="left:1481px;width:119px;letter-spacing:0.37px;"><span>Unknown</span></div></div>
<div class="r d" style="top:1982px;height:24px;line-height:24px"><div class="c f0" style="left:0px;width:46px;"><span>82</span></div><div class="c nm f1" style="left:46px;width:182px;padding-left:10px"><span><i class="fl" style="background:radial-gradient(circle at 48% 50%,#d8283a 0 1.5px,rgba(0,0,0,0) 1.8px),radial-gradient(circle at 40% 50%,#fff 0 2.2px,#d8283a 2.6px)"></i>土耳其 <b>TR-02</b></span></div><div class="c f2" style="left:228px;width:58px;"><span>Trojan</span></div><div class="c f3 k" style="left:286px;width:70px;background:#44cd58;"><span>373ms</span></div><div class="c f4 k" style="left:356px;width:89px;background:#ff3c05;"><span>1645ms</span></div><div class="c f5 k" style="left:445px;width:125px;background:#fbd590;"><span>商宽<b>/</b>机房<b>IP</b></span></div><div class="c f6 k" style="left:570px;width:55px;background:#ecebea;"><span>无<b>(</b>无<b>)</b></span></div><div class="c f7 k" style="left:625px;width:89px;background:#bae783;"><span>解锁<b>(TR)</b></span></div><div class="c f8 k" style="left:714px;width:74px;background:#bae783;"><span>解锁<b>(TR)</b></span></div><div class="c f9 k" style="left:788px;width:82px;background:#fbd590;"><span>送中<b>(CN)</b></span></div><div class="c f10 k" style="left:870px;width:73px;background:#bae783;"><span>解锁<b>(TR)</b></span></div><div class="c f11 k" style="left:943px;width:80px;background:#b5a8f7;"><span>14.34MB</span></div><div class="c f12 k" style="left:1023px;width:83px;background:#fa6367;"><span>29.63MB</span></div><div class="c" style="left:1106px;width:74px"><svg width="74" height="24" style="position:absolute;left:0;top:0"><rect x="11.48" y="21.60" width="10.90" height="1.80" fill="#c4c8dc"/><rect x="21.76" y="16.88" width="10.90" height="6.52" fill="#b6a8f4"/><rect x="32.04" y="10.35" width="10.90" height="13.05" fill="#f95a68"/><rect x="42.32" y="12.15" width="10.90" height="11.25" fill="#e87aa0"/><rect x="52.60" y="16.65" width="10.90" height="6.75" fill="#b6a8f4"/><rect x="62.88" y="20.70" width="10.30" height="2.70" fill="#b6a8f4"/></svg></div><div class="c f14" style="left:1180px;width:301px;letter-spacing:-0.8px;"><span>TR·BOGAHOST LTD STI.·AS207633</span></div><div class="c f15" style="left:1481px;width:119px;letter-spacing:-0.25px;"><span>FullCone</span></div></div>
<div class="r d" style="top:2006px;height:24px;line-height:24px"><div class="c f0" style="left:0px;width:46px;"><span>83</span></div><div class="c nm f1" style="left:46px;width:182px;padding-left:10px"><span><i class="fl" style="background:radial-gradient(circle at 50% 50%,#2a4a9c 0 1.5px,#f4d838 1.8px 3px,#2a9a40 3.5px)"></i>巴西 <b>BR-01</b></span></div><div class="c f2" style="left:228px;width:58px;"><span>Trojan</span></div><div class="c f3 k" style="left:286px;width:70px;background:#ff3d05;"><span>-</span></div><div class="c f4 k" style="left:356px;width:89px;background:#ff3d05;"><span>-</span></div><div class="c f5" style="left:445px;width:125px;"><span><b>-</b></span></div><div class="c f6 k" style="left:570px;width:55px;background:#8e8c90;"><span><b>N/A</b></span></div><div class="c f7 k" style="left:625px;width:89px;background:#ea6a72;"><span>失败</span></div><div class="c f8 k" style="left:714px;width:74px;background:#bae783;"><span>解锁<b>(BR)</b></span></div><div class="c f9 k" style="left:788px;width:82px;background:#8e8c90;"><span><b>N/A</b></span></div><div class="c f10 k" style="left:870px;width:73px;background:#8e8c90;"><span><b>N/A</b></span></div><div class="c f11" style="left:943px;width:80px;"><span>0.00B</span></div><div class="c f12" style="left:1023px;width:83px;"><span>0.00B</span></div><div class="c" style="left:1106px;width:74px"></div><div class="c f14" style="left:1180px;width:301px;letter-spacing:-0.66px;"><span>BR·Qnax·AS268581</span></div><div class="c f15" style="left:1481px;width:119px;letter-spacing:0.37px;"><span>Unknown</span></div></div>
<div class="r d" style="top:2030px;height:24px;line-height:24px"><div class="c f0" style="left:0px;width:46px;"><span>84</span></div><div class="c nm f1" style="left:46px;width:182px;padding-left:10px"><span><i class="fl" style="background:radial-gradient(circle at 50% 50%,#2a4a9c 0 1.5px,#f4d838 1.8px 3px,#2a9a40 3.5px)"></i>巴西 <b>BR-02</b></span></div><div class="c f2" style="left:228px;width:58px;"><span>Trojan</span></div><div class="c f3 k" style="left:286px;width:70px;background:#43ce59;"><span>363ms</span></div><div class="c f4 k" style="left:356px;width:89px;background:#ff3c05;"><span>1660ms</span></div><div class="c f5 k" style="left:445px;width:125px;background:#fbd590;"><span>商宽<b>/</b>机房<b>IP</b></span></div><div class="c f6 k" style="left:570px;width:55px;background:#ecebea;"><span>无<b>(</b>无<b>)</b></span></div><div class="c f7 k" style="left:625px;width:89px;background:#ea6a72;"><span>失败</span></div><div class="c f8 k" style="left:714px;width:74px;background:#bae783;"><span>解锁<b>(BR)</b></span></div><div class="c f9 k" style="left:788px;width:82px;background:#bae783;"><span>解锁<b>(BR)</b></span></div><div class="c f10 k" style="left:870px;width:73px;background:#bae783;"><span>解锁<b>(US)</b></span></div><div class="c f11 k" style="left:943px;width:80px;background:#b6a8f8;"><span>14.59MB</span></div><div class="c f12 k" style="left:1023px;width:83px;background:#fb5660;"><span>31.66MB</span></div><div class="c" style="left:1106px;width:74px"><svg width="74" height="24" style="position:absolute;left:0;top:0"><rect x="1.20" y="14.62" width="10.90" height="8.78" fill="#c596ea"/><rect x="11.48" y="15.30" width="10.90" height="8.10" fill="#c596ea"/><rect x="21.76" y="9.67" width="10.90" height="13.72" fill="#f95a62"/><rect x="32.04" y="10.57" width="10.30" height="12.82" fill="#f95a62"/></svg></div><div class="c f14" style="left:1180px;width:301px;letter-spacing:-0.66px;"><span>BR·Qnax·AS268581</span></div><div class="c f15" style="left:1481px;width:119px;letter-spacing:-0.25px;"><span>FullCone</span></div></div>
<div class="r d" style="top:2054px;height:23px;line-height:23px"><div class="c f0" style="left:0px;width:46px;"><span>85</span></div><div class="c nm f1" style="left:46px;width:182px;padding-left:10px"><span><i class="fl" style="background:radial-gradient(circle at 50% 50%,#c8a860 0 .9px,rgba(0,0,0,0) 1.3px),linear-gradient(#8cb0dc 33%,#f8f8fa 33% 67%,#8cb0dc 67%)"></i>阿根廷 <b>AR-01</b></span></div><div class="c f2" style="left:228px;width:58px;"><span>Trojan</span></div><div class="c f3 k" style="left:286px;width:70px;background:#53c151;"><span>471ms</span></div><div class="c f4 k" style="left:356px;width:89px;background:#ff3c05;"><span>2341ms</span></div><div class="c f5 k" style="left:445px;width:125px;background:#fbd590;letter-spacing:-.1px;"><span>商宽<b>/</b>机房<b>IP|VPN</b></span></div><div class="c f6 k" style="left:570px;width:55px;background:#ecebea;"><span>无<b>(</b>无<b>)</b></span></div><div class="c f7 k" style="left:625px;width:89px;background:#8e8c90;"><span>查询失败</span></div><div class="c f8 k" style="left:714px;width:74px;background:#8e8c90;"><span><b>N/A</b></span></div><div class="c f9 k" style="left:788px;width:82px;background:#bae783;"><span>解锁<b>(AR)</b></span></div><div class="c f10 k" style="left:870px;width:73px;background:#bae783;"><span>解锁<b>(US)</b></span></div><div class="c f11 k" style="left:943px;width:80px;background:#daf8fc;"><span>737.78KB</span></div><div class="c f12 k" style="left:1023px;width:83px;background:#cde9fc;"><span>2.82MB</span></div><div class="c" style="left:1106px;width:74px"><svg width="74" height="23" style="position:absolute;left:0;top:0"><rect x="1.20" y="21.70" width="10.90" height="0.70" fill="#c4c8dc"/><rect x="11.48" y="21.70" width="10.90" height="0.70" fill="#c4c8dc"/><rect x="21.76" y="21.70" width="10.90" height="0.70" fill="#c4c8dc"/><rect x="32.04" y="21.70" width="10.30" height="0.70" fill="#c4c8dc"/></svg></div><div class="c f14" style="left:1180px;width:301px;letter-spacing:-0.17px;"><span>AR·Lightnode Limited·AS138915</span></div><div class="c f15" style="left:1481px;width:119px;letter-spacing:0.37px;"><span>Unknown</span></div></div>
<div class="r d" style="top:2077px;height:24px;line-height:24px"><div class="c f0" style="left:0px;width:46px;"><span>86</span></div><div class="c nm f1" style="left:46px;width:182px;padding-left:10px"><span><i class="fl" style="background:radial-gradient(circle at 50% 50%,#c8a860 0 .9px,rgba(0,0,0,0) 1.3px),linear-gradient(#8cb0dc 33%,#f8f8fa 33% 67%,#8cb0dc 67%)"></i>阿根廷 <b>AR-02</b></span></div><div class="c f2" style="left:228px;width:58px;"><span>Trojan</span></div><div class="c f3 k" style="left:286px;width:70px;background:#51c352;"><span>454ms</span></div><div class="c f4 k" style="left:356px;width:89px;background:#ff3c05;"><span>1886ms</span></div><div class="c f5 k" style="left:445px;width:125px;background:#fbd590;letter-spacing:-.1px;"><span>商宽<b>/</b>机房<b>IP|VPN</b></span></div><div class="c f6 k" style="left:570px;width:55px;background:#ecebea;"><span>无<b>(</b>无<b>)</b></span></div><div class="c f7 k" style="left:625px;width:89px;background:#8e8c90;"><span>查询失败</span></div><div class="c f8 k" style="left:714px;width:74px;background:#8e8c90;"><span><b>N/A</b></span></div><div class="c f9 k" style="left:788px;width:82px;background:#bae783;"><span>解锁<b>(AR)</b></span></div><div class="c f10 k" style="left:870px;width:73px;background:#bae783;"><span>解锁<b>(US)</b></span></div><div class="c f11 k" style="left:943px;width:80px;background:#cfebfc;"><span>2.48MB</span></div><div class="c f12 k" style="left:1023px;width:83px;background:#bedefc;"><span>4.87MB</span></div><div class="c" style="left:1106px;width:74px"><svg width="74" height="24" style="position:absolute;left:0;top:0"><rect x="1.20" y="22.70" width="10.90" height="0.70" fill="#c4c8dc"/><rect x="11.48" y="22.70" width="10.90" height="0.70" fill="#c4c8dc"/><rect x="21.76" y="22.70" width="10.90" height="0.70" fill="#c4c8dc"/><rect x="32.04" y="22.70" width="10.90" height="0.70" fill="#c4c8dc"/><rect x="42.32" y="22.70" width="10.30" height="0.70" fill="#c4c8dc"/></svg></div><div class="c f14" style="left:1180px;width:301px;letter-spacing:-0.17px;"><span>AR·Lightnode Limited·AS138915</span></div><div class="c f15" style="left:1481px;width:119px;letter-spacing:-0.25px;"><span>FullCone</span></div></div>
<svg style="position:absolute;left:170px;top:500px" width="48" height="70" viewBox="170 500 48 70">
<path d="M179.2 504.6 L183.6 503.8 L188.6 524.6 L184.6 525.6 Z" fill="#fff" stroke="#6e6258" stroke-width="0.8" stroke-linejoin="round"/>
<path d="M177.6 531 L182.4 560 Q184 566.5 196 566 Q208 565.2 209.6 561.5 L210.6 528 Z" fill="#fdfdfb" stroke="#8a7a68" stroke-width="0.7"/>
<path d="M178.6 536.5 Q194 534 210.4 534.6 L209.6 561.5 Q208 565.2 196 566 Q184 566.5 182.4 560 Z" fill="#f3b985"/>
<path d="M181 544 Q195 546.5 210 540" fill="none" stroke="#d89a68" stroke-width="0.6"/>
<path d="M177.6 531 L182.4 560 Q184 566.5 196 566 Q208 565.2 209.6 561.5 L210.6 528" fill="none" stroke="#8a7a68" stroke-width="0.7"/>
<ellipse cx="193.2" cy="526" rx="18.2" ry="5.4" transform="rotate(-7 193.2 526)" fill="#dcd8a2" stroke="#8a8468" stroke-width="0.7"/>
<path d="M184.6 525.6 L188.6 524.6 L187.9 521.8 L183.9 522.8 Z" fill="#fff" stroke="#6e6258" stroke-width="0.5"/>
<g fill="#3b1c12"><circle cx="187.4" cy="553" r="1.1"/><circle cx="190" cy="557" r="1.1"/><circle cx="193" cy="555.4" r="1.1"/><circle cx="194.6" cy="559.6" r="1.1"/><circle cx="198" cy="556" r="1.1"/><circle cx="200.6" cy="558.8" r="1.1"/><circle cx="202.4" cy="556" r="1.1"/><circle cx="205.2" cy="559.6" r="1.1"/><circle cx="206" cy="551.4" r="1.1"/><circle cx="189.2" cy="562" r="1.1"/><circle cx="198.2" cy="561.8" r="1.1"/></g>
</svg>
<div style="position:absolute;left:162.5px;top:577px;width:74px;font-size:27px;line-height:36px;font-weight:bold;color:#f8bd8e;-webkit-text-stroke:.9px #f8bd8e;letter-spacing:13.6px;white-space:nowrap;opacity:.95">茶波</div>
<div style="position:absolute;left:162.5px;top:624px;width:74px;font-size:27px;line-height:36px;font-weight:bold;color:#f8bd8e;-webkit-text-stroke:.9px #f8bd8e;letter-spacing:13.6px;white-space:nowrap;opacity:.95">博客</div>
<div class="wm" style="left:722px;top:22px">MiaoKo</div><div class="wm" style="left:722px;top:152px">MiaoKo</div><div class="wm" style="left:722px;top:283px">MiaoKo</div><div class="wm" style="left:722px;top:413px">MiaoKo</div><div class="wm" style="left:722px;top:544px">MiaoKo</div><div class="wm" style="left:722px;top:675px">MiaoKo</div><div class="wm" style="left:722px;top:805px">MiaoKo</div><div class="wm" style="left:722px;top:936px">MiaoKo</div><div class="wm" style="left:722px;top:1066px">MiaoKo</div><div class="wm" style="left:722px;top:1197px">MiaoKo</div><div class="wm" style="left:722px;top:1328px">MiaoKo</div><div class="wm" style="left:722px;top:1458px">MiaoKo</div><div class="wm" style="left:722px;top:1589px">MiaoKo</div><div class="wm" style="left:722px;top:1719px">MiaoKo</div><div class="wm" style="left:722px;top:1850px">MiaoKo</div><div class="wm" style="left:722px;top:1981px">MiaoKo</div><div class="wm" style="left:722px;top:2111px">MiaoKo</div><div class="r hd" style="top:2101px;height:72px"></div><div class="ft ft0" style="top:2101px;height:24px;line-height:24px;white-space:nowrap"><i style="display:inline-block;width:11px;height:11px;background:#6cc24a;border-radius:2px;vertical-align:-1px;margin:0 9px 0 3px;position:relative"><i style="position:absolute;left:2px;top:1.5px;width:5px;height:3px;border-left:2px solid #fff;border-bottom:2px solid #fff;transform:rotate(-48deg)"></i></i>已核实<b> TLS </b>证书。<b>TLS RTT </b>为单次数据交换延迟，<b> HTTPS Ping </b>为单次请求体感延迟。</div><div class="ft ft1" style="top:2125px;height:24px;line-height:24px;white-space:nowrap">主端<b>=4.3.3 (697) </b>喵速<b>=5.0.0-beta4 (</b>中山电信<b>@1Gbps), </b>线程<b>=6 </b>概要<b>=86/86 </b>排序=订阅原序 过滤器=</div><div class="ft ft2" style="top:2149px;height:24px;line-height:24px;white-space:nowrap">测试时间：<b>2025-02-13 10:58:41 (CST)</b>，本测试为试验性结果，仅供参考。</div><div class="frame"></div></div></body></html>
